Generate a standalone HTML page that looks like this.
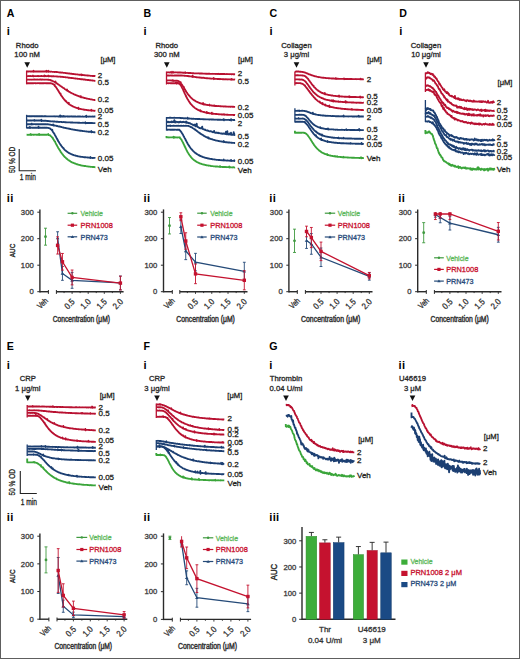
<!DOCTYPE html>
<html><head><meta charset="utf-8"><style>
html,body{margin:0;padding:0;background:#fff;}
body{width:520px;height:659px;overflow:hidden;}
svg{display:block;font-family:"Liberation Sans", sans-serif;}
</style></head><body>
<svg width="520" height="659" viewBox="0 0 520 659">
<rect x="0" y="0" width="520" height="659" fill="#fff"/>
<text x="6.80" y="16.60" font-size="10.6" text-anchor="start" fill="#000" font-weight="bold" >A</text>
<text x="6.80" y="35.00" font-size="11.2" text-anchor="start" fill="#000" font-weight="bold" letter-spacing="0.3">i</text>
<text x="27.20" y="47.50" font-size="7.7" text-anchor="middle" fill="#262626" font-weight="normal"  stroke="#262626" stroke-width="0.3">Rhodo</text>
<text x="27.20" y="57.40" font-size="7.7" text-anchor="middle" fill="#262626" font-weight="normal"  stroke="#262626" stroke-width="0.3">100 nM</text>
<path d="M24.40,62.30L30.00,62.30L27.20,67.70Z" fill="#111"/>
<text x="108.00" y="62.30" font-size="7.6" text-anchor="middle" fill="#231f20" font-weight="normal"  stroke="#231f20" stroke-width="0.3">[μM]</text>
<line x1="26.6" y1="70.5" x2="26.6" y2="84.3" stroke="#b81131" stroke-width="1.3"/>
<path d="M26.6,71.6L27.1,71.6L27.5,71.5L28.0,71.5L28.4,71.4L28.9,71.5L29.4,71.4L29.8,71.4L30.3,71.5L30.7,71.5L31.2,71.5L31.6,71.5L32.1,71.5L32.6,71.5L33.0,71.4L33.5,70.7L33.7,71.9L33.9,71.5L34.4,71.6L34.9,71.5L35.3,71.5L35.8,71.6L36.2,71.5L36.7,71.5L37.1,71.5L37.6,71.5L38.1,71.6L38.5,71.5L39.0,71.5L39.4,71.4L39.9,71.5L40.4,71.5L40.8,71.5L41.3,71.5L41.7,71.6L42.2,71.5L42.7,71.5L43.1,71.5L43.6,71.4L44.0,71.5L44.5,71.5L44.9,71.6L45.4,71.5L45.9,71.5L46.3,70.8L46.5,71.9L46.8,71.5L47.2,71.4L47.7,71.6L48.2,70.8L48.4,71.9L48.6,71.6L49.1,71.5L49.5,71.6L50.0,71.7L50.5,71.7L50.9,71.6L51.4,71.6L51.8,71.7L52.3,71.8L52.7,71.8L53.2,71.8L53.7,71.8L54.1,71.9L54.6,72.0L55.0,71.9L55.5,71.9L56.0,72.0L56.4,72.1L56.9,72.0L57.3,72.1L57.8,72.1L58.2,72.2L58.7,72.3L59.2,72.3L59.6,72.5L60.1,72.5L60.5,72.6L61.0,72.5L61.5,72.6L61.9,72.7L62.4,72.5L62.8,72.7L63.3,72.8L63.8,72.8L64.2,72.9L64.7,72.9L65.1,72.9L65.6,73.1L66.0,73.1L66.5,73.2L67.0,73.2L67.4,73.4L67.9,73.4L68.3,73.4L68.8,73.5L69.3,73.4L69.7,73.6L70.2,73.6L70.6,73.7L71.1,73.7L71.5,73.7L72.0,73.8L72.5,74.0L72.9,74.0L73.4,74.0L73.8,74.1L74.3,74.1L74.8,74.2L75.2,74.2L75.7,74.3L76.1,74.3L76.6,74.4L77.1,74.4L77.5,74.4L78.0,74.6L78.4,74.6L78.9,74.7L79.3,74.7L79.8,74.8L80.3,74.7L80.7,74.9L81.2,74.8L81.6,74.4L81.8,75.2L82.1,75.1L82.6,75.0L83.0,75.0L83.5,75.1L83.9,75.1L84.4,75.2L84.9,75.2L85.3,75.3L85.8,75.4L86.2,75.4L86.7,75.4L87.1,75.5L87.6,75.5L88.1,75.5L88.5,75.6L89.0,75.6L89.4,75.6L89.9,75.7L90.4,75.8L90.8,75.8L91.3,75.8L91.7,75.8L92.2,75.9L92.6,76.0L93.1,76.0L93.6,75.9L94.0,76.0L94.5,76.0L94.9,76.0L95.4,76.1" fill="none" stroke="#b81131" stroke-width="1.85" stroke-linejoin="round"/>
<path d="M26.6,76.2L27.1,76.1L27.5,76.1L28.0,76.1L28.4,76.1L28.9,76.0L29.4,76.1L29.8,76.1L30.3,76.0L30.7,76.1L31.2,76.1L31.6,76.1L32.1,76.1L32.6,76.1L33.0,75.6L33.2,76.3L33.5,75.9L33.9,76.2L34.4,76.1L34.9,76.1L35.3,76.1L35.8,76.1L36.2,76.1L36.7,76.1L37.1,76.1L37.6,76.0L38.1,76.2L38.5,76.0L39.0,76.1L39.4,76.1L39.9,76.1L40.4,76.1L40.8,76.1L41.3,75.9L41.7,76.1L42.2,76.1L42.7,76.1L43.1,76.2L43.6,76.0L44.0,76.1L44.5,75.4L44.7,76.3L44.9,76.1L45.4,76.0L45.9,76.0L46.3,76.2L46.8,76.1L47.2,76.1L47.7,76.1L48.2,75.6L48.4,76.3L48.6,76.1L49.1,76.2L49.5,76.0L50.0,76.2L50.5,76.1L50.9,76.2L51.4,76.1L51.8,76.3L52.3,76.3L52.7,76.2L53.2,76.2L53.7,76.2L54.1,76.3L54.6,76.3L55.0,76.4L55.5,76.4L56.0,76.4L56.4,76.4L56.9,76.5L57.3,76.5L57.8,76.6L58.2,76.6L58.7,76.7L59.2,76.6L59.6,76.6L60.1,76.7L60.5,76.7L61.0,76.7L61.5,76.8L61.9,76.9L62.4,76.8L62.8,77.0L63.3,77.0L63.8,77.1L64.2,77.1L64.7,77.1L65.1,77.2L65.6,77.2L66.0,77.3L66.5,77.3L67.0,77.4L67.4,77.4L67.9,77.5L68.3,77.7L68.8,77.7L69.3,77.7L69.7,77.8L70.2,77.8L70.6,77.9L71.1,78.0L71.5,77.9L72.0,78.0L72.5,78.1L72.9,78.1L73.4,78.2L73.8,78.3L74.3,78.4L74.8,78.4L75.2,78.5L75.7,78.5L76.1,78.6L76.6,78.6L77.1,78.7L77.5,78.7L78.0,78.8L78.4,78.9L78.9,78.9L79.3,78.9L79.8,79.0L80.3,79.1L80.7,79.2L81.2,79.2L81.6,79.2L82.1,79.2L82.6,79.4L83.0,79.4L83.5,79.5L83.9,79.5L84.4,79.6L84.9,79.5L85.3,79.7L85.8,79.7L86.2,79.8L86.7,79.8L87.1,79.9L87.6,80.0L88.1,80.0L88.5,80.0L89.0,80.1L89.4,80.2L89.9,80.2L90.4,80.2L90.8,80.3L91.3,80.3L91.7,80.4L92.2,80.5L92.6,80.5L93.1,80.6L93.6,80.6L94.0,80.6L94.5,80.8L94.9,80.8L95.4,80.8" fill="none" stroke="#b81131" stroke-width="1.85" stroke-linejoin="round"/>
<path d="M26.6,79.6L27.1,79.7L27.5,79.6L28.0,79.6L28.4,79.6L28.9,79.6L29.4,79.7L29.8,79.6L30.3,79.6L30.7,79.6L31.2,79.7L31.6,79.6L32.1,79.6L32.6,79.6L33.0,79.6L33.5,79.6L33.9,79.5L34.4,79.5L34.9,79.5L35.3,79.6L35.8,79.6L36.2,79.6L36.7,79.6L37.1,79.5L37.6,79.6L38.1,79.6L38.5,79.6L39.0,79.6L39.4,79.6L39.9,79.5L40.4,79.6L40.8,79.5L41.3,79.5L41.7,79.7L42.2,79.5L42.7,79.6L43.1,79.6L43.6,79.6L44.0,79.6L44.5,79.6L44.9,79.7L45.4,79.6L45.9,79.6L46.3,79.6L46.8,79.6L47.2,79.6L47.7,79.6L48.2,79.8L48.6,79.7L49.1,79.8L49.5,79.9L50.0,79.9L50.5,80.3L50.9,80.2L51.4,80.5L51.8,80.6L52.3,80.9L52.7,80.9L53.2,81.3L53.7,81.5L54.1,81.7L54.6,81.9L55.0,82.3L55.5,81.6L55.7,82.9L56.0,82.8L56.4,83.1L56.9,83.5L57.3,83.6L57.8,84.1L58.2,84.4L58.7,84.6L59.2,85.0L59.6,85.3L60.1,85.7L60.5,86.0L61.0,86.3L61.5,86.6L61.9,86.9L62.4,87.3L62.8,87.6L63.3,88.0L63.8,88.2L64.2,88.4L64.7,88.9L65.1,89.2L65.6,89.5L66.0,89.8L66.5,90.1L67.0,89.5L67.2,90.9L67.4,90.7L67.9,91.0L68.3,90.9L68.5,91.4L68.8,91.6L69.3,91.8L69.7,92.0L70.2,92.4L70.6,92.6L71.1,92.8L71.5,93.0L72.0,93.3L72.5,93.5L72.9,93.7L73.4,93.9L73.8,94.2L74.3,94.5L74.8,94.6L75.2,94.7L75.7,95.1L76.1,95.2L76.6,95.4L77.1,95.6L77.5,95.7L78.0,95.9L78.4,96.1L78.9,96.2L79.3,96.5L79.8,96.6L80.3,96.7L80.7,96.1L80.9,97.3L81.2,97.0L81.6,97.1L82.1,97.3L82.6,97.4L83.0,97.5L83.5,97.7L83.9,97.7L84.4,98.0L84.9,98.1L85.3,98.1L85.8,98.2L86.2,98.4L86.7,98.6L87.1,98.6L87.6,98.7L88.1,98.8L88.5,98.9L89.0,98.9L89.4,99.1L89.9,99.2L90.4,99.3L90.8,99.4L91.3,99.4L91.7,99.4L92.2,99.6L92.6,99.7L93.1,99.8L93.6,99.8L94.0,99.9L94.5,100.0L94.9,100.1L95.4,100.1" fill="none" stroke="#b81131" stroke-width="1.85" stroke-linejoin="round"/>
<path d="M26.6,83.2L27.1,83.2L27.5,83.2L28.0,83.2L28.4,83.2L28.9,83.2L29.4,83.3L29.8,83.2L30.3,83.2L30.7,83.2L31.2,83.2L31.6,83.2L32.1,83.2L32.6,83.2L33.0,83.2L33.5,83.3L33.9,83.2L34.4,83.1L34.9,83.2L35.3,83.2L35.8,83.2L36.2,83.3L36.7,83.2L37.1,83.1L37.6,83.2L38.1,83.2L38.5,83.1L39.0,83.2L39.4,83.2L39.9,83.2L40.4,83.2L40.8,83.2L41.3,83.3L41.7,83.2L42.2,83.2L42.7,83.2L43.1,83.3L43.6,83.2L44.0,83.3L44.5,83.1L44.9,83.1L45.4,83.2L45.9,83.2L46.3,83.2L46.8,83.2L47.2,83.2L47.7,83.2L48.2,83.2L48.6,83.3L49.1,83.2L49.5,83.2L50.0,83.3L50.5,83.2L50.9,83.3L51.4,83.4L51.8,83.5L52.3,83.6L52.7,83.9L53.2,84.2L53.7,84.5L54.1,84.9L54.6,84.6L54.8,86.0L55.0,86.0L55.5,86.6L56.0,87.2L56.4,87.8L56.9,88.5L57.3,89.2L57.8,89.9L58.2,90.6L58.7,91.4L59.2,92.2L59.6,92.9L60.1,93.7L60.5,93.5L60.7,94.9L61.0,95.1L61.5,95.9L61.9,96.3L62.4,97.1L62.8,97.6L63.3,98.4L63.8,98.9L64.2,99.6L64.7,100.0L65.1,100.4L65.6,101.1L66.0,101.0L66.2,101.6L66.5,101.9L67.0,102.4L67.4,102.8L67.9,103.1L68.3,103.5L68.8,102.8L69.0,104.3L69.3,104.3L69.7,104.5L70.2,104.9L70.6,105.2L71.1,105.4L71.5,105.7L72.0,105.9L72.5,106.2L72.9,106.4L73.4,106.7L73.8,106.8L74.3,107.0L74.8,107.2L75.2,107.4L75.7,107.6L76.1,107.7L76.6,107.8L77.1,108.1L77.5,108.2L78.0,108.3L78.4,107.6L78.6,109.1L78.9,108.6L79.3,108.7L79.8,108.8L80.3,108.8L80.7,109.0L81.2,109.1L81.6,109.2L82.1,109.3L82.6,109.4L83.0,109.4L83.5,109.5L83.9,109.7L84.4,109.7L84.9,109.7L85.3,109.8L85.8,109.9L86.2,109.9L86.7,110.0L87.1,110.1L87.6,110.2L88.1,110.2L88.5,110.2L89.0,110.3L89.4,110.3L89.9,110.4L90.4,110.4L90.8,110.5L91.3,109.7L91.5,110.8L91.7,110.5L92.2,110.5L92.6,110.6L93.1,110.6L93.6,110.7L94.0,110.8L94.5,110.8L94.9,110.7L95.4,110.8" fill="none" stroke="#b81131" stroke-width="1.85" stroke-linejoin="round"/>
<line x1="26.6" y1="114.8" x2="26.6" y2="128.3" stroke="#1c3f72" stroke-width="1.3"/>
<path d="M26.6,116.1L27.1,116.1L27.5,116.2L28.0,116.1L28.4,116.2L28.9,116.1L29.4,116.3L29.8,116.2L30.3,116.3L30.7,116.2L31.2,116.2L31.6,116.2L32.1,116.2L32.6,116.2L33.0,116.1L33.5,116.2L33.9,116.2L34.4,116.2L34.9,116.2L35.3,116.3L35.8,116.2L36.2,116.2L36.7,116.2L37.1,116.2L37.6,116.2L38.1,116.2L38.5,116.3L39.0,116.2L39.4,116.2L39.9,116.2L40.4,116.3L40.8,116.2L41.3,116.2L41.7,116.3L42.2,116.1L42.7,116.2L43.1,116.3L43.6,116.3L44.0,116.2L44.5,116.1L44.9,116.3L45.4,116.2L45.9,116.2L46.3,116.3L46.8,116.3L47.2,116.3L47.7,116.3L48.2,116.3L48.6,116.4L49.1,116.3L49.5,116.3L50.0,116.3L50.5,116.3L50.9,116.3L51.4,116.3L51.8,116.4L52.3,116.3L52.7,116.3L53.2,116.4L53.7,116.3L54.1,116.4L54.6,116.3L55.0,116.5L55.5,116.4L56.0,116.3L56.4,116.4L56.9,116.4L57.3,116.4L57.8,116.4L58.2,116.5L58.7,116.4L59.2,116.5L59.6,116.5L60.1,115.4L60.3,116.8L60.5,116.4L61.0,116.5L61.5,116.3L61.9,115.9L62.1,116.7L62.4,116.5L62.8,116.5L63.3,116.5L63.8,115.9L64.0,116.6L64.2,116.6L64.7,116.5L65.1,116.5L65.6,116.5L66.0,116.4L66.5,116.4L67.0,116.4L67.4,116.6L67.9,116.4L68.3,116.5L68.8,116.5L69.3,116.5L69.7,116.5L70.2,116.5L70.6,116.4L71.1,116.3L71.5,116.5L72.0,116.5L72.5,116.6L72.9,116.5L73.4,116.5L73.8,116.5L74.3,116.4L74.8,116.5L75.2,116.5L75.7,116.5L76.1,116.6L76.6,116.6L77.1,116.6L77.5,116.5L78.0,116.6L78.4,116.5L78.9,116.5L79.3,116.4L79.8,116.5L80.3,116.5L80.7,116.6L81.2,116.6L81.6,116.6L82.1,116.6L82.6,116.5L83.0,116.6L83.5,116.7L83.9,116.6L84.4,116.6L84.9,116.6L85.3,116.5L85.8,116.6L86.2,115.7L86.4,117.0L86.7,116.6L87.1,116.6L87.6,116.6L88.1,116.5L88.5,116.7L89.0,116.6L89.4,116.6L89.9,116.5L90.4,116.6L90.8,116.6L91.3,116.6L91.7,116.6L92.2,116.5L92.6,116.5L93.1,116.7L93.6,116.6L94.0,116.5L94.5,116.6L94.9,116.5L95.4,116.5" fill="none" stroke="#1c3f72" stroke-width="1.85" stroke-linejoin="round"/>
<path d="M26.6,120.5L27.1,120.4L27.5,120.5L28.0,120.5L28.4,120.6L28.9,120.5L29.4,120.4L29.8,120.5L30.3,120.4L30.7,120.6L31.2,120.5L31.6,120.6L32.1,120.5L32.6,120.4L33.0,120.4L33.5,120.5L33.9,120.5L34.4,119.9L34.6,120.9L34.9,120.5L35.3,120.5L35.8,120.5L36.2,120.4L36.7,120.5L37.1,120.5L37.6,120.6L38.1,120.5L38.5,120.5L39.0,120.4L39.4,120.5L39.9,120.5L40.4,120.5L40.8,120.5L41.3,119.7L41.5,121.1L41.7,120.5L42.2,120.6L42.7,120.7L43.1,120.6L43.6,120.8L44.0,120.8L44.5,120.7L44.9,120.7L45.4,120.7L45.9,120.9L46.3,120.8L46.8,121.0L47.2,121.0L47.7,121.0L48.2,121.0L48.6,121.1L49.1,121.1L49.5,121.2L50.0,121.1L50.5,121.3L50.9,121.3L51.4,121.3L51.8,121.4L52.3,121.3L52.7,121.4L53.2,121.5L53.7,121.6L54.1,121.5L54.6,121.5L55.0,121.6L55.5,121.6L56.0,121.6L56.4,121.8L56.9,121.7L57.3,121.7L57.8,121.7L58.2,121.8L58.7,122.0L59.2,122.0L59.6,121.9L60.1,121.9L60.5,121.9L61.0,121.9L61.5,122.0L61.9,122.0L62.4,122.2L62.8,122.1L63.3,122.1L63.8,122.0L64.2,122.1L64.7,122.2L65.1,122.2L65.6,122.2L66.0,122.2L66.5,122.3L67.0,122.3L67.4,122.3L67.9,122.3L68.3,122.3L68.8,122.3L69.3,122.4L69.7,122.4L70.2,122.4L70.6,122.5L71.1,122.5L71.5,122.5L72.0,122.5L72.5,122.4L72.9,122.6L73.4,122.6L73.8,122.6L74.3,122.6L74.8,122.6L75.2,122.6L75.7,122.7L76.1,122.6L76.6,122.7L77.1,122.6L77.5,122.7L78.0,122.7L78.4,122.7L78.9,122.7L79.3,122.6L79.8,122.8L80.3,122.8L80.7,122.8L81.2,122.8L81.6,122.8L82.1,122.9L82.6,122.9L83.0,122.7L83.5,122.9L83.9,122.9L84.4,122.9L84.9,122.9L85.3,122.3L85.5,123.4L85.8,122.9L86.2,123.0L86.7,123.0L87.1,122.9L87.6,123.0L88.1,123.0L88.5,123.0L89.0,123.0L89.4,123.1L89.9,123.0L90.4,123.0L90.8,123.0L91.3,122.9L91.7,123.0L92.2,123.0L92.6,123.1L93.1,123.1L93.6,123.1L94.0,123.1L94.5,123.1L94.9,123.1L95.4,123.1" fill="none" stroke="#1c3f72" stroke-width="1.85" stroke-linejoin="round"/>
<path d="M26.6,124.2L27.1,124.2L27.5,124.2L28.0,124.2L28.4,124.2L28.9,124.2L29.4,124.3L29.8,124.2L30.3,124.3L30.7,124.2L31.2,124.2L31.6,123.6L31.8,124.5L32.1,124.1L32.6,124.2L33.0,124.2L33.5,124.2L33.9,124.1L34.4,124.1L34.9,124.2L35.3,124.2L35.8,124.2L36.2,124.2L36.7,124.2L37.1,124.2L37.6,124.2L38.1,124.2L38.5,124.2L39.0,124.3L39.4,124.2L39.9,124.3L40.4,124.2L40.8,124.2L41.3,124.2L41.7,124.2L42.2,124.2L42.7,124.2L43.1,124.2L43.6,124.2L44.0,124.2L44.5,124.3L44.9,124.2L45.4,124.2L45.9,124.2L46.3,124.2L46.8,124.3L47.2,124.4L47.7,124.2L48.2,124.4L48.6,124.4L49.1,124.5L49.5,124.6L50.0,124.6L50.5,124.6L50.9,124.8L51.4,124.9L51.8,125.0L52.3,125.1L52.7,125.1L53.2,124.4L53.4,125.6L53.7,125.2L54.1,125.4L54.6,125.5L55.0,125.6L55.5,125.6L56.0,125.7L56.4,125.9L56.9,126.1L57.3,126.0L57.8,126.1L58.2,126.3L58.7,126.5L59.2,126.6L59.6,126.5L60.1,126.6L60.5,126.9L61.0,126.9L61.5,127.0L61.9,127.2L62.4,127.3L62.8,127.4L63.3,127.5L63.8,127.6L64.2,127.8L64.7,127.8L65.1,127.9L65.6,128.0L66.0,128.0L66.5,128.3L67.0,128.3L67.4,128.4L67.9,128.4L68.3,128.6L68.8,128.7L69.3,128.7L69.7,128.9L70.2,129.0L70.6,129.0L71.1,129.2L71.5,129.3L72.0,129.3L72.5,129.4L72.9,129.5L73.4,129.6L73.8,129.7L74.3,129.7L74.8,129.8L75.2,129.9L75.7,130.0L76.1,130.0L76.6,130.2L77.1,130.3L77.5,130.2L78.0,130.3L78.4,130.4L78.9,130.5L79.3,130.5L79.8,130.7L80.3,130.6L80.7,130.8L81.2,130.7L81.6,130.8L82.1,130.9L82.6,131.0L83.0,131.1L83.5,131.1L83.9,131.1L84.4,131.2L84.9,131.3L85.3,131.3L85.8,131.4L86.2,131.4L86.7,131.5L87.1,131.6L87.6,131.6L88.1,131.7L88.5,131.7L89.0,131.7L89.4,131.7L89.9,131.8L90.4,131.9L90.8,131.9L91.3,131.0L91.5,132.4L91.7,132.1L92.2,131.9L92.6,132.0L93.1,132.1L93.6,132.2L94.0,132.2L94.5,132.2L94.9,132.3L95.4,132.3" fill="none" stroke="#1c3f72" stroke-width="1.85" stroke-linejoin="round"/>
<path d="M26.6,127.7L27.1,127.8L27.5,127.8L28.0,127.8L28.4,127.7L28.9,127.7L29.4,127.7L29.8,126.9L30.0,128.1L30.3,127.7L30.7,127.7L31.2,127.6L31.6,127.7L32.1,127.7L32.6,127.8L33.0,127.7L33.5,127.7L33.9,127.7L34.4,127.7L34.9,127.6L35.3,127.8L35.8,127.7L36.2,127.7L36.7,127.7L37.1,127.9L37.6,127.8L38.1,127.7L38.5,126.7L38.7,128.1L39.0,127.8L39.4,127.7L39.9,127.8L40.4,127.6L40.8,127.7L41.3,127.8L41.7,127.7L42.2,127.7L42.7,127.7L43.1,127.8L43.6,127.7L44.0,127.7L44.5,127.8L44.9,127.6L45.4,127.7L45.9,127.7L46.3,127.7L46.8,127.6L47.2,127.8L47.7,127.8L48.2,127.9L48.6,128.0L49.1,128.1L49.5,128.3L50.0,128.4L50.5,128.9L50.9,129.2L51.4,129.7L51.8,130.2L52.3,129.8L52.5,131.2L52.7,131.4L53.2,132.2L53.7,132.9L54.1,133.5L54.6,134.3L55.0,135.2L55.5,136.0L56.0,136.9L56.4,137.7L56.9,138.5L57.3,139.4L57.8,140.1L58.2,141.1L58.7,141.8L59.2,142.6L59.6,143.3L60.1,144.1L60.5,144.7L61.0,145.3L61.5,146.1L61.9,146.7L62.4,147.2L62.8,147.8L63.3,147.9L63.5,148.6L63.8,148.3L64.0,149.0L64.2,149.3L64.7,149.8L65.1,150.2L65.6,150.6L66.0,150.9L66.5,151.3L67.0,151.6L67.4,152.0L67.9,152.3L68.3,152.6L68.8,152.9L69.3,153.2L69.7,153.3L70.2,153.7L70.6,153.8L71.1,154.0L71.5,154.3L72.0,154.4L72.5,154.6L72.9,154.8L73.4,154.9L73.8,155.1L74.3,155.3L74.8,155.3L75.2,155.5L75.7,155.6L76.1,155.8L76.6,155.9L77.1,156.0L77.5,156.1L78.0,156.3L78.4,156.3L78.9,156.4L79.3,156.5L79.8,156.6L80.3,156.7L80.7,156.7L81.2,156.8L81.6,156.8L82.1,156.9L82.6,156.9L83.0,157.0L83.5,157.1L83.9,157.2L84.4,157.2L84.9,157.2L85.3,157.2L85.8,157.4L86.2,157.4L86.7,157.4L87.1,157.4L87.6,157.5L88.1,157.5L88.5,157.6L89.0,157.6L89.4,157.7L89.9,157.7L90.4,157.0L90.6,158.0L90.8,157.7L91.3,157.8L91.7,157.8L92.2,157.9L92.6,158.0L93.1,158.0L93.6,157.9L94.0,157.9L94.5,157.9L94.9,157.9L95.4,158.0" fill="none" stroke="#1c3f72" stroke-width="1.85" stroke-linejoin="round"/>
<path d="M26.6,134.7L27.1,134.7L27.5,134.8L28.0,134.8L28.4,134.8L28.9,134.7L29.4,134.7L29.8,134.7L30.3,134.6L30.7,134.0L30.9,135.0L31.2,134.7L31.6,134.7L32.1,134.7L32.6,134.6L33.0,134.7L33.5,134.7L33.9,134.7L34.4,134.7L34.9,134.6L35.3,134.7L35.8,134.6L36.2,134.7L36.7,134.6L37.1,134.8L37.6,134.7L38.1,134.7L38.5,134.7L39.0,133.9L39.2,135.0L39.4,134.7L39.9,134.7L40.4,134.7L40.8,134.7L41.3,134.7L41.7,134.8L42.2,134.7L42.7,134.8L43.1,134.7L43.6,134.7L44.0,134.7L44.5,134.7L44.9,134.8L45.4,134.7L45.9,134.7L46.3,134.7L46.8,134.7L47.2,134.7L47.7,134.6L48.2,134.0L48.4,135.0L48.6,134.8L49.1,135.0L49.5,135.2L50.0,135.1L50.2,135.6L50.5,135.8L50.9,136.2L51.4,136.5L51.8,137.1L52.3,137.7L52.7,137.7L52.9,138.7L53.2,139.0L53.7,139.7L54.1,140.5L54.6,141.3L55.0,141.3L55.2,142.3L55.5,142.8L56.0,143.8L56.4,144.6L56.9,145.4L57.3,146.2L57.8,147.0L58.2,148.0L58.7,148.6L59.2,149.4L59.6,150.1L60.1,150.7L60.5,151.6L61.0,152.3L61.5,152.9L61.9,153.5L62.4,154.1L62.8,154.6L63.3,155.3L63.8,155.8L64.2,156.3L64.7,156.9L65.1,157.2L65.6,157.7L66.0,158.0L66.5,158.6L67.0,158.9L67.4,159.3L67.9,159.7L68.3,160.0L68.8,160.3L69.3,160.7L69.7,160.9L70.2,161.2L70.6,161.6L71.1,161.8L71.5,162.1L72.0,162.3L72.5,162.6L72.9,162.7L73.4,162.9L73.8,163.0L74.3,163.3L74.8,163.4L75.2,163.6L75.7,163.7L76.1,164.0L76.6,164.2L77.1,164.2L77.5,164.4L78.0,164.6L78.4,164.6L78.9,164.8L79.3,164.9L79.8,165.0L80.3,165.1L80.7,165.4L81.2,165.4L81.6,165.5L82.1,165.6L82.6,165.7L83.0,165.7L83.5,165.8L83.9,165.9L84.4,166.0L84.9,166.1L85.3,166.0L85.8,166.1L86.2,166.2L86.7,166.3L87.1,166.3L87.6,166.4L88.1,166.5L88.5,166.6L89.0,166.6L89.4,166.6L89.9,166.6L90.4,166.8L90.8,166.8L91.3,166.8L91.7,166.9L92.2,166.9L92.6,167.0L93.1,166.9L93.6,167.1L94.0,167.0L94.5,167.1L94.9,167.2L95.4,167.2" fill="none" stroke="#3aa53a" stroke-width="1.85" stroke-linejoin="round"/>
<text x="97.80" y="78.40" font-size="8" text-anchor="start" fill="#231f20" font-weight="normal"  stroke="#231f20" stroke-width="0.3">2</text>
<text x="97.80" y="84.90" font-size="8" text-anchor="start" fill="#231f20" font-weight="normal"  stroke="#231f20" stroke-width="0.3">0.5</text>
<text x="97.80" y="102.40" font-size="8" text-anchor="start" fill="#231f20" font-weight="normal"  stroke="#231f20" stroke-width="0.3">0.2</text>
<text x="97.80" y="113.40" font-size="8" text-anchor="start" fill="#231f20" font-weight="normal"  stroke="#231f20" stroke-width="0.3">0.05</text>
<text x="97.80" y="119.20" font-size="8" text-anchor="start" fill="#231f20" font-weight="normal"  stroke="#231f20" stroke-width="0.3">2</text>
<text x="97.80" y="126.60" font-size="8" text-anchor="start" fill="#231f20" font-weight="normal"  stroke="#231f20" stroke-width="0.3">0.5</text>
<text x="97.80" y="135.40" font-size="8" text-anchor="start" fill="#231f20" font-weight="normal"  stroke="#231f20" stroke-width="0.3">0.2</text>
<text x="97.80" y="160.90" font-size="8" text-anchor="start" fill="#231f20" font-weight="normal"  stroke="#231f20" stroke-width="0.3">0.05</text>
<text x="97.80" y="171.60" font-size="8" text-anchor="start" fill="#231f20" font-weight="normal"  stroke="#231f20" stroke-width="0.3">Veh</text>
<path d="M19.20,149.10L19.20,170.70L35.90,170.70" fill="none" stroke="#222" stroke-width="1.1"/>
<text x="0" y="0" font-size="8.6" text-anchor="middle" fill="#231f20" transform="translate(14.60,159.90) rotate(-90)" textLength="26.4" lengthAdjust="spacingAndGlyphs" stroke="#231f20" stroke-width="0.3">50 % OD</text>
<text x="27.85" y="180.20" font-size="8.4" text-anchor="middle" fill="#231f20" textLength="16.2" lengthAdjust="spacingAndGlyphs" stroke="#231f20" stroke-width="0.3">1 min</text>
<text x="143.50" y="16.60" font-size="10.6" text-anchor="start" fill="#000" font-weight="bold" >B</text>
<text x="143.50" y="35.00" font-size="11.2" text-anchor="start" fill="#000" font-weight="bold" letter-spacing="0.3">i</text>
<text x="166.80" y="47.50" font-size="7.7" text-anchor="middle" fill="#262626" font-weight="normal"  stroke="#262626" stroke-width="0.3">Rhodo</text>
<text x="166.80" y="57.40" font-size="7.7" text-anchor="middle" fill="#262626" font-weight="normal"  stroke="#262626" stroke-width="0.3">300 nM</text>
<path d="M164.00,62.30L169.60,62.30L166.80,67.70Z" fill="#111"/>
<text x="245.50" y="62.30" font-size="7.6" text-anchor="middle" fill="#231f20" font-weight="normal"  stroke="#231f20" stroke-width="0.3">[μM]</text>
<line x1="166.5" y1="71.5" x2="166.5" y2="84.5" stroke="#b81131" stroke-width="1.3"/>
<path d="M166.5,72.3L167.0,72.4L167.4,72.4L167.9,72.4L168.3,72.3L168.8,72.4L169.2,72.4L169.7,72.5L170.2,72.3L170.6,72.3L171.1,71.8L171.3,72.8L171.5,72.4L172.0,72.5L172.4,72.4L172.9,71.8L173.1,72.7L173.4,72.4L173.8,72.5L174.3,72.4L174.7,72.4L175.2,72.3L175.6,72.4L176.1,72.4L176.6,72.4L177.0,72.4L177.5,72.5L177.9,72.5L178.4,72.5L178.8,72.5L179.3,72.4L179.8,72.6L180.2,72.5L180.7,72.6L181.1,72.5L181.6,72.6L182.0,72.6L182.5,72.7L183.0,72.9L183.4,72.7L183.9,72.8L184.3,72.7L184.8,72.8L185.3,72.3L185.5,73.1L185.7,72.8L186.2,72.9L186.6,72.9L187.1,72.8L187.5,72.9L188.0,72.9L188.5,73.1L188.9,73.0L189.4,73.0L189.8,73.0L190.3,73.1L190.7,73.0L191.2,73.1L191.7,73.1L192.1,73.2L192.6,73.2L193.0,73.2L193.5,73.2L193.9,73.3L194.4,73.3L194.9,73.3L195.3,73.3L195.8,73.3L196.2,73.3L196.7,73.3L197.1,73.4L197.6,73.4L198.1,73.4L198.5,73.3L199.0,73.4L199.4,73.5L199.9,73.5L200.3,73.5L200.8,73.5L201.3,73.5L201.7,73.5L202.2,73.5L202.6,73.6L203.1,73.6L203.5,73.6L204.0,73.6L204.5,73.7L204.9,73.6L205.4,73.7L205.8,73.7L206.3,73.6L206.7,73.8L207.2,73.8L207.7,73.7L208.1,73.7L208.6,73.7L209.0,73.7L209.5,73.7L209.9,73.8L210.4,73.8L210.9,73.8L211.3,73.8L211.8,73.9L212.2,73.8L212.7,73.9L213.1,73.9L213.6,73.8L214.1,73.8L214.5,73.8L215.0,73.9L215.4,73.9L215.9,74.0L216.3,73.9L216.8,73.9L217.3,74.0L217.7,73.9L218.2,73.8L218.6,74.0L219.1,74.1L219.6,74.0L220.0,73.9L220.5,74.0L220.9,74.0L221.4,74.1L221.8,74.0L222.3,74.0L222.8,74.1L223.2,74.0L223.7,74.1L224.1,74.0L224.6,74.0L225.0,74.1L225.5,74.1L226.0,74.1L226.4,74.1L226.9,74.0L227.3,74.1L227.8,74.1L228.2,74.1L228.7,74.1L229.2,74.1L229.6,74.2L230.1,74.1L230.5,74.1L231.0,74.2L231.4,74.2L231.9,74.2L232.4,74.1L232.8,74.2L233.3,74.1L233.7,74.3L234.2,74.3L234.6,74.2L235.1,74.2" fill="none" stroke="#b81131" stroke-width="1.85" stroke-linejoin="round"/>
<path d="M166.5,75.4L167.0,75.5L167.4,75.5L167.9,75.5L168.3,75.5L168.8,75.5L169.2,75.5L169.7,75.6L170.2,75.5L170.6,75.4L171.1,75.4L171.5,75.5L172.0,75.5L172.4,75.5L172.9,75.6L173.4,75.6L173.8,75.6L174.3,75.5L174.7,75.6L175.2,75.5L175.6,75.5L176.1,75.5L176.6,75.5L177.0,75.5L177.5,75.6L177.9,75.5L178.4,75.5L178.8,75.5L179.3,75.6L179.8,75.5L180.2,75.5L180.7,75.5L181.1,75.5L181.6,75.6L182.0,75.5L182.5,75.6L183.0,75.6L183.4,75.6L183.9,75.7L184.3,75.8L184.8,75.7L185.3,75.8L185.7,75.8L186.2,75.8L186.6,75.9L187.1,76.0L187.5,76.0L188.0,75.9L188.5,76.2L188.9,76.2L189.4,76.2L189.8,76.3L190.3,76.3L190.7,76.3L191.2,76.5L191.7,76.6L192.1,76.5L192.6,75.8L192.8,77.1L193.0,76.7L193.5,76.7L193.9,76.9L194.4,76.9L194.9,76.9L195.3,77.0L195.8,77.1L196.2,77.2L196.7,77.1L197.1,77.3L197.6,77.3L198.1,77.4L198.5,77.4L199.0,77.5L199.4,77.5L199.9,77.5L200.3,77.5L200.8,77.7L201.3,77.7L201.7,77.7L202.2,77.8L202.6,77.9L203.1,77.7L203.5,77.9L204.0,77.8L204.5,78.0L204.9,78.1L205.4,78.2L205.8,78.1L206.3,78.2L206.7,78.2L207.2,78.1L207.7,78.3L208.1,78.3L208.6,78.4L209.0,78.3L209.5,78.4L209.9,78.5L210.4,78.6L210.9,78.5L211.3,78.7L211.8,78.6L212.2,78.6L212.7,78.6L213.1,78.6L213.6,78.0L213.8,79.2L214.1,78.8L214.5,78.7L215.0,78.8L215.4,78.9L215.9,78.8L216.3,78.9L216.8,78.9L217.3,79.0L217.7,79.0L218.2,79.0L218.6,79.0L219.1,79.1L219.6,79.0L220.0,79.2L220.5,79.0L220.9,79.1L221.4,79.1L221.8,79.1L222.3,79.2L222.8,79.2L223.2,79.2L223.7,79.2L224.1,79.3L224.6,79.3L225.0,79.2L225.5,79.3L226.0,79.2L226.4,79.4L226.9,79.3L227.3,79.3L227.8,79.5L228.2,79.3L228.7,79.4L229.2,79.4L229.6,79.3L230.1,79.4L230.5,79.5L231.0,79.4L231.4,79.0L231.6,79.7L231.9,79.6L232.4,79.5L232.8,79.5L233.3,79.6L233.7,79.6L234.2,79.6L234.6,79.5L235.1,79.7" fill="none" stroke="#b81131" stroke-width="1.85" stroke-linejoin="round"/>
<path d="M166.5,80.5L167.0,80.6L167.4,80.4L167.9,80.3L168.3,80.3L168.8,80.3L169.2,80.3L169.7,80.4L170.2,80.4L170.6,80.4L171.1,80.5L171.5,80.5L172.0,80.6L172.4,80.7L172.9,80.1L173.1,81.0L173.4,80.6L173.8,80.7L174.3,80.7L174.7,80.8L175.2,80.8L175.6,80.7L176.1,80.6L176.6,80.7L177.0,80.6L177.5,80.8L177.9,80.8L178.4,81.0L178.8,81.3L179.3,81.5L179.8,82.0L180.2,82.4L180.7,82.3L180.9,83.2L181.1,83.5L181.6,84.2L182.0,84.8L182.5,85.6L183.0,86.3L183.4,87.0L183.9,87.0L184.1,88.4L184.3,88.6L184.8,89.3L185.3,90.1L185.7,90.9L186.2,91.6L186.6,92.2L187.1,92.9L187.5,93.6L188.0,94.3L188.5,94.8L188.9,95.4L189.4,95.9L189.8,96.4L190.3,97.0L190.7,97.5L191.2,97.9L191.7,98.3L192.1,98.7L192.6,99.1L193.0,99.5L193.5,99.8L193.9,100.1L194.4,100.4L194.9,100.7L195.3,100.9L195.8,101.3L196.2,101.5L196.7,101.8L197.1,101.9L197.6,102.1L198.1,102.3L198.5,102.5L199.0,102.8L199.4,103.0L199.9,103.0L200.3,103.3L200.8,103.5L201.3,103.5L201.7,103.7L202.2,103.9L202.6,104.0L203.1,103.0L203.3,104.5L203.5,104.1L204.0,104.3L204.5,104.1L204.7,104.6L204.9,104.4L205.4,104.5L205.8,104.6L206.3,104.8L206.7,104.8L207.2,104.9L207.7,105.0L208.1,105.1L208.6,105.1L209.0,105.2L209.5,104.6L209.7,105.6L209.9,105.3L210.4,105.3L210.9,105.4L211.3,105.5L211.8,105.5L212.2,105.6L212.7,105.6L213.1,105.8L213.6,105.7L214.1,105.8L214.5,105.4L214.7,106.0L215.0,105.8L215.4,106.0L215.9,106.0L216.3,106.0L216.8,105.9L217.3,106.1L217.7,106.1L218.2,106.1L218.6,106.0L219.1,106.2L219.6,106.1L220.0,106.2L220.5,106.2L220.9,106.2L221.4,106.3L221.8,106.3L222.3,106.4L222.8,106.3L223.2,106.4L223.7,106.5L224.1,106.5L224.6,106.4L225.0,106.4L225.5,106.5L226.0,106.5L226.4,106.6L226.9,106.6L227.3,106.6L227.8,106.6L228.2,106.6L228.7,106.7L229.2,106.7L229.6,106.6L230.1,106.7L230.5,106.7L231.0,106.7L231.4,106.6L231.9,106.7L232.4,106.7L232.8,106.8L233.3,106.7L233.7,106.8L234.2,106.8L234.6,106.8L235.1,106.8" fill="none" stroke="#b81131" stroke-width="1.85" stroke-linejoin="round"/>
<path d="M166.5,83.3L167.0,83.2L167.4,83.1L167.9,83.1L168.3,83.2L168.8,83.2L169.2,83.2L169.7,83.1L170.2,83.2L170.6,83.3L171.1,83.1L171.5,83.3L172.0,83.2L172.4,83.2L172.9,83.2L173.4,83.2L173.8,83.2L174.3,83.3L174.7,83.2L175.2,83.2L175.6,83.1L176.1,82.2L176.3,83.7L176.6,83.2L177.0,83.3L177.5,83.2L177.9,82.5L178.1,83.6L178.4,83.3L178.8,83.4L179.3,83.7L179.8,84.1L180.2,84.6L180.7,85.2L181.1,85.8L181.6,86.7L182.0,87.6L182.5,88.5L183.0,89.4L183.4,90.5L183.9,91.5L184.3,92.5L184.8,93.6L185.3,94.5L185.7,95.5L186.2,96.5L186.6,97.3L187.1,98.3L187.5,99.0L188.0,99.8L188.5,100.6L188.9,101.3L189.4,102.0L189.8,102.7L190.3,103.3L190.7,103.8L191.2,104.4L191.7,104.9L192.1,105.4L192.6,105.9L193.0,106.3L193.5,106.8L193.9,107.1L194.4,107.5L194.9,107.9L195.3,108.2L195.8,108.5L196.2,108.8L196.7,109.2L197.1,109.3L197.6,109.6L198.1,109.9L198.5,110.1L199.0,110.2L199.4,110.6L199.9,110.7L200.3,110.2L200.5,111.3L200.8,111.0L201.3,111.2L201.7,111.4L202.2,111.6L202.6,111.7L203.1,111.8L203.5,112.0L204.0,112.0L204.5,112.1L204.9,112.3L205.4,112.5L205.8,112.6L206.3,112.6L206.7,111.9L206.9,113.2L207.2,112.8L207.7,112.9L208.1,113.1L208.6,113.0L209.0,113.2L209.5,113.2L209.9,113.3L210.4,113.4L210.9,113.4L211.3,113.5L211.8,112.6L212.0,114.0L212.2,113.6L212.7,113.7L213.1,113.7L213.6,113.7L214.1,113.8L214.5,113.8L215.0,113.8L215.4,113.9L215.9,114.1L216.3,114.0L216.8,114.0L217.3,114.1L217.7,114.1L218.2,114.2L218.6,114.3L219.1,114.2L219.6,114.3L220.0,114.3L220.5,114.4L220.9,114.3L221.4,114.4L221.8,114.6L222.3,114.4L222.8,114.5L223.2,114.5L223.7,114.6L224.1,114.2L224.3,114.8L224.6,114.7L225.0,114.6L225.5,114.7L226.0,114.6L226.4,114.7L226.9,114.6L227.3,114.8L227.8,114.7L228.2,114.8L228.7,114.8L229.2,114.8L229.6,114.8L230.1,114.9L230.5,114.8L231.0,114.8L231.4,114.9L231.9,114.9L232.4,114.9L232.8,114.9L233.3,114.9L233.7,115.1L234.2,114.9L234.6,114.9L235.1,115.0" fill="none" stroke="#b81131" stroke-width="1.85" stroke-linejoin="round"/>
<line x1="166.5" y1="117" x2="166.5" y2="130.5" stroke="#1c3f72" stroke-width="1.3"/>
<path d="M166.5,117.8L167.0,117.8L167.4,117.8L167.9,117.8L168.3,117.8L168.8,117.8L169.2,117.9L169.7,117.7L170.2,117.9L170.6,117.6L171.1,117.8L171.5,117.8L172.0,117.8L172.4,117.8L172.9,117.8L173.4,117.8L173.8,117.9L174.3,117.7L174.7,117.8L175.2,117.8L175.6,117.9L176.1,117.8L176.6,117.8L177.0,117.9L177.5,117.9L177.9,117.9L178.4,117.9L178.8,117.9L179.3,117.8L179.8,117.9L180.2,118.0L180.7,118.0L181.1,118.2L181.6,118.0L182.0,118.0L182.5,118.1L183.0,118.2L183.4,118.2L183.9,118.3L184.3,118.3L184.8,118.2L185.3,118.2L185.7,118.3L186.2,118.4L186.6,118.4L187.1,118.4L187.5,117.6L187.7,118.9L188.0,118.5L188.5,118.4L188.9,118.5L189.4,118.5L189.8,118.6L190.3,118.6L190.7,118.6L191.2,118.7L191.7,118.7L192.1,118.7L192.6,118.8L193.0,118.8L193.5,118.7L193.9,118.8L194.4,118.8L194.9,118.8L195.3,118.9L195.8,119.0L196.2,118.9L196.7,118.9L197.1,119.0L197.6,118.9L198.1,119.0L198.5,119.1L199.0,118.9L199.4,119.1L199.9,119.0L200.3,119.2L200.8,119.1L201.3,119.2L201.7,119.1L202.2,119.1L202.6,119.2L203.1,119.2L203.5,119.2L204.0,119.3L204.5,119.3L204.9,119.2L205.4,119.3L205.8,119.3L206.3,119.3L206.7,119.3L207.2,119.3L207.7,119.4L208.1,119.4L208.6,119.4L209.0,119.5L209.5,119.4L209.9,119.5L210.4,119.4L210.9,119.4L211.3,119.5L211.8,119.5L212.2,119.6L212.7,119.5L213.1,119.6L213.6,119.5L214.1,119.7L214.5,119.6L215.0,119.6L215.4,119.7L215.9,119.6L216.3,119.6L216.8,119.7L217.3,119.8L217.7,119.6L218.2,119.8L218.6,119.7L219.1,119.7L219.6,119.7L220.0,119.8L220.5,119.7L220.9,119.7L221.4,119.8L221.8,119.8L222.3,119.8L222.8,119.7L223.2,119.9L223.7,119.1L223.9,120.3L224.1,119.8L224.6,119.8L225.0,119.9L225.5,119.8L226.0,119.9L226.4,119.9L226.9,119.9L227.3,119.8L227.8,119.8L228.2,119.9L228.7,119.8L229.2,120.0L229.6,120.0L230.1,119.9L230.5,120.0L231.0,119.1L231.2,120.5L231.4,120.0L231.9,119.9L232.4,119.9L232.8,119.9L233.3,120.0L233.7,119.9L234.2,120.0L234.6,120.1L235.1,120.0" fill="none" stroke="#1c3f72" stroke-width="1.85" stroke-linejoin="round"/>
<path d="M166.5,121.9L167.0,122.2L167.4,121.8L167.9,122.1L168.3,121.8L168.8,122.2L169.2,122.0L169.7,122.3L170.2,122.2L170.6,122.0L171.1,121.9L171.5,121.5L171.7,122.4L172.0,122.0L172.4,121.8L172.9,122.1L173.4,121.5L173.8,122.0L174.3,120.2L174.6,122.4L174.7,122.1L175.2,121.7L175.6,121.4L175.8,122.6L176.1,122.0L176.6,121.9L177.0,121.9L177.5,122.0L177.9,122.2L178.4,122.0L178.8,122.4L179.3,121.9L179.8,122.2L180.2,121.7L180.7,121.6L181.1,122.0L181.6,122.1L182.0,122.4L182.5,121.9L183.0,122.1L183.4,121.8L183.9,122.0L184.3,122.2L184.8,122.0L185.3,122.4L185.7,122.5L186.2,121.5L186.4,122.9L186.6,122.4L187.1,122.5L187.5,122.8L188.0,122.6L188.5,123.2L188.9,123.0L189.4,123.3L189.8,123.2L190.3,123.4L190.7,123.7L191.2,124.1L191.7,124.2L192.1,124.4L192.6,124.8L193.0,124.6L193.5,125.2L193.9,125.1L194.4,125.3L194.9,124.5L195.2,125.5L195.3,126.1L195.8,126.4L196.2,125.3L196.5,126.2L196.7,123.6L197.0,126.3L197.1,126.4L197.6,126.9L198.1,127.2L198.5,127.4L199.0,127.6L199.4,128.0L199.9,127.9L200.3,128.2L200.8,128.2L201.3,128.3L201.7,128.2L202.2,126.6L202.5,128.8L202.6,128.9L203.1,129.1L203.5,129.2L204.0,129.5L204.5,129.7L204.9,129.4L205.4,129.9L205.8,130.2L206.3,130.3L206.7,130.4L207.2,130.6L207.7,130.4L208.1,130.9L208.6,130.9L209.0,131.1L209.5,131.3L209.9,131.3L210.4,131.2L210.9,131.1L211.3,131.5L211.8,131.7L212.2,131.9L212.7,132.2L213.1,132.1L213.6,132.2L214.1,130.9L214.3,132.4L214.5,132.5L215.0,132.5L215.4,132.9L215.9,132.8L216.3,132.5L216.8,132.8L217.3,133.0L217.7,132.7L218.2,132.7L218.6,133.2L219.1,133.0L219.6,133.2L220.0,133.3L220.5,133.3L220.9,133.6L221.4,133.5L221.8,133.6L222.3,133.8L222.8,133.6L223.2,133.5L223.7,133.8L224.1,133.6L224.6,133.9L225.0,133.7L225.5,134.0L226.0,131.8L226.3,134.3L226.4,134.2L226.9,134.0L227.3,131.2L227.6,133.9L227.8,134.1L228.2,134.5L228.7,134.4L229.2,134.0L229.6,133.4L229.9,134.5L230.1,134.5L230.5,133.4L230.8,134.6L231.0,132.7L231.3,134.8L231.4,134.4L231.9,134.7L232.4,134.6L232.8,134.9L233.3,134.6L233.7,132.1L234.0,134.4L234.2,133.7L234.5,134.8L234.6,135.0L235.1,134.8" fill="none" stroke="#1c3f72" stroke-width="1.85" stroke-linejoin="round"/>
<path d="M166.5,125.7L167.0,125.8L167.4,125.8L167.9,125.8L168.3,125.8L168.8,125.7L169.2,125.8L169.7,125.8L170.2,125.4L170.4,126.1L170.6,125.8L171.1,125.8L171.5,125.8L172.0,125.8L172.4,125.8L172.9,125.9L173.4,125.7L173.8,125.7L174.3,125.9L174.7,125.9L175.2,125.8L175.6,125.8L176.1,125.8L176.6,125.8L177.0,125.7L177.5,125.8L177.9,125.8L178.4,125.7L178.8,125.8L179.3,125.8L179.8,125.8L180.2,125.9L180.7,125.9L181.1,125.6L181.6,125.8L182.0,125.9L182.5,125.9L183.0,125.8L183.4,125.7L183.9,125.8L184.3,125.8L184.8,125.9L185.3,125.8L185.7,125.7L186.2,125.9L186.6,125.8L187.1,125.9L187.5,125.9L188.0,125.9L188.5,125.9L188.9,126.1L189.4,126.3L189.8,126.5L190.3,126.7L190.7,127.0L191.2,127.1L191.7,127.4L192.1,127.5L192.6,127.9L193.0,128.2L193.5,128.5L193.9,128.8L194.4,129.1L194.9,129.4L195.3,129.9L195.8,130.1L196.2,130.4L196.7,130.9L197.1,131.1L197.6,131.5L198.1,131.9L198.5,132.2L199.0,132.6L199.4,132.8L199.9,133.1L200.3,133.6L200.8,133.9L201.3,134.1L201.7,134.4L202.2,134.6L202.6,135.0L203.1,135.2L203.5,135.6L204.0,135.9L204.5,136.1L204.9,136.3L205.4,136.6L205.8,136.8L206.3,137.1L206.7,137.3L207.2,137.5L207.7,137.2L207.9,138.0L208.1,137.8L208.6,137.5L208.8,138.5L209.0,138.2L209.5,138.5L209.9,138.6L210.4,138.8L210.9,139.0L211.3,139.1L211.8,139.2L212.2,139.4L212.7,139.5L213.1,139.7L213.6,139.8L214.1,139.9L214.5,140.1L215.0,140.2L215.4,140.3L215.9,140.5L216.3,140.6L216.8,140.6L217.3,140.7L217.7,140.8L218.2,141.0L218.6,141.0L219.1,141.1L219.6,141.1L220.0,141.3L220.5,141.4L220.9,141.4L221.4,141.5L221.8,141.6L222.3,141.7L222.8,141.8L223.2,141.8L223.7,141.0L223.9,142.2L224.1,141.8L224.6,142.0L225.0,142.0L225.5,142.2L226.0,142.2L226.4,142.2L226.9,142.2L227.3,142.3L227.8,142.5L228.2,142.4L228.7,142.5L229.2,142.6L229.6,142.5L230.1,142.6L230.5,142.6L231.0,142.7L231.4,142.7L231.9,142.7L232.4,142.8L232.8,142.8L233.3,142.8L233.7,142.9L234.2,142.9L234.6,143.0L235.1,143.0" fill="none" stroke="#1c3f72" stroke-width="1.85" stroke-linejoin="round"/>
<path d="M166.5,129.7L167.0,129.8L167.4,129.7L167.9,129.7L168.3,129.6L168.8,129.7L169.2,129.6L169.7,129.7L170.2,129.7L170.6,129.7L171.1,129.7L171.5,129.7L172.0,129.7L172.4,129.6L172.9,129.8L173.4,129.6L173.8,129.7L174.3,129.7L174.7,129.7L175.2,129.6L175.6,129.7L176.1,129.8L176.6,129.8L177.0,129.6L177.5,129.7L177.9,129.7L178.4,129.9L178.8,129.9L179.3,129.6L179.5,130.3L179.8,130.5L180.2,130.7L180.7,131.3L181.1,131.8L181.6,132.5L182.0,133.2L182.5,134.0L183.0,134.8L183.4,135.7L183.9,136.5L184.3,137.4L184.8,138.3L185.3,139.1L185.7,140.1L186.2,140.9L186.6,141.7L187.1,142.5L187.5,143.4L188.0,144.2L188.5,145.0L188.9,145.7L189.4,146.3L189.8,147.0L190.3,147.6L190.7,148.3L191.2,148.9L191.7,149.3L192.1,149.9L192.6,150.4L193.0,150.9L193.5,151.3L193.9,151.7L194.4,152.1L194.9,152.6L195.3,153.0L195.8,153.2L196.2,153.5L196.7,154.0L197.1,154.2L197.6,154.4L198.1,154.8L198.5,155.1L199.0,155.3L199.4,155.2L199.6,155.7L199.9,155.7L200.3,156.0L200.8,156.1L201.3,156.3L201.7,156.6L202.2,156.6L202.6,156.9L203.1,157.1L203.5,157.2L204.0,157.4L204.5,157.4L204.9,157.7L205.4,157.9L205.8,157.9L206.3,158.0L206.7,158.1L207.2,158.2L207.7,158.4L208.1,158.5L208.6,158.5L209.0,158.6L209.5,158.6L209.9,158.8L210.4,158.8L210.9,159.0L211.3,159.0L211.8,159.0L212.2,159.1L212.7,159.3L213.1,159.3L213.6,159.3L214.1,159.3L214.5,159.5L215.0,159.6L215.4,159.6L215.9,159.7L216.3,159.8L216.8,159.8L217.3,159.8L217.7,159.8L218.2,159.9L218.6,160.0L219.1,159.9L219.6,160.0L220.0,160.0L220.5,160.2L220.9,160.1L221.4,160.2L221.8,160.2L222.3,160.3L222.8,160.3L223.2,160.3L223.7,159.6L223.9,160.6L224.1,160.4L224.6,160.4L225.0,160.4L225.5,160.4L226.0,160.5L226.4,160.6L226.9,160.6L227.3,160.5L227.8,160.5L228.2,160.6L228.7,160.6L229.2,160.6L229.6,160.7L230.1,160.7L230.5,160.8L231.0,159.9L231.2,161.1L231.4,160.8L231.9,160.8L232.4,160.8L232.8,160.8L233.3,160.8L233.7,160.9L234.2,160.3L234.4,161.1L234.6,160.8L235.1,161.0" fill="none" stroke="#1c3f72" stroke-width="1.85" stroke-linejoin="round"/>
<path d="M166.5,136.0L166.5,137.4L167.0,137.3L167.4,137.3L167.9,137.4L168.3,137.3L168.8,137.5L169.2,137.4L169.7,137.4L170.2,137.4L170.6,137.4L171.1,137.4L171.5,137.4L172.0,137.4L172.4,137.4L172.9,137.4L173.4,136.7L173.6,137.9L173.8,137.4L174.3,137.0L174.5,137.6L174.7,137.4L175.2,137.5L175.6,137.3L176.1,137.5L176.6,137.4L177.0,137.4L177.5,137.5L177.9,137.4L178.4,137.4L178.8,137.4L179.3,137.5L179.8,137.3L180.0,138.1L180.2,138.3L180.7,138.7L181.1,139.4L181.6,139.9L182.0,140.9L182.5,141.8L183.0,142.6L183.4,143.5L183.9,144.5L184.3,145.5L184.8,146.5L185.3,147.5L185.7,148.4L186.2,149.3L186.6,150.2L187.1,151.1L187.5,152.0L188.0,152.8L188.5,153.5L188.9,154.2L189.4,155.0L189.8,155.5L190.3,156.2L190.7,156.7L191.2,157.3L191.7,157.8L192.1,158.3L192.6,158.8L193.0,159.2L193.5,159.6L193.9,160.0L194.4,160.4L194.9,160.7L195.3,160.9L195.8,161.3L196.2,161.7L196.7,161.9L197.1,162.1L197.6,162.3L198.1,162.5L198.5,162.8L199.0,163.0L199.4,163.1L199.9,163.4L200.3,163.6L200.8,163.7L201.3,163.9L201.7,164.0L202.2,164.2L202.6,164.3L203.1,164.4L203.5,164.6L204.0,164.6L204.5,164.7L204.9,164.9L205.4,165.0L205.8,165.1L206.3,165.1L206.7,165.3L207.2,165.4L207.7,165.4L208.1,165.4L208.6,165.7L209.0,165.6L209.5,165.6L209.9,165.7L210.4,165.9L210.9,166.0L211.3,166.1L211.8,166.1L212.2,166.1L212.7,166.1L213.1,166.2L213.6,166.3L214.1,166.3L214.5,166.3L215.0,166.4L215.4,166.5L215.9,166.5L216.3,166.6L216.8,166.5L217.3,166.5L217.7,166.6L218.2,166.6L218.6,166.7L219.1,166.8L219.6,166.7L220.0,166.1L220.2,167.1L220.5,166.9L220.9,166.9L221.4,166.9L221.8,166.9L222.3,167.0L222.8,166.9L223.2,167.0L223.7,167.0L224.1,167.0L224.6,167.0L225.0,167.0L225.5,167.1L226.0,167.0L226.4,167.1L226.9,167.2L227.3,167.1L227.8,167.1L228.2,167.1L228.7,167.2L229.2,166.5L229.4,167.6L229.6,167.2L230.1,167.3L230.5,167.2L231.0,167.3L231.4,167.3L231.9,167.3L232.4,167.3L232.8,167.5L233.3,167.2L233.7,167.4L234.2,167.4L234.6,167.5L235.1,167.3" fill="none" stroke="#3aa53a" stroke-width="1.85" stroke-linejoin="round"/>
<text x="237.80" y="76.10" font-size="8" text-anchor="start" fill="#231f20" font-weight="normal"  stroke="#231f20" stroke-width="0.3">2</text>
<text x="237.80" y="83.90" font-size="8" text-anchor="start" fill="#231f20" font-weight="normal"  stroke="#231f20" stroke-width="0.3">0.5</text>
<text x="237.80" y="109.90" font-size="8" text-anchor="start" fill="#231f20" font-weight="normal"  stroke="#231f20" stroke-width="0.3">0.2</text>
<text x="237.80" y="118.40" font-size="8" text-anchor="start" fill="#231f20" font-weight="normal"  stroke="#231f20" stroke-width="0.3">0.05</text>
<text x="237.80" y="125.90" font-size="8" text-anchor="start" fill="#231f20" font-weight="normal"  stroke="#231f20" stroke-width="0.3">2</text>
<text x="237.80" y="138.90" font-size="8" text-anchor="start" fill="#231f20" font-weight="normal"  stroke="#231f20" stroke-width="0.3">0.5</text>
<text x="237.80" y="147.40" font-size="8" text-anchor="start" fill="#231f20" font-weight="normal"  stroke="#231f20" stroke-width="0.3">0.2</text>
<text x="237.80" y="163.90" font-size="8" text-anchor="start" fill="#231f20" font-weight="normal"  stroke="#231f20" stroke-width="0.3">0.05</text>
<text x="237.80" y="172.90" font-size="8" text-anchor="start" fill="#231f20" font-weight="normal"  stroke="#231f20" stroke-width="0.3">Veh</text>
<text x="269.50" y="16.60" font-size="10.6" text-anchor="start" fill="#000" font-weight="bold" >C</text>
<text x="269.50" y="35.00" font-size="11.2" text-anchor="start" fill="#000" font-weight="bold" letter-spacing="0.3">i</text>
<text x="296.50" y="47.50" font-size="7.7" text-anchor="middle" fill="#262626" font-weight="normal"  stroke="#262626" stroke-width="0.3">Collagen</text>
<text x="296.50" y="57.40" font-size="7.7" text-anchor="middle" fill="#262626" font-weight="normal"  stroke="#262626" stroke-width="0.3">3 μg/ml</text>
<path d="M293.70,62.30L299.30,62.30L296.50,67.70Z" fill="#111"/>
<text x="374.50" y="62.30" font-size="7.6" text-anchor="middle" fill="#231f20" font-weight="normal"  stroke="#231f20" stroke-width="0.3">[μM]</text>
<line x1="294.9" y1="71.5" x2="294.9" y2="85.5" stroke="#b81131" stroke-width="1.3"/>
<path d="M294.9,71.7L295.4,71.7L295.8,71.6L296.3,71.5L296.7,71.5L297.2,71.6L297.7,71.5L298.1,71.5L298.6,71.5L299.0,71.6L299.5,71.7L300.0,71.7L300.4,71.7L300.9,71.7L301.3,71.8L301.8,71.8L302.2,71.9L302.7,72.0L303.2,72.1L303.6,72.1L304.1,72.3L304.5,72.4L305.0,72.6L305.5,72.7L305.9,72.9L306.4,73.1L306.8,73.3L307.3,73.4L307.8,73.7L308.2,73.9L308.7,74.1L309.1,74.3L309.6,74.3L310.1,74.6L310.5,74.7L311.0,75.0L311.4,75.1L311.9,75.3L312.4,75.4L312.8,75.5L313.3,75.7L313.7,75.8L314.2,76.1L314.7,76.1L315.1,76.3L315.6,76.3L316.0,76.4L316.5,76.6L316.9,76.7L317.4,76.8L317.9,76.9L318.3,77.0L318.8,77.2L319.2,77.1L319.7,77.2L320.2,77.3L320.6,77.3L321.1,77.5L321.5,77.6L322.0,77.6L322.5,77.7L322.9,77.7L323.4,77.7L323.8,77.7L324.3,77.8L324.8,77.9L325.2,77.9L325.7,78.0L326.1,78.1L326.6,78.2L327.1,78.1L327.5,78.1L328.0,78.2L328.4,78.3L328.9,78.2L329.4,78.4L329.8,78.3L330.3,78.4L330.7,78.4L331.2,78.4L331.6,78.5L332.1,78.5L332.6,78.5L333.0,78.5L333.5,78.5L333.9,78.5L334.4,78.7L334.9,78.5L335.3,78.5L335.8,78.1L336.0,79.1L336.2,78.7L336.7,78.7L337.2,78.8L337.6,78.7L338.1,78.7L338.5,78.8L339.0,78.8L339.5,78.8L339.9,78.9L340.4,78.9L340.8,78.8L341.3,78.8L341.8,78.9L342.2,78.9L342.7,78.9L343.1,78.9L343.6,78.9L344.0,78.5L344.2,79.2L344.5,79.0L345.0,79.0L345.4,79.1L345.9,78.9L346.3,79.0L346.8,78.9L347.3,79.0L347.7,79.1L348.2,78.9L348.6,79.0L349.1,79.1L349.6,79.0L350.0,79.1L350.5,79.0L350.9,79.1L351.4,79.0L351.9,79.0L352.3,79.1L352.8,79.1L353.2,79.1L353.7,79.1L354.2,79.1L354.6,79.1L355.1,79.1L355.5,79.1L356.0,79.0L356.5,79.2L356.9,79.1L357.4,79.1L357.8,79.1L358.3,79.1L358.7,79.1L359.2,79.1L359.7,79.2L360.1,79.2L360.6,78.7L360.8,79.4L361.0,79.2L361.5,79.2L362.0,79.2L362.4,79.2L362.9,79.3L363.3,79.3L363.8,79.2" fill="none" stroke="#b81131" stroke-width="1.85" stroke-linejoin="round"/>
<path d="M294.9,75.4L295.4,75.3L295.8,75.5L296.3,75.3L296.7,75.2L297.2,75.2L297.7,75.2L298.1,75.2L298.6,75.3L299.0,75.3L299.5,75.4L300.0,75.4L300.4,75.3L300.9,75.4L301.3,75.4L301.8,75.4L302.2,75.5L302.7,75.5L303.2,75.6L303.6,75.6L304.1,75.7L304.5,76.0L305.0,76.2L305.5,76.4L305.9,76.9L306.4,77.2L306.8,77.7L307.3,78.1L307.8,78.6L308.2,79.2L308.7,79.8L309.1,80.6L309.6,81.0L310.1,81.8L310.5,82.4L311.0,82.9L311.4,83.6L311.9,84.3L312.4,84.8L312.8,85.3L313.3,86.0L313.7,85.9L313.9,86.8L314.2,87.1L314.7,87.5L315.1,87.9L315.6,88.4L316.0,88.8L316.5,89.3L316.9,89.7L317.4,90.0L317.9,90.3L318.3,90.8L318.8,91.0L319.2,91.4L319.7,91.6L320.2,91.9L320.6,92.1L321.1,92.3L321.5,92.8L322.0,92.9L322.5,93.0L322.9,93.3L323.4,93.3L323.8,93.6L324.3,93.8L324.8,93.0L325.0,94.3L325.2,94.0L325.7,94.2L326.1,94.3L326.6,94.4L327.1,94.5L327.5,94.7L328.0,94.8L328.4,94.9L328.9,95.0L329.4,95.1L329.8,95.1L330.3,95.2L330.7,95.3L331.2,95.4L331.6,95.5L332.1,95.5L332.6,95.5L333.0,95.7L333.5,95.8L333.9,95.8L334.4,95.9L334.9,95.9L335.3,95.9L335.8,96.0L336.2,96.1L336.7,96.1L337.2,96.1L337.6,96.2L338.1,96.2L338.5,96.2L339.0,95.5L339.2,96.8L339.5,96.2L339.9,96.3L340.4,96.3L340.8,96.5L341.3,96.5L341.8,96.5L342.2,96.5L342.7,96.6L343.1,96.6L343.6,96.6L344.0,96.6L344.5,96.8L345.0,96.7L345.4,96.7L345.9,96.7L346.3,96.7L346.8,96.8L347.3,96.8L347.7,96.8L348.2,96.5L348.4,97.0L348.6,96.9L349.1,96.8L349.6,96.3L349.8,97.2L350.0,96.8L350.5,97.0L350.9,97.0L351.4,96.9L351.9,97.0L352.3,97.0L352.8,97.0L353.2,97.0L353.7,97.0L354.2,97.1L354.6,97.0L355.1,97.1L355.5,97.0L356.0,97.0L356.5,97.1L356.9,97.1L357.4,97.1L357.8,97.1L358.3,97.1L358.7,97.1L359.2,97.2L359.7,97.1L360.1,96.5L360.3,97.6L360.6,97.2L361.0,97.1L361.5,97.2L362.0,97.2L362.4,97.2L362.9,97.2L363.3,97.2L363.8,97.1" fill="none" stroke="#b81131" stroke-width="1.85" stroke-linejoin="round"/>
<path d="M294.9,79.6L295.4,79.4L295.8,79.4L296.3,79.3L296.7,79.3L297.2,79.3L297.7,79.3L298.1,79.3L298.6,79.4L299.0,79.5L299.5,79.5L300.0,79.5L300.4,79.6L300.9,79.6L301.3,79.6L301.8,79.5L302.2,79.6L302.7,79.8L303.2,79.9L303.6,80.2L304.1,80.5L304.5,80.7L305.0,81.2L305.5,81.6L305.9,82.2L306.4,82.7L306.8,83.3L307.3,83.9L307.8,84.5L308.2,85.1L308.7,85.8L309.1,86.5L309.6,87.0L310.1,87.8L310.5,88.3L311.0,89.0L311.4,89.6L311.9,90.1L312.4,90.7L312.8,91.3L313.3,91.8L313.7,92.3L314.2,92.8L314.7,93.2L315.1,93.7L315.6,94.1L316.0,94.4L316.5,94.8L316.9,95.2L317.4,95.6L317.9,95.9L318.3,96.2L318.8,96.5L319.2,96.7L319.7,97.0L320.2,97.3L320.6,97.5L321.1,97.7L321.5,98.0L322.0,98.1L322.5,98.2L322.9,98.5L323.4,98.6L323.8,98.8L324.3,99.1L324.8,99.3L325.2,99.4L325.7,99.5L326.1,99.7L326.6,99.8L327.1,99.8L327.5,99.9L328.0,100.1L328.4,100.1L328.9,100.2L329.4,100.4L329.8,100.5L330.3,100.5L330.7,100.7L331.2,100.7L331.6,100.3L331.8,101.1L332.1,100.9L332.6,100.9L333.0,100.1L333.2,101.5L333.5,101.2L333.9,101.1L334.4,101.2L334.9,100.9L335.1,101.5L335.3,101.3L335.8,101.4L336.2,101.4L336.7,101.5L337.2,101.5L337.6,101.6L338.1,101.7L338.5,101.3L338.7,101.8L339.0,101.7L339.5,101.8L339.9,101.8L340.4,101.7L340.8,101.9L341.3,101.9L341.8,101.9L342.2,101.9L342.7,102.0L343.1,102.0L343.6,102.1L344.0,102.1L344.5,102.1L345.0,102.1L345.4,101.2L345.6,102.5L345.9,101.4L346.1,102.6L346.3,102.3L346.8,102.3L347.3,102.2L347.7,102.4L348.2,102.3L348.6,102.3L349.1,102.4L349.6,102.4L350.0,102.3L350.5,102.4L350.9,102.4L351.4,102.5L351.9,102.4L352.3,102.5L352.8,102.5L353.2,102.5L353.7,102.5L354.2,102.6L354.6,102.6L355.1,102.7L355.5,102.6L356.0,102.7L356.5,102.7L356.9,102.7L357.4,102.6L357.8,102.7L358.3,102.7L358.7,102.6L359.2,102.7L359.7,102.7L360.1,102.7L360.6,102.7L361.0,102.7L361.5,102.9L362.0,102.9L362.4,102.8L362.9,102.8L363.3,102.7L363.8,102.8" fill="none" stroke="#b81131" stroke-width="1.85" stroke-linejoin="round"/>
<path d="M294.9,83.2L295.4,83.1L295.8,83.2L296.3,83.2L296.7,83.0L297.2,83.1L297.7,83.1L298.1,83.1L298.6,83.1L299.0,83.2L299.5,83.1L300.0,83.1L300.4,83.1L300.9,83.4L301.3,83.5L301.8,83.6L302.2,83.7L302.7,84.0L303.2,84.3L303.6,84.6L304.1,85.0L304.5,85.6L305.0,85.5L305.2,86.3L305.5,86.5L305.9,87.0L306.4,87.6L306.8,88.1L307.3,88.8L307.8,89.3L308.2,90.0L308.7,90.7L309.1,91.2L309.6,91.8L310.1,92.6L310.5,93.1L311.0,93.7L311.4,94.2L311.9,94.8L312.4,95.5L312.8,95.8L313.3,96.5L313.7,97.0L314.2,97.5L314.7,97.9L315.1,98.5L315.6,99.0L316.0,99.4L316.5,99.8L316.9,100.1L317.4,100.6L317.9,101.0L318.3,101.3L318.8,101.5L319.2,101.9L319.7,101.5L319.9,102.6L320.2,102.5L320.6,102.8L321.1,103.2L321.5,103.4L322.0,103.7L322.5,103.0L322.7,104.3L322.9,104.1L323.4,104.3L323.8,104.5L324.3,104.7L324.8,105.0L325.2,104.4L325.4,105.5L325.7,105.3L326.1,105.4L326.6,105.6L327.1,105.8L327.5,105.9L328.0,106.1L328.4,106.3L328.9,106.3L329.4,105.6L329.6,107.0L329.8,106.6L330.3,106.8L330.7,107.0L331.2,107.0L331.6,107.1L332.1,107.1L332.6,107.2L333.0,107.4L333.5,107.4L333.9,107.6L334.4,107.7L334.9,107.8L335.3,107.8L335.8,107.9L336.2,108.0L336.7,108.0L337.2,108.1L337.6,108.2L338.1,108.2L338.5,108.4L339.0,108.4L339.5,108.4L339.9,108.4L340.4,108.5L340.8,108.6L341.3,108.7L341.8,108.7L342.2,108.7L342.7,108.8L343.1,108.8L343.6,108.9L344.0,108.9L344.5,109.0L345.0,109.0L345.4,109.1L345.9,109.0L346.3,109.2L346.8,109.1L347.3,109.2L347.7,109.2L348.2,109.4L348.6,109.3L349.1,109.4L349.6,109.4L350.0,109.3L350.5,109.4L350.9,109.5L351.4,109.5L351.9,108.9L352.1,109.8L352.3,109.5L352.8,109.6L353.2,109.6L353.7,109.6L354.2,109.6L354.6,109.7L355.1,109.6L355.5,109.7L356.0,109.7L356.5,109.7L356.9,109.7L357.4,109.7L357.8,109.7L358.3,109.9L358.7,109.8L359.2,109.9L359.7,109.8L360.1,109.9L360.6,109.9L361.0,110.0L361.5,110.0L362.0,109.9L362.4,110.1L362.9,110.0L363.3,110.1L363.8,110.0" fill="none" stroke="#b81131" stroke-width="1.85" stroke-linejoin="round"/>
<line x1="294.9" y1="108.2" x2="294.9" y2="122.5" stroke="#1c3f72" stroke-width="1.3"/>
<path d="M294.9,110.7L295.4,110.9L295.8,110.8L296.3,110.8L296.7,110.8L297.2,110.7L297.7,110.9L298.1,110.8L298.6,110.8L299.0,110.4L299.2,111.0L299.5,110.7L300.0,110.8L300.4,110.9L300.9,110.9L301.3,110.8L301.8,110.7L302.2,110.8L302.7,110.7L303.2,110.8L303.6,110.8L304.1,110.8L304.5,111.0L305.0,111.1L305.5,111.2L305.9,111.2L306.4,111.4L306.8,111.5L307.3,111.7L307.8,111.9L308.2,112.1L308.7,112.2L309.1,112.4L309.6,112.5L310.1,112.7L310.5,113.0L311.0,113.1L311.4,113.3L311.9,113.4L312.4,113.5L312.8,112.7L313.0,114.1L313.3,113.7L313.7,114.0L314.2,114.0L314.7,114.2L315.1,114.2L315.6,114.4L316.0,114.6L316.5,114.6L316.9,114.7L317.4,114.8L317.9,114.8L318.3,115.0L318.8,114.9L319.2,115.0L319.7,115.1L320.2,115.2L320.6,115.2L321.1,115.3L321.5,115.4L322.0,115.4L322.5,115.5L322.9,115.5L323.4,115.6L323.8,115.5L324.3,115.6L324.8,115.7L325.2,115.7L325.7,115.7L326.1,115.8L326.6,115.8L327.1,115.7L327.5,115.8L328.0,115.8L328.4,115.9L328.9,115.8L329.4,115.9L329.8,115.9L330.3,115.9L330.7,115.9L331.2,116.1L331.6,116.1L332.1,116.1L332.6,116.0L333.0,116.1L333.5,116.1L333.9,116.0L334.4,116.1L334.9,116.1L335.3,116.2L335.8,116.2L336.2,116.2L336.7,116.2L337.2,116.2L337.6,116.1L338.1,116.3L338.5,116.2L339.0,116.3L339.5,116.3L339.9,116.2L340.4,116.4L340.8,116.3L341.3,116.3L341.8,116.2L342.2,116.4L342.7,116.3L343.1,116.3L343.6,115.5L343.8,116.7L344.0,116.4L344.5,116.4L345.0,116.4L345.4,116.3L345.9,116.3L346.3,116.3L346.8,116.3L347.3,116.4L347.7,116.4L348.2,116.5L348.6,116.4L349.1,116.4L349.6,116.4L350.0,116.4L350.5,116.4L350.9,116.4L351.4,116.3L351.9,116.4L352.3,116.5L352.8,116.4L353.2,116.5L353.7,116.4L354.2,116.5L354.6,116.5L355.1,116.4L355.5,116.4L356.0,116.5L356.5,116.5L356.9,116.5L357.4,116.5L357.8,116.3L358.3,116.4L358.7,115.7L358.9,116.9L359.2,116.5L359.7,116.5L360.1,116.4L360.6,116.5L361.0,116.5L361.5,116.5L362.0,116.6L362.4,116.4L362.9,116.5L363.3,116.5L363.8,116.5" fill="none" stroke="#1c3f72" stroke-width="1.85" stroke-linejoin="round"/>
<path d="M294.9,114.8L295.4,114.8L295.8,114.8L296.3,114.9L296.7,114.9L297.2,114.8L297.7,114.8L298.1,114.8L298.6,114.8L299.0,114.7L299.5,114.7L300.0,114.7L300.4,114.9L300.9,114.8L301.3,114.8L301.8,114.7L302.2,114.8L302.7,114.8L303.2,114.9L303.6,114.9L304.1,115.1L304.5,115.3L305.0,115.6L305.5,115.7L305.9,116.1L306.4,116.7L306.8,117.2L307.3,117.6L307.8,118.1L308.2,118.7L308.7,119.2L309.1,119.8L309.6,120.4L310.1,120.9L310.5,121.3L311.0,121.9L311.4,122.5L311.9,122.9L312.4,123.4L312.8,123.8L313.3,124.2L313.7,124.5L314.2,125.0L314.7,125.2L315.1,125.5L315.6,125.8L316.0,126.1L316.5,126.3L316.9,126.5L317.4,126.7L317.9,127.0L318.3,127.2L318.8,127.3L319.2,127.5L319.7,127.6L320.2,127.2L320.4,128.1L320.6,127.9L321.1,128.0L321.5,128.2L322.0,128.1L322.5,128.3L322.9,128.4L323.4,128.5L323.8,128.6L324.3,128.7L324.8,128.8L325.2,128.9L325.7,129.0L326.1,128.9L326.6,129.1L327.1,129.0L327.5,129.0L328.0,128.5L328.2,129.5L328.4,129.1L328.9,129.2L329.4,129.3L329.8,129.3L330.3,129.3L330.7,129.4L331.2,129.4L331.6,129.3L332.1,129.4L332.6,129.4L333.0,129.4L333.5,129.5L333.9,129.6L334.4,129.6L334.9,129.6L335.3,129.7L335.8,129.7L336.2,129.6L336.7,129.7L337.2,129.7L337.6,129.7L338.1,129.8L338.5,129.8L339.0,129.8L339.5,129.8L339.9,129.8L340.4,129.8L340.8,129.9L341.3,129.8L341.8,129.7L342.2,129.9L342.7,129.8L343.1,129.8L343.6,129.9L344.0,129.9L344.5,130.0L345.0,129.9L345.4,129.9L345.9,129.9L346.3,129.2L346.5,130.1L346.8,129.9L347.3,129.9L347.7,130.0L348.2,129.9L348.6,129.9L349.1,129.9L349.6,129.9L350.0,130.0L350.5,130.0L350.9,130.0L351.4,130.0L351.9,130.0L352.3,130.0L352.8,130.0L353.2,130.0L353.7,130.0L354.2,130.0L354.6,130.1L355.1,130.0L355.5,130.1L356.0,130.1L356.5,130.1L356.9,130.0L357.4,130.1L357.8,130.0L358.3,130.0L358.7,130.0L359.2,129.0L359.4,130.5L359.7,130.1L360.1,130.2L360.6,130.0L361.0,130.1L361.5,130.1L362.0,130.2L362.4,130.1L362.9,130.1L363.3,130.1L363.8,130.1" fill="none" stroke="#1c3f72" stroke-width="1.85" stroke-linejoin="round"/>
<path d="M294.9,118.6L295.4,118.5L295.8,118.6L296.3,118.6L296.7,118.7L297.2,118.6L297.7,118.6L298.1,118.6L298.6,118.1L298.8,118.9L299.0,118.6L299.5,118.6L300.0,118.6L300.4,118.7L300.9,118.6L301.3,118.6L301.8,118.6L302.2,118.6L302.7,118.5L303.2,118.6L303.6,118.7L304.1,118.9L304.5,119.1L305.0,119.4L305.5,119.6L305.9,120.0L306.4,120.5L306.8,120.9L307.3,121.5L307.8,122.0L308.2,122.5L308.7,123.2L309.1,123.8L309.6,124.4L310.1,125.2L310.5,125.8L311.0,126.3L311.4,126.9L311.9,127.5L312.4,128.1L312.8,128.6L313.3,129.2L313.7,129.7L314.2,130.2L314.7,130.6L315.1,131.0L315.6,131.4L316.0,131.8L316.5,131.7L316.7,132.4L316.9,132.5L317.4,132.9L317.9,133.2L318.3,133.4L318.8,133.7L319.2,134.1L319.7,133.7L319.9,134.5L320.2,134.5L320.6,134.6L321.1,134.9L321.5,135.1L322.0,134.4L322.2,135.8L322.5,135.4L322.9,135.6L323.4,135.7L323.8,135.9L324.3,136.0L324.8,136.2L325.2,136.3L325.7,136.4L326.1,136.5L326.6,136.6L327.1,136.6L327.5,136.8L328.0,136.8L328.4,136.9L328.9,137.0L329.4,137.2L329.8,137.1L330.3,137.2L330.7,137.3L331.2,137.4L331.6,137.5L332.1,137.5L332.6,137.5L333.0,137.7L333.5,137.7L333.9,137.7L334.4,137.7L334.9,137.8L335.3,137.9L335.8,137.9L336.2,137.9L336.7,137.9L337.2,137.9L337.6,138.0L338.1,138.1L338.5,137.6L338.7,138.4L339.0,138.1L339.5,138.2L339.9,138.2L340.4,138.1L340.8,138.2L341.3,138.2L341.8,138.3L342.2,138.2L342.7,138.3L343.1,138.4L343.6,137.8L343.8,138.6L344.0,138.3L344.5,138.3L345.0,138.3L345.4,138.5L345.9,138.4L346.3,138.4L346.8,138.5L347.3,138.5L347.7,138.4L348.2,138.5L348.6,138.5L349.1,138.5L349.6,138.5L350.0,138.5L350.5,138.4L350.9,138.5L351.4,138.5L351.9,138.6L352.3,138.7L352.8,138.6L353.2,138.6L353.7,138.6L354.2,138.7L354.6,138.7L355.1,138.7L355.5,138.8L356.0,138.7L356.5,138.7L356.9,138.8L357.4,138.7L357.8,138.7L358.3,138.8L358.7,138.7L359.2,138.7L359.7,138.7L360.1,138.8L360.6,138.7L361.0,138.8L361.5,138.9L362.0,138.8L362.4,138.8L362.9,138.7L363.3,138.8L363.8,138.8" fill="none" stroke="#1c3f72" stroke-width="1.85" stroke-linejoin="round"/>
<path d="M294.9,121.7L295.4,121.7L295.8,121.7L296.3,121.7L296.7,121.7L297.2,121.7L297.7,121.7L298.1,121.7L298.6,121.6L299.0,121.8L299.5,121.7L300.0,121.7L300.4,121.7L300.9,121.7L301.3,121.8L301.8,121.8L302.2,121.6L302.7,121.8L303.2,121.8L303.6,121.9L304.1,121.9L304.5,122.2L305.0,121.9L305.2,122.8L305.5,122.8L305.9,123.3L306.4,123.8L306.8,124.3L307.3,124.8L307.8,125.4L308.2,126.0L308.7,126.7L309.1,127.5L309.6,128.1L310.1,128.8L310.5,129.5L311.0,130.2L311.4,130.8L311.9,131.5L312.4,132.2L312.8,132.7L313.3,133.3L313.7,133.8L314.2,134.3L314.7,134.9L315.1,135.4L315.6,135.7L316.0,135.3L316.2,136.6L316.5,136.5L316.9,137.0L317.4,137.4L317.9,137.7L318.3,138.0L318.8,138.3L319.2,138.5L319.7,138.8L320.2,139.2L320.6,139.3L321.1,138.6L321.3,140.1L321.5,139.7L322.0,139.9L322.5,140.0L322.9,140.3L323.4,140.4L323.8,140.5L324.3,140.7L324.8,140.9L325.2,141.0L325.7,141.2L326.1,141.3L326.6,141.5L327.1,141.5L327.5,141.0L327.7,142.0L328.0,141.7L328.4,141.8L328.9,141.8L329.4,142.0L329.8,141.9L330.3,142.1L330.7,142.1L331.2,142.2L331.6,142.4L332.1,142.4L332.6,142.4L333.0,142.5L333.5,142.5L333.9,142.6L334.4,142.7L334.9,142.7L335.3,142.7L335.8,142.7L336.2,142.7L336.7,142.8L337.2,143.0L337.6,143.0L338.1,143.0L338.5,143.1L339.0,143.1L339.5,143.0L339.9,143.1L340.4,143.2L340.8,143.3L341.3,143.1L341.8,143.2L342.2,143.2L342.7,143.2L343.1,143.3L343.6,143.2L344.0,143.4L344.5,143.3L345.0,143.4L345.4,143.3L345.9,143.4L346.3,143.5L346.8,143.3L347.3,143.5L347.7,143.4L348.2,143.4L348.6,143.5L349.1,143.4L349.6,143.5L350.0,143.5L350.5,143.1L350.7,143.7L350.9,143.6L351.4,143.6L351.9,143.5L352.3,143.7L352.8,143.6L353.2,143.6L353.7,143.6L354.2,143.6L354.6,143.6L355.1,143.7L355.5,143.7L356.0,143.7L356.5,143.7L356.9,143.7L357.4,143.8L357.8,143.7L358.3,143.7L358.7,143.7L359.2,143.7L359.7,143.8L360.1,143.8L360.6,143.8L361.0,143.8L361.5,142.9L361.7,144.2L362.0,143.7L362.4,143.7L362.9,144.0L363.3,143.8L363.8,143.8" fill="none" stroke="#1c3f72" stroke-width="1.85" stroke-linejoin="round"/>
<path d="M294.9,130.8L294.9,132.7L295.4,132.7L295.8,132.7L296.3,132.7L296.7,132.7L297.2,132.7L297.7,132.6L298.1,132.8L298.6,132.7L299.0,132.7L299.5,132.7L300.0,132.7L300.4,132.7L300.9,132.7L301.3,132.7L301.8,132.7L302.2,132.7L302.7,132.6L303.2,132.7L303.6,132.8L304.1,132.7L304.5,133.0L305.0,133.0L305.5,133.3L305.9,133.6L306.4,133.9L306.8,134.4L307.3,134.9L307.8,135.3L308.2,136.1L308.7,136.6L309.1,137.3L309.6,138.0L310.1,138.6L310.5,139.4L311.0,140.1L311.4,140.8L311.9,141.6L312.4,142.4L312.8,143.1L313.3,143.7L313.7,144.4L314.2,145.1L314.7,145.7L315.1,146.3L315.6,146.8L316.0,147.3L316.5,147.9L316.9,148.3L317.4,148.9L317.9,149.3L318.3,149.7L318.8,150.2L319.2,150.5L319.7,151.0L320.2,151.2L320.6,151.6L321.1,151.9L321.5,152.1L322.0,152.6L322.5,152.8L322.9,153.0L323.4,153.2L323.8,153.4L324.3,153.7L324.8,153.9L325.2,154.1L325.7,154.2L326.1,154.3L326.6,154.4L327.1,154.0L327.3,155.0L327.5,154.8L328.0,154.9L328.4,155.0L328.9,155.3L329.4,155.3L329.8,155.5L330.3,155.5L330.7,155.6L331.2,155.8L331.6,155.9L332.1,155.9L332.6,156.0L333.0,156.1L333.5,156.2L333.9,156.3L334.4,156.4L334.9,155.9L335.1,156.6L335.3,156.5L335.8,156.5L336.2,156.5L336.7,156.5L337.2,156.3L337.4,156.9L337.6,156.8L338.1,156.8L338.5,156.8L339.0,156.8L339.5,156.9L339.9,156.9L340.4,157.0L340.8,157.0L341.3,157.0L341.8,157.2L342.2,157.2L342.7,157.2L343.1,157.3L343.6,156.8L343.8,157.5L344.0,157.4L344.5,157.3L345.0,157.4L345.4,157.3L345.9,157.4L346.3,157.4L346.8,157.4L347.3,157.5L347.7,157.5L348.2,157.5L348.6,157.6L349.1,157.6L349.6,157.6L350.0,157.7L350.5,157.6L350.9,157.6L351.4,157.7L351.9,157.7L352.3,157.8L352.8,157.7L353.2,157.8L353.7,157.7L354.2,157.7L354.6,157.8L355.1,157.8L355.5,157.9L356.0,157.8L356.5,157.9L356.9,157.8L357.4,157.8L357.8,157.9L358.3,157.9L358.7,157.9L359.2,158.0L359.7,158.0L360.1,157.9L360.6,157.9L361.0,157.3L361.2,158.3L361.5,158.0L362.0,158.0L362.4,158.0L362.9,157.9L363.3,158.1L363.8,158.0" fill="none" stroke="#3aa53a" stroke-width="1.85" stroke-linejoin="round"/>
<text x="366.70" y="82.40" font-size="8" text-anchor="start" fill="#231f20" font-weight="normal"  stroke="#231f20" stroke-width="0.3">2</text>
<text x="366.70" y="98.90" font-size="8" text-anchor="start" fill="#231f20" font-weight="normal"  stroke="#231f20" stroke-width="0.3">0.5</text>
<text x="366.70" y="105.40" font-size="8" text-anchor="start" fill="#231f20" font-weight="normal"  stroke="#231f20" stroke-width="0.3">0.2</text>
<text x="366.70" y="112.90" font-size="8" text-anchor="start" fill="#231f20" font-weight="normal"  stroke="#231f20" stroke-width="0.3">0.05</text>
<text x="366.70" y="119.90" font-size="8" text-anchor="start" fill="#231f20" font-weight="normal"  stroke="#231f20" stroke-width="0.3">2</text>
<text x="366.70" y="132.40" font-size="8" text-anchor="start" fill="#231f20" font-weight="normal"  stroke="#231f20" stroke-width="0.3">0.5</text>
<text x="366.70" y="140.40" font-size="8" text-anchor="start" fill="#231f20" font-weight="normal"  stroke="#231f20" stroke-width="0.3">0.2</text>
<text x="366.70" y="147.40" font-size="8" text-anchor="start" fill="#231f20" font-weight="normal"  stroke="#231f20" stroke-width="0.3">0.05</text>
<text x="366.70" y="160.90" font-size="8" text-anchor="start" fill="#231f20" font-weight="normal"  stroke="#231f20" stroke-width="0.3">Veh</text>
<text x="399.30" y="16.60" font-size="10.6" text-anchor="start" fill="#000" font-weight="bold" >D</text>
<text x="399.30" y="35.00" font-size="11.2" text-anchor="start" fill="#000" font-weight="bold" letter-spacing="0.3">i</text>
<text x="426.00" y="47.50" font-size="7.7" text-anchor="middle" fill="#262626" font-weight="normal"  stroke="#262626" stroke-width="0.3">Collagen</text>
<text x="426.00" y="57.40" font-size="7.7" text-anchor="middle" fill="#262626" font-weight="normal"  stroke="#262626" stroke-width="0.3">10 μg/ml</text>
<path d="M423.20,62.30L428.80,62.30L426.00,67.70Z" fill="#111"/>
<text x="505.00" y="85.00" font-size="7.6" text-anchor="middle" fill="#231f20" font-weight="normal"  stroke="#231f20" stroke-width="0.3">[μM]</text>
<line x1="425.4" y1="72.5" x2="425.4" y2="92" stroke="#b81131" stroke-width="1.3"/>
<path d="M425.4,73.4L425.9,73.4L426.3,73.1L426.8,73.3L427.2,73.0L427.7,72.2L428.2,72.3L428.6,73.0L429.1,72.8L429.6,72.9L430.0,73.5L430.5,74.0L430.9,73.9L431.4,73.7L431.9,74.1L432.3,74.7L432.8,74.0L433.2,75.3L433.7,75.2L434.2,76.7L434.6,76.3L435.1,76.9L435.5,77.8L436.0,78.6L436.5,78.4L436.9,79.6L437.4,80.4L437.9,81.3L438.3,81.5L438.8,82.4L439.2,84.0L439.7,83.6L440.2,84.9L440.6,85.2L441.1,86.1L441.5,86.8L442.0,87.5L442.5,87.9L442.9,89.3L443.4,89.4L443.9,90.2L444.3,89.3L444.5,90.3L444.8,90.7L445.2,91.6L445.7,91.4L446.2,92.3L446.6,93.1L447.1,92.1L447.5,93.2L448.0,92.8L448.5,94.2L448.9,93.8L449.1,95.1L449.4,95.0L449.9,95.7L450.3,95.7L450.8,96.0L451.2,95.8L451.7,96.6L452.2,96.1L452.6,96.5L453.1,96.8L453.5,97.2L454.0,97.4L454.5,98.1L454.9,96.0L455.1,97.4L455.4,97.5L455.8,98.7L456.3,98.5L456.8,98.7L457.2,98.9L457.7,98.3L458.2,99.4L458.6,98.3L459.1,98.8L459.3,99.5L459.5,99.1L460.0,100.0L460.5,99.7L460.9,99.2L461.4,99.9L461.8,100.1L462.3,100.2L462.8,100.0L463.2,99.7L463.7,99.6L463.9,100.1L464.2,100.4L464.6,100.4L465.1,100.7L465.5,100.4L466.0,100.8L466.5,101.2L466.9,100.3L467.4,100.4L467.8,100.2L468.3,100.6L468.8,101.1L469.2,101.2L469.7,100.6L470.1,100.5L470.6,100.8L471.1,101.3L471.5,101.0L472.0,101.4L472.5,101.7L472.9,101.6L473.4,100.9L473.8,100.6L474.0,101.7L474.3,101.4L474.8,101.2L475.2,101.5L475.7,101.5L476.1,101.6L476.6,101.5L477.1,101.7L477.5,101.6L478.0,101.6L478.5,101.3L478.9,101.3L479.4,101.8L479.8,101.2L480.0,101.8L480.3,101.3L480.8,102.0L481.2,102.0L481.7,101.1L482.1,102.0L482.6,101.9L483.1,101.3L483.5,101.6L484.0,101.7L484.5,101.6L484.9,101.9L485.4,101.5L485.8,101.8L486.3,102.1L486.8,102.6L487.2,102.1L487.7,102.4L488.1,100.8L488.3,102.2L488.6,102.3L489.1,102.8L489.5,102.6L490.0,102.5L490.4,102.7L490.9,102.1L491.4,102.5L491.8,102.0L492.3,101.9L492.5,102.8L492.8,102.2L493.2,101.3L493.4,102.3L493.7,101.9L494.1,102.0L494.6,101.7" fill="none" stroke="#b81131" stroke-width="1.85" stroke-linejoin="round"/>
<path d="M425.4,78.6L425.9,78.9L426.3,77.9L426.8,78.0L427.2,77.2L427.7,77.3L428.2,77.4L428.6,77.3L429.1,77.8L429.6,77.5L430.0,78.2L430.5,78.6L430.9,78.7L431.4,79.0L431.9,79.3L432.3,79.7L432.8,80.6L433.2,80.9L433.7,80.3L434.2,80.9L434.6,81.6L435.1,82.6L435.5,83.5L436.0,83.8L436.5,84.5L436.9,85.3L437.4,86.1L437.9,86.2L438.1,86.9L438.3,87.9L438.8,88.5L439.2,89.4L439.7,89.2L440.2,90.7L440.6,91.3L441.1,92.2L441.5,93.4L442.0,93.6L442.5,94.2L442.9,94.7L443.4,95.7L443.9,95.7L444.1,96.9L444.3,97.4L444.8,97.1L445.2,98.0L445.7,98.7L446.2,99.3L446.6,100.0L447.1,99.4L447.3,100.8L447.5,99.7L448.0,101.7L448.5,101.3L448.9,101.8L449.4,102.2L449.9,102.6L450.3,103.1L450.8,102.8L451.2,103.3L451.7,104.2L452.2,104.1L452.6,104.9L453.1,104.9L453.5,105.1L454.0,105.6L454.5,105.5L454.9,105.4L455.4,105.8L455.8,105.9L456.3,105.5L456.8,106.4L457.2,107.6L457.7,106.7L458.2,107.4L458.6,107.0L459.1,107.2L459.5,106.6L459.7,107.7L460.0,107.3L460.5,107.7L460.9,106.9L461.4,108.0L461.8,107.6L462.3,108.3L462.8,108.4L463.2,108.4L463.7,109.0L464.2,109.2L464.6,107.6L464.8,108.6L465.1,109.0L465.5,108.7L466.0,109.1L466.5,108.1L466.7,108.6L466.9,109.7L467.4,110.0L467.8,109.0L468.3,109.1L468.8,108.8L469.2,109.8L469.7,108.8L470.1,109.3L470.6,108.9L470.8,109.6L471.1,109.3L471.5,109.5L472.0,109.3L472.5,109.9L472.9,109.3L473.4,109.5L473.8,110.0L474.3,109.3L474.8,109.3L475.2,109.5L475.7,109.8L476.1,109.8L476.6,110.2L477.1,109.8L477.5,109.6L478.0,109.4L478.5,109.9L478.9,109.9L479.4,110.3L479.8,110.6L480.3,110.2L480.8,109.8L481.2,109.6L481.4,111.0L481.7,109.7L481.9,110.8L482.1,110.4L482.6,110.5L483.1,110.4L483.5,110.4L484.0,110.1L484.5,110.0L484.9,111.0L485.4,109.7L485.6,110.5L485.8,111.0L486.3,110.3L486.8,110.9L487.2,110.2L487.7,110.6L488.1,110.8L488.6,110.4L489.1,111.0L489.5,110.9L490.0,110.4L490.4,110.6L490.9,110.6L491.4,110.7L491.8,110.8L492.3,110.8L492.8,110.9L493.2,111.0L493.7,110.7L494.1,110.9L494.6,110.6" fill="none" stroke="#b81131" stroke-width="1.85" stroke-linejoin="round"/>
<path d="M425.4,86.3L425.9,86.1L426.3,85.5L426.8,85.8L427.2,85.3L427.7,85.5L428.2,85.5L428.6,85.6L429.1,86.2L429.6,86.2L430.0,86.0L430.5,86.9L430.9,86.8L431.4,87.0L431.9,87.9L432.3,88.0L432.8,87.9L433.2,88.8L433.7,89.3L434.2,89.6L434.6,90.4L435.1,90.9L435.5,91.7L436.0,91.7L436.5,93.0L436.9,93.9L437.4,94.6L437.9,95.4L438.3,95.6L438.8,96.8L439.2,97.3L439.7,98.4L440.2,99.0L440.6,99.6L441.1,100.4L441.5,101.0L442.0,102.4L442.5,102.2L442.9,103.0L443.4,102.9L443.6,104.1L443.9,103.8L444.3,104.8L444.8,105.2L445.2,104.7L445.4,105.4L445.7,106.2L446.2,106.9L446.6,107.2L447.1,108.0L447.5,107.6L448.0,107.7L448.5,108.4L448.9,108.2L449.1,109.4L449.4,108.9L449.9,109.0L450.3,109.5L450.8,109.5L451.2,110.4L451.7,110.9L452.2,110.5L452.6,111.7L453.1,111.5L453.5,110.8L454.0,111.5L454.5,111.8L454.9,112.1L455.4,111.8L455.8,112.2L456.3,111.7L456.8,112.6L457.2,113.0L457.7,112.0L458.2,112.8L458.6,112.9L459.1,113.2L459.5,112.9L460.0,113.5L460.5,113.6L460.9,113.5L461.4,113.7L461.8,113.7L462.3,113.8L462.8,113.4L463.2,113.9L463.7,113.7L463.9,114.1L464.2,113.7L464.4,114.4L464.6,114.2L465.1,114.7L465.5,114.2L466.0,114.4L466.5,114.0L466.9,114.4L467.4,114.4L467.8,115.2L468.3,113.7L468.8,115.1L469.2,113.8L469.4,115.2L469.7,114.3L470.1,114.4L470.6,114.6L471.1,114.6L471.5,115.5L472.0,114.4L472.2,115.3L472.5,115.4L472.9,114.7L473.4,115.5L473.8,114.1L474.0,115.3L474.3,115.1L474.8,115.5L475.2,115.3L475.7,115.2L476.1,115.4L476.6,115.5L477.1,115.0L477.5,115.6L478.0,114.9L478.5,115.2L478.9,114.6L479.4,115.1L479.8,115.6L480.3,114.3L480.8,115.3L481.2,115.8L481.7,115.3L482.1,115.5L482.6,115.7L483.1,115.2L483.3,116.5L483.5,116.1L484.0,115.3L484.5,115.3L484.9,115.6L485.4,116.0L485.8,115.1L486.3,115.7L486.8,115.7L487.2,115.5L487.7,115.2L488.1,115.1L488.6,116.1L489.1,115.9L489.5,116.2L490.0,115.7L490.4,115.6L490.9,115.8L491.4,115.6L491.8,115.7L492.3,116.0L492.8,115.8L493.2,115.5L493.7,115.5L494.1,115.8L494.6,115.9" fill="none" stroke="#b81131" stroke-width="1.85" stroke-linejoin="round"/>
<path d="M425.4,90.6L425.9,89.9L426.3,90.0L426.8,89.9L427.2,89.9L427.7,89.7L428.2,90.2L428.6,89.3L429.1,90.1L429.6,90.7L430.0,90.0L430.5,90.6L430.9,90.8L431.4,91.5L431.9,91.4L432.3,91.6L432.8,92.2L433.2,92.1L433.7,91.4L433.9,92.8L434.2,93.6L434.6,94.7L435.1,94.3L435.5,94.9L436.0,95.8L436.5,95.7L436.9,97.5L437.4,98.4L437.9,99.3L438.3,99.9L438.8,100.9L439.2,101.5L439.7,102.2L440.2,102.8L440.6,102.9L441.1,104.1L441.5,105.7L442.0,106.4L442.5,105.6L442.7,106.7L442.9,107.9L443.4,109.1L443.9,107.9L444.1,109.2L444.3,109.6L444.8,110.6L445.2,110.3L445.4,111.1L445.7,111.1L446.2,112.5L446.6,112.5L447.1,112.7L447.5,113.9L448.0,114.0L448.5,114.4L448.9,114.6L449.4,114.7L449.9,115.2L450.3,115.6L450.8,116.2L451.2,116.8L451.7,116.0L451.9,117.4L452.2,117.6L452.6,117.5L453.1,117.9L453.5,118.2L454.0,117.9L454.5,118.3L454.7,119.5L454.9,118.4L455.4,119.3L455.8,118.8L456.3,119.3L456.8,119.4L457.2,119.9L457.7,120.5L458.2,120.0L458.6,120.4L459.1,120.3L459.5,120.3L460.0,120.8L460.5,121.2L460.9,121.2L461.4,121.4L461.8,121.1L462.3,121.0L462.8,121.3L463.2,121.9L463.7,122.2L464.2,122.3L464.6,122.0L465.1,122.1L465.5,122.3L466.0,122.0L466.5,122.1L466.9,122.8L467.4,122.8L467.8,123.2L468.3,122.5L468.8,122.7L469.2,122.8L469.7,122.9L470.1,122.8L470.6,123.7L471.1,123.0L471.5,122.5L472.0,122.6L472.5,123.5L472.9,123.7L473.4,123.8L473.8,123.3L474.3,123.4L474.8,124.2L475.2,123.5L475.7,123.6L476.1,123.6L476.3,124.2L476.6,123.6L477.1,124.0L477.5,123.8L478.0,123.7L478.2,124.2L478.5,124.4L478.9,123.5L479.4,124.6L479.8,123.5L480.3,123.9L480.8,123.8L481.2,124.3L481.7,124.3L482.1,124.8L482.6,124.4L483.1,124.2L483.5,123.9L484.0,124.0L484.5,124.6L484.9,124.1L485.4,123.5L485.8,124.1L486.3,124.1L486.8,124.3L487.2,124.6L487.7,124.4L488.1,124.6L488.6,124.7L489.1,124.9L489.5,124.0L490.0,124.0L490.2,124.9L490.4,124.5L490.9,124.5L491.4,124.4L491.8,124.9L492.3,124.3L492.8,123.7L493.0,124.8L493.2,124.7L493.7,124.7L494.1,124.7L494.6,124.6" fill="none" stroke="#b81131" stroke-width="1.85" stroke-linejoin="round"/>
<line x1="425.4" y1="100" x2="425.4" y2="122" stroke="#1c3f72" stroke-width="1.3"/>
<path d="M425.4,109.3L425.9,108.7L426.3,110.0L426.8,108.6L427.2,108.0L427.7,109.0L428.2,108.2L428.6,108.5L429.1,109.0L429.6,108.9L430.0,109.6L430.5,108.9L430.7,110.2L430.9,110.0L431.4,110.1L431.9,110.1L432.3,110.6L432.8,110.6L433.2,110.5L433.7,111.7L434.2,112.6L434.6,112.5L435.1,113.8L435.5,114.4L436.0,115.3L436.5,116.9L436.9,116.7L437.1,117.6L437.4,118.3L437.9,119.4L438.3,120.0L438.8,121.7L439.2,123.0L439.7,123.6L440.2,124.0L440.6,125.2L441.1,125.7L441.5,126.4L442.0,127.5L442.5,128.3L442.9,128.6L443.4,128.5L443.6,129.7L443.9,129.8L444.3,130.4L444.8,130.1L445.0,131.3L445.2,131.4L445.7,132.0L446.2,132.4L446.6,132.5L447.1,133.6L447.5,133.3L448.0,133.8L448.5,134.2L448.9,134.3L449.4,136.1L449.9,135.2L450.3,135.1L450.8,135.1L451.2,135.7L451.7,135.1L451.9,136.2L452.2,136.1L452.6,135.9L453.1,136.5L453.5,136.9L454.0,137.0L454.5,137.5L454.9,137.1L455.4,137.1L455.8,137.5L456.3,137.0L456.8,137.6L457.2,137.5L457.7,138.0L458.2,138.6L458.6,138.3L459.1,138.1L459.5,139.1L460.0,138.6L460.5,138.0L460.9,137.9L461.4,138.3L461.8,138.7L462.3,138.5L462.8,138.8L463.2,138.4L463.7,139.2L464.2,139.1L464.6,139.5L465.1,138.9L465.5,139.4L466.0,138.9L466.5,139.0L466.9,139.7L467.4,139.3L467.8,139.7L468.3,139.5L468.8,139.4L469.2,139.6L469.7,140.2L470.1,139.7L470.6,139.5L471.1,139.5L471.5,139.5L472.0,139.3L472.5,139.4L472.9,139.7L473.4,139.7L473.8,140.5L474.3,139.9L474.8,138.5L475.0,140.0L475.2,139.6L475.7,139.8L476.1,139.5L476.6,139.2L477.1,140.3L477.5,139.8L478.0,140.6L478.5,139.7L478.9,140.6L479.4,140.1L479.8,140.2L480.3,140.0L480.8,141.0L481.2,140.0L481.7,141.1L482.1,139.7L482.6,140.5L483.1,140.6L483.5,140.5L484.0,139.6L484.5,140.0L484.9,140.0L485.4,140.0L485.8,140.3L486.3,139.8L486.5,140.4L486.8,140.4L487.2,140.0L487.7,140.2L487.9,140.9L488.1,140.7L488.6,140.3L489.1,140.3L489.5,139.8L490.0,140.2L490.4,140.3L490.9,140.4L491.4,140.0L491.8,140.2L492.3,140.4L492.8,139.3L493.0,140.5L493.2,140.4L493.7,139.8L494.1,139.8L494.6,141.0" fill="none" stroke="#1c3f72" stroke-width="1.85" stroke-linejoin="round"/>
<path d="M425.4,114.4L425.9,113.3L426.3,112.5L426.8,113.0L427.2,113.4L427.7,112.8L428.2,112.5L428.6,112.0L429.1,113.5L429.6,113.0L430.0,113.7L430.5,113.2L430.9,114.3L431.4,114.5L431.9,114.6L432.3,114.9L432.8,115.3L433.2,115.2L433.7,116.0L434.2,115.7L434.6,116.7L435.1,117.9L435.5,118.0L436.0,119.1L436.5,120.2L436.9,121.0L437.4,122.2L437.9,121.7L438.1,123.2L438.3,123.5L438.8,125.1L439.2,125.4L439.7,126.3L440.2,127.0L440.6,128.4L441.1,128.6L441.5,130.3L442.0,130.9L442.5,131.4L442.9,131.6L443.4,133.0L443.9,133.6L444.3,134.2L444.8,135.0L445.2,134.9L445.7,135.5L446.2,135.1L446.6,136.8L447.1,137.1L447.5,137.0L448.0,137.3L448.5,137.9L448.9,138.3L449.4,138.7L449.9,138.6L450.3,138.6L450.5,139.8L450.8,139.8L451.2,139.3L451.7,139.6L452.2,139.5L452.4,140.2L452.6,140.6L453.1,140.3L453.5,140.2L454.0,139.8L454.2,140.6L454.5,141.1L454.9,141.2L455.4,141.3L455.8,141.7L456.3,141.4L456.8,141.7L457.2,141.9L457.7,141.5L458.2,141.7L458.4,142.5L458.6,142.5L459.1,142.6L459.5,142.0L460.0,142.2L460.5,142.2L460.9,142.8L461.4,142.7L461.8,142.4L462.3,142.7L462.8,142.8L463.2,142.9L463.7,143.7L464.2,143.0L464.6,143.5L465.1,143.3L465.5,143.1L466.0,143.4L466.5,142.7L466.7,143.9L466.9,143.7L467.4,143.7L467.8,144.0L468.3,143.2L468.8,144.0L469.2,143.9L469.7,144.2L469.9,144.8L470.1,143.9L470.6,144.3L471.1,143.8L471.3,145.1L471.5,143.8L472.0,143.6L472.5,143.9L472.9,144.3L473.4,144.0L473.8,144.5L474.3,144.7L474.8,144.4L475.2,143.5L475.7,143.8L476.1,144.4L476.6,143.6L477.1,144.4L477.5,144.6L478.0,144.9L478.5,144.8L478.9,144.7L479.4,144.2L479.8,144.8L480.3,144.5L480.8,144.5L481.2,144.2L481.7,144.3L482.1,143.9L482.6,144.7L483.1,144.2L483.3,144.9L483.5,144.3L484.0,144.6L484.5,144.2L484.7,144.7L484.9,145.3L485.4,144.7L485.8,144.8L486.3,144.9L486.8,144.6L487.2,144.7L487.7,144.6L488.1,144.6L488.6,144.9L489.1,144.6L489.5,144.4L490.0,144.8L490.4,144.5L490.9,144.9L491.4,145.0L491.8,145.0L492.3,145.2L492.8,145.1L493.2,144.1L493.7,144.2L494.1,144.5L494.6,144.5" fill="none" stroke="#1c3f72" stroke-width="1.85" stroke-linejoin="round"/>
<path d="M425.4,117.3L425.9,116.8L426.3,116.7L426.8,116.6L427.2,116.6L427.7,116.1L428.2,116.9L428.6,116.3L429.1,116.8L429.6,117.0L430.0,117.5L430.5,117.9L430.9,117.3L431.4,117.5L431.9,118.2L432.3,118.7L432.8,118.8L433.2,119.0L433.7,119.5L434.2,119.8L434.4,120.6L434.6,120.5L435.1,121.5L435.5,122.0L436.0,122.6L436.2,123.6L436.5,124.1L436.9,124.9L437.4,126.8L437.9,127.5L438.3,128.3L438.8,129.2L439.2,130.1L439.7,131.7L440.2,131.8L440.4,132.6L440.6,133.1L441.1,133.9L441.5,134.6L442.0,135.3L442.2,136.3L442.5,136.1L442.9,137.0L443.4,138.0L443.9,138.5L444.3,138.9L444.8,140.0L445.2,140.4L445.7,140.5L446.2,141.2L446.6,142.2L447.1,142.3L447.5,142.4L448.0,144.1L448.5,143.6L448.9,144.3L449.4,144.4L449.9,144.7L450.3,144.4L450.8,145.1L451.2,144.9L451.7,145.4L452.2,146.2L452.6,145.4L453.1,146.0L453.5,146.9L454.0,146.0L454.2,147.3L454.5,147.2L454.9,147.0L455.4,147.7L455.8,148.0L456.3,146.8L456.8,148.0L457.2,148.0L457.7,147.9L458.2,148.5L458.6,148.9L459.1,148.4L459.5,148.2L460.0,148.1L460.5,149.0L460.9,148.8L461.4,149.4L461.8,148.9L462.0,149.5L462.3,148.3L462.8,148.8L463.2,149.3L463.7,148.1L463.9,148.7L464.2,149.7L464.6,149.5L465.1,150.1L465.5,148.7L465.7,149.4L466.0,150.0L466.5,149.8L466.9,150.1L467.4,149.1L467.6,149.6L467.8,149.7L468.3,149.8L468.8,149.8L469.2,150.7L469.7,149.9L470.1,150.0L470.6,149.8L471.1,149.8L471.5,149.7L472.0,150.1L472.5,149.8L472.9,150.7L473.4,150.2L473.8,150.1L474.3,150.6L474.8,150.5L475.2,150.5L475.7,150.3L476.1,150.9L476.6,150.4L477.1,150.7L477.5,150.5L478.0,150.7L478.5,150.1L478.9,150.3L479.4,150.7L479.8,150.6L480.3,150.6L480.8,151.0L481.2,150.3L481.7,151.3L482.1,150.9L482.6,151.0L483.1,150.8L483.5,150.2L484.0,150.2L484.5,151.4L484.9,150.2L485.4,151.1L485.8,151.4L486.3,150.8L486.8,150.7L487.2,150.6L487.7,150.6L488.1,150.4L488.6,151.3L489.1,151.1L489.5,151.5L490.0,150.9L490.4,150.9L490.9,151.0L491.4,151.5L491.8,151.1L492.3,151.1L492.8,151.4L493.2,151.4L493.7,150.8L494.1,151.4L494.6,151.3" fill="none" stroke="#1c3f72" stroke-width="1.85" stroke-linejoin="round"/>
<path d="M425.4,121.8L425.9,121.7L426.3,121.3L426.8,121.3L427.2,121.5L427.7,121.7L428.2,121.2L428.6,121.2L429.1,121.2L429.6,122.1L430.0,122.0L430.5,121.9L430.9,122.2L431.4,122.6L431.9,123.2L432.3,122.8L432.8,122.2L433.0,123.2L433.2,123.3L433.4,124.2L433.7,124.1L434.2,124.9L434.6,125.0L435.1,126.0L435.5,126.3L436.0,127.3L436.5,128.0L436.9,129.0L437.4,130.0L437.9,130.6L438.3,131.7L438.8,133.5L439.2,133.9L439.7,135.1L440.2,135.5L440.6,136.3L441.1,137.3L441.5,138.6L442.0,138.1L442.2,138.8L442.5,139.5L442.9,140.7L443.4,141.2L443.9,142.3L444.3,142.3L444.8,143.5L445.2,143.8L445.7,144.4L446.2,144.5L446.6,145.6L447.1,145.5L447.5,145.6L448.0,146.9L448.5,146.6L448.9,147.7L449.4,147.2L449.9,148.2L450.3,148.8L450.8,148.4L451.2,148.8L451.7,149.6L452.2,149.7L452.6,149.9L453.1,149.9L453.5,149.9L454.0,150.4L454.5,150.2L454.9,150.5L455.4,149.4L455.6,150.8L455.8,151.4L456.3,151.1L456.8,151.1L457.0,151.7L457.2,151.1L457.7,151.8L458.2,151.3L458.6,152.3L459.1,152.0L459.5,151.6L460.0,152.3L460.5,152.6L460.9,152.5L461.4,152.7L461.8,152.6L462.3,152.4L462.8,152.8L463.2,152.9L463.7,154.1L464.2,152.9L464.6,153.4L465.1,153.1L465.5,153.6L466.0,152.6L466.5,152.9L466.9,153.2L467.4,153.7L467.8,153.9L468.3,153.3L468.8,153.8L469.2,154.3L469.7,154.0L470.1,153.7L470.6,153.7L471.1,153.9L471.5,154.1L472.0,153.9L472.5,153.7L472.9,153.9L473.4,154.0L473.8,154.6L474.3,154.0L474.8,153.2L475.2,154.4L475.7,154.4L476.1,153.6L476.3,154.9L476.6,154.5L477.1,153.1L477.3,154.4L477.5,154.4L478.0,154.5L478.5,154.7L478.9,154.4L479.4,154.3L479.8,154.4L480.3,154.4L480.8,153.9L481.2,155.1L481.7,154.0L482.1,155.1L482.6,154.7L483.1,155.0L483.5,154.7L484.0,154.5L484.5,155.1L484.9,155.3L485.4,154.8L485.8,154.8L486.3,154.6L486.8,154.2L487.2,154.4L487.7,154.5L488.1,153.8L488.3,154.7L488.6,154.0L488.8,155.2L489.1,154.7L489.5,154.5L489.7,155.6L490.0,154.8L490.4,154.5L490.9,155.0L491.4,155.1L491.8,154.1L492.3,155.4L492.8,154.9L493.2,154.5L493.7,154.8L494.1,155.1L494.6,154.4" fill="none" stroke="#1c3f72" stroke-width="1.85" stroke-linejoin="round"/>
<path d="M425.4,130.0L425.4,133.3L425.9,133.1L426.3,132.1L426.8,132.6L427.2,132.8L427.7,132.8L428.2,131.9L428.6,132.2L429.1,131.3L429.6,132.4L430.0,132.2L430.5,133.3L430.9,133.3L431.4,133.9L431.9,134.0L432.3,134.9L432.8,135.5L433.2,137.2L433.4,137.8L433.7,139.1L434.2,140.3L434.6,141.3L435.1,143.6L435.5,144.0L436.0,144.9L436.5,146.9L436.9,148.1L437.4,148.2L437.6,148.7L437.9,150.4L438.3,151.1L438.8,153.1L439.2,153.0L439.7,154.8L440.2,154.6L440.6,155.6L441.1,156.2L441.5,157.4L442.0,157.5L442.5,158.0L442.9,159.4L443.1,160.0L443.4,160.1L443.9,160.9L444.3,161.4L444.8,161.3L445.2,161.5L445.7,162.0L446.2,162.2L446.6,162.7L447.1,163.0L447.5,163.2L448.0,163.2L448.5,164.2L448.9,163.5L449.4,164.7L449.9,164.1L450.3,165.1L450.8,165.0L451.2,165.9L451.7,165.6L452.2,164.7L452.4,165.6L452.6,165.3L453.1,165.7L453.5,165.9L454.0,165.6L454.5,166.6L454.9,165.6L455.1,166.3L455.4,166.2L455.8,166.6L456.3,166.9L456.8,167.0L457.2,166.9L457.7,166.8L458.2,166.2L458.4,167.0L458.6,168.1L459.1,167.3L459.5,166.9L460.0,167.7L460.5,167.1L460.9,167.8L461.4,168.1L461.8,168.4L462.3,167.7L462.8,167.7L463.2,167.5L463.7,167.9L464.2,168.0L464.6,167.5L465.1,168.2L465.5,167.4L466.0,168.5L466.5,168.3L466.9,168.7L467.4,168.2L467.8,168.4L468.3,168.5L468.8,168.3L469.2,168.4L469.7,168.5L470.1,168.2L470.3,169.5L470.6,168.4L471.1,168.4L471.5,169.3L472.0,170.0L472.5,169.2L472.9,168.5L473.4,168.6L473.8,169.3L474.3,168.9L474.8,169.4L475.2,169.0L475.7,169.5L476.1,169.7L476.6,168.9L477.1,169.3L477.5,167.5L478.0,168.8L478.2,169.6L478.5,167.3L478.7,168.6L478.9,168.6L479.4,168.4L479.8,169.4L480.3,169.3L480.8,170.0L481.2,168.9L481.7,168.6L482.1,169.4L482.6,169.4L483.1,169.3L483.5,169.1L484.0,170.3L484.5,169.0L484.9,170.2L485.4,169.5L485.8,169.6L486.3,168.9L486.8,169.3L487.2,169.7L487.7,168.7L488.1,170.7L488.6,169.1L489.1,169.4L489.5,169.6L490.0,168.2L490.4,169.5L490.9,169.3L491.4,169.5L491.8,168.5L492.0,169.6L492.3,169.1L492.8,169.5L493.2,168.9L493.7,169.9L494.1,168.7L494.6,169.9" fill="none" stroke="#3aa53a" stroke-width="1.85" stroke-linejoin="round"/>
<text x="496.70" y="104.90" font-size="8" text-anchor="start" fill="#231f20" font-weight="normal"  stroke="#231f20" stroke-width="0.3">2</text>
<text x="496.70" y="112.90" font-size="8" text-anchor="start" fill="#231f20" font-weight="normal"  stroke="#231f20" stroke-width="0.3">0.5</text>
<text x="496.70" y="119.90" font-size="8" text-anchor="start" fill="#231f20" font-weight="normal"  stroke="#231f20" stroke-width="0.3">0.2</text>
<text x="496.70" y="126.90" font-size="8" text-anchor="start" fill="#231f20" font-weight="normal"  stroke="#231f20" stroke-width="0.3">0.05</text>
<text x="496.70" y="139.90" font-size="8" text-anchor="start" fill="#231f20" font-weight="normal"  stroke="#231f20" stroke-width="0.3">2</text>
<text x="496.70" y="147.40" font-size="8" text-anchor="start" fill="#231f20" font-weight="normal"  stroke="#231f20" stroke-width="0.3">0.5</text>
<text x="496.70" y="153.90" font-size="8" text-anchor="start" fill="#231f20" font-weight="normal"  stroke="#231f20" stroke-width="0.3">0.2</text>
<text x="496.70" y="159.90" font-size="8" text-anchor="start" fill="#231f20" font-weight="normal"  stroke="#231f20" stroke-width="0.3">0.05</text>
<text x="496.70" y="171.90" font-size="8" text-anchor="start" fill="#231f20" font-weight="normal"  stroke="#231f20" stroke-width="0.3">Veh</text>
<text x="6.80" y="202.00" font-size="11.2" text-anchor="start" fill="#000" font-weight="bold" letter-spacing="0.3">ii</text>
<text x="143.50" y="202.00" font-size="11.2" text-anchor="start" fill="#000" font-weight="bold" letter-spacing="0.3">ii</text>
<text x="269.30" y="202.00" font-size="11.2" text-anchor="start" fill="#000" font-weight="bold" letter-spacing="0.3">ii</text>
<text x="398.30" y="202.00" font-size="11.2" text-anchor="start" fill="#000" font-weight="bold" letter-spacing="0.3">ii</text>
<line x1="39.90" y1="209.40" x2="39.90" y2="292.40" stroke="#2a2a2a" stroke-width="1.4"/>
<line x1="37.30" y1="291.70" x2="39.90" y2="291.70" stroke="#2a2a2a" stroke-width="1"/>
<text x="33.70" y="294.40" font-size="7.7" text-anchor="end" fill="#3a3a3a" font-weight="normal"  stroke="#3a3a3a" stroke-width="0.3">0</text>
<line x1="37.30" y1="265.20" x2="39.90" y2="265.20" stroke="#2a2a2a" stroke-width="1"/>
<text x="33.70" y="267.90" font-size="7.7" text-anchor="end" fill="#3a3a3a" font-weight="normal"  stroke="#3a3a3a" stroke-width="0.3">100</text>
<line x1="37.30" y1="238.70" x2="39.90" y2="238.70" stroke="#2a2a2a" stroke-width="1"/>
<text x="33.70" y="241.40" font-size="7.7" text-anchor="end" fill="#3a3a3a" font-weight="normal"  stroke="#3a3a3a" stroke-width="0.3">200</text>
<line x1="37.30" y1="212.20" x2="39.90" y2="212.20" stroke="#2a2a2a" stroke-width="1"/>
<text x="33.70" y="214.90" font-size="7.7" text-anchor="end" fill="#3a3a3a" font-weight="normal"  stroke="#3a3a3a" stroke-width="0.3">300</text>
<line x1="39.90" y1="291.70" x2="48.40" y2="291.70" stroke="#2a2a2a" stroke-width="1.4"/>
<line x1="48.40" y1="290.00" x2="48.40" y2="293.90" stroke="#2a2a2a" stroke-width="1"/>
<line x1="56.40" y1="291.70" x2="123.60" y2="291.70" stroke="#2a2a2a" stroke-width="1.4"/>
<line x1="56.40" y1="290.00" x2="56.40" y2="293.90" stroke="#2a2a2a" stroke-width="1"/>
<line x1="64.05" y1="291.70" x2="64.05" y2="293.10" stroke="#2a2a2a" stroke-width="0.9"/>
<line x1="72.10" y1="291.70" x2="72.10" y2="293.90" stroke="#2a2a2a" stroke-width="0.9"/>
<line x1="80.15" y1="291.70" x2="80.15" y2="293.10" stroke="#2a2a2a" stroke-width="0.9"/>
<line x1="88.20" y1="291.70" x2="88.20" y2="293.90" stroke="#2a2a2a" stroke-width="0.9"/>
<line x1="96.25" y1="291.70" x2="96.25" y2="293.10" stroke="#2a2a2a" stroke-width="0.9"/>
<line x1="104.30" y1="291.70" x2="104.30" y2="293.90" stroke="#2a2a2a" stroke-width="0.9"/>
<line x1="112.35" y1="291.70" x2="112.35" y2="293.10" stroke="#2a2a2a" stroke-width="0.9"/>
<line x1="120.40" y1="291.70" x2="120.40" y2="293.90" stroke="#2a2a2a" stroke-width="0.9"/>
<text x="0" y="0" font-size="8.3" text-anchor="end" fill="#333" transform="translate(48.50,301.30) rotate(-45)" textLength="11.4" lengthAdjust="spacingAndGlyphs" stroke="#333" stroke-width="0.3">Veh</text>
<text x="0" y="0" font-size="8.8" text-anchor="end" fill="#333" transform="translate(75.30,302.30) rotate(-45)" textLength="10.4" lengthAdjust="spacingAndGlyphs" stroke="#333" stroke-width="0.3">0.5</text>
<text x="0" y="0" font-size="8.8" text-anchor="end" fill="#333" transform="translate(91.40,302.30) rotate(-45)" textLength="10.4" lengthAdjust="spacingAndGlyphs" stroke="#333" stroke-width="0.3">1.0</text>
<text x="0" y="0" font-size="8.8" text-anchor="end" fill="#333" transform="translate(107.50,302.30) rotate(-45)" textLength="10.4" lengthAdjust="spacingAndGlyphs" stroke="#333" stroke-width="0.3">1.5</text>
<text x="0" y="0" font-size="8.8" text-anchor="end" fill="#333" transform="translate(123.60,302.30) rotate(-45)" textLength="10.4" lengthAdjust="spacingAndGlyphs" stroke="#333" stroke-width="0.3">2.0</text>
<text x="0" y="0" font-size="8" text-anchor="middle" fill="#333" class="hv" transform="translate(14.60,250.45) rotate(-90)" textLength="13.4" lengthAdjust="spacingAndGlyphs" stroke="#333" stroke-width="0.45">AUC</text>
<text x="52.70" y="322.20" font-size="8.4" fill="#333" class="hv" textLength="57.30" lengthAdjust="spacingAndGlyphs" stroke="#333" stroke-width="0.45">Concentration (μM)</text>
<line x1="57.61" y1="231.76" x2="57.61" y2="244.21" stroke="#254a78" stroke-width="0.9"/>
<line x1="56.21" y1="231.76" x2="59.01" y2="231.76" stroke="#254a78" stroke-width="0.9"/>
<line x1="56.21" y1="244.21" x2="59.01" y2="244.21" stroke="#254a78" stroke-width="0.9"/>
<line x1="62.44" y1="266.52" x2="62.44" y2="280.31" stroke="#254a78" stroke-width="0.9"/>
<line x1="61.04" y1="266.52" x2="63.84" y2="266.52" stroke="#254a78" stroke-width="0.9"/>
<line x1="61.04" y1="280.31" x2="63.84" y2="280.31" stroke="#254a78" stroke-width="0.9"/>
<line x1="72.10" y1="272.41" x2="72.10" y2="288.31" stroke="#254a78" stroke-width="0.9"/>
<line x1="70.70" y1="272.41" x2="73.50" y2="272.41" stroke="#254a78" stroke-width="0.9"/>
<line x1="70.70" y1="288.31" x2="73.50" y2="288.31" stroke="#254a78" stroke-width="0.9"/>
<line x1="120.40" y1="276.06" x2="120.40" y2="289.84" stroke="#254a78" stroke-width="0.9"/>
<line x1="119.00" y1="276.06" x2="121.80" y2="276.06" stroke="#254a78" stroke-width="0.9"/>
<line x1="119.00" y1="289.84" x2="121.80" y2="289.84" stroke="#254a78" stroke-width="0.9"/>
<path d="M57.61,237.98L62.44,273.41L72.10,280.36L120.40,282.95" fill="none" stroke="#254a78" stroke-width="1.3"/>
<path d="M55.81,239.28L59.41,239.28L57.61,236.38Z" fill="#254a78"/>
<path d="M60.64,274.71L64.24,274.71L62.44,271.81Z" fill="#254a78"/>
<path d="M70.30,281.66L73.90,281.66L72.10,278.76Z" fill="#254a78"/>
<path d="M118.60,284.25L122.20,284.25L120.40,281.35Z" fill="#254a78"/>
<line x1="57.61" y1="236.82" x2="57.61" y2="254.04" stroke="#c4122f" stroke-width="0.9"/>
<line x1="56.21" y1="236.82" x2="59.01" y2="236.82" stroke="#c4122f" stroke-width="0.9"/>
<line x1="56.21" y1="254.04" x2="59.01" y2="254.04" stroke="#c4122f" stroke-width="0.9"/>
<line x1="62.44" y1="253.46" x2="62.44" y2="270.10" stroke="#c4122f" stroke-width="0.9"/>
<line x1="61.04" y1="253.46" x2="63.84" y2="253.46" stroke="#c4122f" stroke-width="0.9"/>
<line x1="61.04" y1="270.10" x2="63.84" y2="270.10" stroke="#c4122f" stroke-width="0.9"/>
<line x1="72.10" y1="270.02" x2="72.10" y2="284.86" stroke="#c4122f" stroke-width="0.9"/>
<line x1="70.70" y1="270.02" x2="73.50" y2="270.02" stroke="#c4122f" stroke-width="0.9"/>
<line x1="70.70" y1="284.86" x2="73.50" y2="284.86" stroke="#c4122f" stroke-width="0.9"/>
<line x1="120.40" y1="276.17" x2="120.40" y2="289.95" stroke="#c4122f" stroke-width="0.9"/>
<line x1="119.00" y1="276.17" x2="121.80" y2="276.17" stroke="#c4122f" stroke-width="0.9"/>
<line x1="119.00" y1="289.95" x2="121.80" y2="289.95" stroke="#c4122f" stroke-width="0.9"/>
<path d="M57.61,245.43L62.44,261.78L72.10,277.44L120.40,283.06" fill="none" stroke="#c4122f" stroke-width="1.3"/>
<rect x="55.91" y="243.73" width="3.4" height="3.4" fill="#c4122f"/>
<rect x="60.74" y="260.08" width="3.4" height="3.4" fill="#c4122f"/>
<rect x="70.40" y="275.74" width="3.4" height="3.4" fill="#c4122f"/>
<rect x="118.70" y="281.36" width="3.4" height="3.4" fill="#c4122f"/>
<line x1="45.50" y1="228.21" x2="45.50" y2="245.17" stroke="#3f9a3f" stroke-width="0.9"/>
<line x1="44.00" y1="228.21" x2="47.00" y2="228.21" stroke="#3f9a3f" stroke-width="0.9"/>
<line x1="44.00" y1="245.17" x2="47.00" y2="245.17" stroke="#3f9a3f" stroke-width="0.9"/>
<circle cx="45.50" cy="236.69" r="1.4" fill="#3f9a3f"/>
<line x1="67.60" y1="213.30" x2="77.20" y2="213.30" stroke="#3f9a3f" stroke-width="1.2"/>
<circle cx="72.40" cy="213.30" r="1.2" fill="#3f9a3f"/>
<text x="80.60" y="216.10" font-size="7.6" text-anchor="start" fill="#5cb85a" font-weight="normal" textLength="22.3" lengthAdjust="spacingAndGlyphs" stroke="#5cb85a" stroke-width="0.3">Vehicle</text>
<line x1="67.60" y1="225.20" x2="77.20" y2="225.20" stroke="#c4122f" stroke-width="1.2"/>
<rect x="70.80" y="223.60" width="3.2" height="3.2" fill="#c4122f"/>
<text x="80.60" y="228.00" font-size="7.6" text-anchor="start" fill="#c8102e" font-weight="normal" textLength="32.2" lengthAdjust="spacingAndGlyphs" stroke="#c8102e" stroke-width="0.3">PRN1008</text>
<line x1="67.60" y1="236.80" x2="77.20" y2="236.80" stroke="#254a78" stroke-width="1.2"/>
<path d="M70.70,238.00L74.10,238.00L72.40,235.30Z" fill="#254a78"/>
<text x="80.60" y="239.60" font-size="7.6" text-anchor="start" fill="#284a7a" font-weight="normal" textLength="27.2" lengthAdjust="spacingAndGlyphs" stroke="#284a7a" stroke-width="0.3">PRN473</text>
<line x1="163.50" y1="209.40" x2="163.50" y2="292.40" stroke="#2a2a2a" stroke-width="1.4"/>
<line x1="160.90" y1="291.70" x2="163.50" y2="291.70" stroke="#2a2a2a" stroke-width="1"/>
<text x="157.30" y="294.40" font-size="7.7" text-anchor="end" fill="#3a3a3a" font-weight="normal"  stroke="#3a3a3a" stroke-width="0.3">0</text>
<line x1="160.90" y1="265.20" x2="163.50" y2="265.20" stroke="#2a2a2a" stroke-width="1"/>
<text x="157.30" y="267.90" font-size="7.7" text-anchor="end" fill="#3a3a3a" font-weight="normal"  stroke="#3a3a3a" stroke-width="0.3">100</text>
<line x1="160.90" y1="238.70" x2="163.50" y2="238.70" stroke="#2a2a2a" stroke-width="1"/>
<text x="157.30" y="241.40" font-size="7.7" text-anchor="end" fill="#3a3a3a" font-weight="normal"  stroke="#3a3a3a" stroke-width="0.3">200</text>
<line x1="160.90" y1="212.20" x2="163.50" y2="212.20" stroke="#2a2a2a" stroke-width="1"/>
<text x="157.30" y="214.90" font-size="7.7" text-anchor="end" fill="#3a3a3a" font-weight="normal"  stroke="#3a3a3a" stroke-width="0.3">300</text>
<line x1="163.50" y1="291.70" x2="172.30" y2="291.70" stroke="#2a2a2a" stroke-width="1.4"/>
<line x1="172.30" y1="290.00" x2="172.30" y2="293.90" stroke="#2a2a2a" stroke-width="1"/>
<line x1="179.80" y1="291.70" x2="247.50" y2="291.70" stroke="#2a2a2a" stroke-width="1.4"/>
<line x1="179.80" y1="290.00" x2="179.80" y2="293.90" stroke="#2a2a2a" stroke-width="1"/>
<line x1="187.37" y1="291.70" x2="187.37" y2="293.10" stroke="#2a2a2a" stroke-width="0.9"/>
<line x1="195.50" y1="291.70" x2="195.50" y2="293.90" stroke="#2a2a2a" stroke-width="0.9"/>
<line x1="203.63" y1="291.70" x2="203.63" y2="293.10" stroke="#2a2a2a" stroke-width="0.9"/>
<line x1="211.77" y1="291.70" x2="211.77" y2="293.90" stroke="#2a2a2a" stroke-width="0.9"/>
<line x1="219.90" y1="291.70" x2="219.90" y2="293.10" stroke="#2a2a2a" stroke-width="0.9"/>
<line x1="228.03" y1="291.70" x2="228.03" y2="293.90" stroke="#2a2a2a" stroke-width="0.9"/>
<line x1="236.17" y1="291.70" x2="236.17" y2="293.10" stroke="#2a2a2a" stroke-width="0.9"/>
<line x1="244.30" y1="291.70" x2="244.30" y2="293.90" stroke="#2a2a2a" stroke-width="0.9"/>
<text x="0" y="0" font-size="8.3" text-anchor="end" fill="#333" transform="translate(175.35,301.30) rotate(-45)" textLength="11.4" lengthAdjust="spacingAndGlyphs" stroke="#333" stroke-width="0.3">Veh</text>
<text x="0" y="0" font-size="8.8" text-anchor="end" fill="#333" transform="translate(198.70,302.30) rotate(-45)" textLength="10.4" lengthAdjust="spacingAndGlyphs" stroke="#333" stroke-width="0.3">0.5</text>
<text x="0" y="0" font-size="8.8" text-anchor="end" fill="#333" transform="translate(214.97,302.30) rotate(-45)" textLength="10.4" lengthAdjust="spacingAndGlyphs" stroke="#333" stroke-width="0.3">1.0</text>
<text x="0" y="0" font-size="8.8" text-anchor="end" fill="#333" transform="translate(231.23,302.30) rotate(-45)" textLength="10.4" lengthAdjust="spacingAndGlyphs" stroke="#333" stroke-width="0.3">1.5</text>
<text x="0" y="0" font-size="8.8" text-anchor="end" fill="#333" transform="translate(247.50,302.30) rotate(-45)" textLength="10.4" lengthAdjust="spacingAndGlyphs" stroke="#333" stroke-width="0.3">2.0</text>
<text x="176.30" y="322.20" font-size="8.4" fill="#333" class="hv" textLength="58.60" lengthAdjust="spacingAndGlyphs" stroke="#333" stroke-width="0.45">Concentration (μM)</text>
<line x1="180.86" y1="219.73" x2="180.86" y2="233.51" stroke="#254a78" stroke-width="0.9"/>
<line x1="179.46" y1="219.73" x2="182.26" y2="219.73" stroke="#254a78" stroke-width="0.9"/>
<line x1="179.46" y1="233.51" x2="182.26" y2="233.51" stroke="#254a78" stroke-width="0.9"/>
<line x1="185.74" y1="242.14" x2="185.74" y2="259.63" stroke="#254a78" stroke-width="0.9"/>
<line x1="184.34" y1="242.14" x2="187.14" y2="242.14" stroke="#254a78" stroke-width="0.9"/>
<line x1="184.34" y1="259.63" x2="187.14" y2="259.63" stroke="#254a78" stroke-width="0.9"/>
<line x1="195.50" y1="253.35" x2="195.50" y2="270.84" stroke="#254a78" stroke-width="0.9"/>
<line x1="194.10" y1="253.35" x2="196.90" y2="253.35" stroke="#254a78" stroke-width="0.9"/>
<line x1="194.10" y1="270.84" x2="196.90" y2="270.84" stroke="#254a78" stroke-width="0.9"/>
<line x1="244.30" y1="262.28" x2="244.30" y2="280.31" stroke="#254a78" stroke-width="0.9"/>
<line x1="242.90" y1="262.28" x2="245.70" y2="262.28" stroke="#254a78" stroke-width="0.9"/>
<line x1="242.90" y1="280.31" x2="245.70" y2="280.31" stroke="#254a78" stroke-width="0.9"/>
<path d="M180.86,226.62L185.74,250.89L195.50,262.10L244.30,271.29" fill="none" stroke="#254a78" stroke-width="1.3"/>
<path d="M179.06,227.92L182.66,227.92L180.86,225.02Z" fill="#254a78"/>
<path d="M183.94,252.19L187.54,252.19L185.74,249.29Z" fill="#254a78"/>
<path d="M193.70,263.40L197.30,263.40L195.50,260.50Z" fill="#254a78"/>
<path d="M242.50,272.59L246.10,272.59L244.30,269.69Z" fill="#254a78"/>
<line x1="180.86" y1="212.78" x2="180.86" y2="220.73" stroke="#c4122f" stroke-width="0.9"/>
<line x1="179.46" y1="212.78" x2="182.26" y2="212.78" stroke="#c4122f" stroke-width="0.9"/>
<line x1="179.46" y1="220.73" x2="182.26" y2="220.73" stroke="#c4122f" stroke-width="0.9"/>
<line x1="185.74" y1="232.76" x2="185.74" y2="249.19" stroke="#c4122f" stroke-width="0.9"/>
<line x1="184.34" y1="232.76" x2="187.14" y2="232.76" stroke="#c4122f" stroke-width="0.9"/>
<line x1="184.34" y1="249.19" x2="187.14" y2="249.19" stroke="#c4122f" stroke-width="0.9"/>
<line x1="195.50" y1="264.06" x2="195.50" y2="283.67" stroke="#c4122f" stroke-width="0.9"/>
<line x1="194.10" y1="264.06" x2="196.90" y2="264.06" stroke="#c4122f" stroke-width="0.9"/>
<line x1="194.10" y1="283.67" x2="196.90" y2="283.67" stroke="#c4122f" stroke-width="0.9"/>
<line x1="244.30" y1="270.74" x2="244.30" y2="289.82" stroke="#c4122f" stroke-width="0.9"/>
<line x1="242.90" y1="270.74" x2="245.70" y2="270.74" stroke="#c4122f" stroke-width="0.9"/>
<line x1="242.90" y1="289.82" x2="245.70" y2="289.82" stroke="#c4122f" stroke-width="0.9"/>
<path d="M180.86,216.76L185.74,240.98L195.50,273.87L244.30,280.28" fill="none" stroke="#c4122f" stroke-width="1.3"/>
<rect x="179.16" y="215.06" width="3.4" height="3.4" fill="#c4122f"/>
<rect x="184.04" y="239.28" width="3.4" height="3.4" fill="#c4122f"/>
<rect x="193.80" y="272.17" width="3.4" height="3.4" fill="#c4122f"/>
<rect x="242.60" y="278.58" width="3.4" height="3.4" fill="#c4122f"/>
<line x1="169.50" y1="217.53" x2="169.50" y2="233.96" stroke="#3f9a3f" stroke-width="0.9"/>
<line x1="168.00" y1="217.53" x2="171.00" y2="217.53" stroke="#3f9a3f" stroke-width="0.9"/>
<line x1="168.00" y1="233.96" x2="171.00" y2="233.96" stroke="#3f9a3f" stroke-width="0.9"/>
<circle cx="169.50" cy="225.74" r="1.4" fill="#3f9a3f"/>
<line x1="197.20" y1="213.20" x2="206.70" y2="213.20" stroke="#3f9a3f" stroke-width="1.2"/>
<circle cx="201.95" cy="213.20" r="1.2" fill="#3f9a3f"/>
<text x="210.20" y="216.00" font-size="7.6" text-anchor="start" fill="#5cb85a" font-weight="normal" textLength="22.3" lengthAdjust="spacingAndGlyphs" stroke="#5cb85a" stroke-width="0.3">Vehicle</text>
<line x1="197.20" y1="225.20" x2="206.70" y2="225.20" stroke="#c4122f" stroke-width="1.2"/>
<rect x="200.35" y="223.60" width="3.2" height="3.2" fill="#c4122f"/>
<text x="210.20" y="228.00" font-size="7.6" text-anchor="start" fill="#c8102e" font-weight="normal" textLength="32.2" lengthAdjust="spacingAndGlyphs" stroke="#c8102e" stroke-width="0.3">PRN1008</text>
<line x1="197.20" y1="237.00" x2="206.70" y2="237.00" stroke="#254a78" stroke-width="1.2"/>
<path d="M200.25,238.20L203.65,238.20L201.95,235.50Z" fill="#254a78"/>
<text x="210.20" y="239.80" font-size="7.6" text-anchor="start" fill="#284a7a" font-weight="normal" textLength="27.2" lengthAdjust="spacingAndGlyphs" stroke="#284a7a" stroke-width="0.3">PRN473</text>
<line x1="288.90" y1="209.40" x2="288.90" y2="292.40" stroke="#2a2a2a" stroke-width="1.4"/>
<line x1="286.30" y1="291.70" x2="288.90" y2="291.70" stroke="#2a2a2a" stroke-width="1"/>
<text x="282.70" y="294.40" font-size="7.7" text-anchor="end" fill="#3a3a3a" font-weight="normal"  stroke="#3a3a3a" stroke-width="0.3">0</text>
<line x1="286.30" y1="265.20" x2="288.90" y2="265.20" stroke="#2a2a2a" stroke-width="1"/>
<text x="282.70" y="267.90" font-size="7.7" text-anchor="end" fill="#3a3a3a" font-weight="normal"  stroke="#3a3a3a" stroke-width="0.3">100</text>
<line x1="286.30" y1="238.70" x2="288.90" y2="238.70" stroke="#2a2a2a" stroke-width="1"/>
<text x="282.70" y="241.40" font-size="7.7" text-anchor="end" fill="#3a3a3a" font-weight="normal"  stroke="#3a3a3a" stroke-width="0.3">200</text>
<line x1="286.30" y1="212.20" x2="288.90" y2="212.20" stroke="#2a2a2a" stroke-width="1"/>
<text x="282.70" y="214.90" font-size="7.7" text-anchor="end" fill="#3a3a3a" font-weight="normal"  stroke="#3a3a3a" stroke-width="0.3">300</text>
<line x1="288.90" y1="291.70" x2="297.30" y2="291.70" stroke="#2a2a2a" stroke-width="1.4"/>
<line x1="297.30" y1="290.00" x2="297.30" y2="293.90" stroke="#2a2a2a" stroke-width="1"/>
<line x1="305.40" y1="291.70" x2="372.50" y2="291.70" stroke="#2a2a2a" stroke-width="1.4"/>
<line x1="305.40" y1="290.00" x2="305.40" y2="293.90" stroke="#2a2a2a" stroke-width="1"/>
<line x1="312.95" y1="291.70" x2="312.95" y2="293.10" stroke="#2a2a2a" stroke-width="0.9"/>
<line x1="321.00" y1="291.70" x2="321.00" y2="293.90" stroke="#2a2a2a" stroke-width="0.9"/>
<line x1="329.05" y1="291.70" x2="329.05" y2="293.10" stroke="#2a2a2a" stroke-width="0.9"/>
<line x1="337.10" y1="291.70" x2="337.10" y2="293.90" stroke="#2a2a2a" stroke-width="0.9"/>
<line x1="345.15" y1="291.70" x2="345.15" y2="293.10" stroke="#2a2a2a" stroke-width="0.9"/>
<line x1="353.20" y1="291.70" x2="353.20" y2="293.90" stroke="#2a2a2a" stroke-width="0.9"/>
<line x1="361.25" y1="291.70" x2="361.25" y2="293.10" stroke="#2a2a2a" stroke-width="0.9"/>
<line x1="369.30" y1="291.70" x2="369.30" y2="293.90" stroke="#2a2a2a" stroke-width="0.9"/>
<text x="0" y="0" font-size="8.3" text-anchor="end" fill="#333" transform="translate(300.65,301.30) rotate(-45)" textLength="11.4" lengthAdjust="spacingAndGlyphs" stroke="#333" stroke-width="0.3">Veh</text>
<text x="0" y="0" font-size="8.8" text-anchor="end" fill="#333" transform="translate(324.20,302.30) rotate(-45)" textLength="10.4" lengthAdjust="spacingAndGlyphs" stroke="#333" stroke-width="0.3">0.5</text>
<text x="0" y="0" font-size="8.8" text-anchor="end" fill="#333" transform="translate(340.30,302.30) rotate(-45)" textLength="10.4" lengthAdjust="spacingAndGlyphs" stroke="#333" stroke-width="0.3">1.0</text>
<text x="0" y="0" font-size="8.8" text-anchor="end" fill="#333" transform="translate(356.40,302.30) rotate(-45)" textLength="10.4" lengthAdjust="spacingAndGlyphs" stroke="#333" stroke-width="0.3">1.5</text>
<text x="0" y="0" font-size="8.8" text-anchor="end" fill="#333" transform="translate(372.50,302.30) rotate(-45)" textLength="10.4" lengthAdjust="spacingAndGlyphs" stroke="#333" stroke-width="0.3">2.0</text>
<text x="301.00" y="322.20" font-size="8.4" fill="#333" class="hv" textLength="59.30" lengthAdjust="spacingAndGlyphs" stroke="#333" stroke-width="0.45">Concentration (μM)</text>
<line x1="306.51" y1="232.53" x2="306.51" y2="248.43" stroke="#254a78" stroke-width="0.9"/>
<line x1="305.11" y1="232.53" x2="307.91" y2="232.53" stroke="#254a78" stroke-width="0.9"/>
<line x1="305.11" y1="248.43" x2="307.91" y2="248.43" stroke="#254a78" stroke-width="0.9"/>
<line x1="311.34" y1="233.59" x2="311.34" y2="254.26" stroke="#254a78" stroke-width="0.9"/>
<line x1="309.94" y1="233.59" x2="312.74" y2="233.59" stroke="#254a78" stroke-width="0.9"/>
<line x1="309.94" y1="254.26" x2="312.74" y2="254.26" stroke="#254a78" stroke-width="0.9"/>
<line x1="321.00" y1="247.97" x2="321.00" y2="266.52" stroke="#254a78" stroke-width="0.9"/>
<line x1="319.60" y1="247.97" x2="322.40" y2="247.97" stroke="#254a78" stroke-width="0.9"/>
<line x1="319.60" y1="266.52" x2="322.40" y2="266.52" stroke="#254a78" stroke-width="0.9"/>
<line x1="369.30" y1="272.75" x2="369.30" y2="280.17" stroke="#254a78" stroke-width="0.9"/>
<line x1="367.90" y1="272.75" x2="370.70" y2="272.75" stroke="#254a78" stroke-width="0.9"/>
<line x1="367.90" y1="280.17" x2="370.70" y2="280.17" stroke="#254a78" stroke-width="0.9"/>
<path d="M306.51,240.48L311.34,243.92L321.00,257.25L369.30,276.46" fill="none" stroke="#254a78" stroke-width="1.3"/>
<path d="M304.71,241.78L308.31,241.78L306.51,238.88Z" fill="#254a78"/>
<path d="M309.54,245.22L313.14,245.22L311.34,242.32Z" fill="#254a78"/>
<path d="M319.20,258.55L322.80,258.55L321.00,255.65Z" fill="#254a78"/>
<path d="M367.50,277.76L371.10,277.76L369.30,274.86Z" fill="#254a78"/>
<line x1="306.51" y1="226.17" x2="306.51" y2="236.77" stroke="#c4122f" stroke-width="0.9"/>
<line x1="305.11" y1="226.17" x2="307.91" y2="226.17" stroke="#c4122f" stroke-width="0.9"/>
<line x1="305.11" y1="236.77" x2="307.91" y2="236.77" stroke="#c4122f" stroke-width="0.9"/>
<line x1="311.34" y1="227.46" x2="311.34" y2="247.60" stroke="#c4122f" stroke-width="0.9"/>
<line x1="309.94" y1="227.46" x2="312.74" y2="227.46" stroke="#c4122f" stroke-width="0.9"/>
<line x1="309.94" y1="247.60" x2="312.74" y2="247.60" stroke="#c4122f" stroke-width="0.9"/>
<line x1="321.00" y1="242.09" x2="321.00" y2="260.64" stroke="#c4122f" stroke-width="0.9"/>
<line x1="319.60" y1="242.09" x2="322.40" y2="242.09" stroke="#c4122f" stroke-width="0.9"/>
<line x1="319.60" y1="260.64" x2="322.40" y2="260.64" stroke="#c4122f" stroke-width="0.9"/>
<line x1="369.30" y1="272.43" x2="369.30" y2="278.79" stroke="#c4122f" stroke-width="0.9"/>
<line x1="367.90" y1="272.43" x2="370.70" y2="272.43" stroke="#c4122f" stroke-width="0.9"/>
<line x1="367.90" y1="278.79" x2="370.70" y2="278.79" stroke="#c4122f" stroke-width="0.9"/>
<path d="M306.51,231.47L311.34,237.53L321.00,251.37L369.30,275.61" fill="none" stroke="#c4122f" stroke-width="1.3"/>
<rect x="304.81" y="229.77" width="3.4" height="3.4" fill="#c4122f"/>
<rect x="309.64" y="235.83" width="3.4" height="3.4" fill="#c4122f"/>
<rect x="319.30" y="249.67" width="3.4" height="3.4" fill="#c4122f"/>
<rect x="367.60" y="273.91" width="3.4" height="3.4" fill="#c4122f"/>
<line x1="294.50" y1="229.16" x2="294.50" y2="252.48" stroke="#3f9a3f" stroke-width="0.9"/>
<line x1="293.00" y1="229.16" x2="296.00" y2="229.16" stroke="#3f9a3f" stroke-width="0.9"/>
<line x1="293.00" y1="252.48" x2="296.00" y2="252.48" stroke="#3f9a3f" stroke-width="0.9"/>
<circle cx="294.50" cy="240.82" r="1.4" fill="#3f9a3f"/>
<line x1="324.80" y1="213.20" x2="335.20" y2="213.20" stroke="#3f9a3f" stroke-width="1.2"/>
<circle cx="330.00" cy="213.20" r="1.2" fill="#3f9a3f"/>
<text x="337.80" y="216.00" font-size="7.6" text-anchor="start" fill="#5cb85a" font-weight="normal" textLength="22.3" lengthAdjust="spacingAndGlyphs" stroke="#5cb85a" stroke-width="0.3">Vehicle</text>
<line x1="324.80" y1="225.20" x2="335.20" y2="225.20" stroke="#c4122f" stroke-width="1.2"/>
<rect x="328.40" y="223.60" width="3.2" height="3.2" fill="#c4122f"/>
<text x="337.80" y="228.00" font-size="7.6" text-anchor="start" fill="#c8102e" font-weight="normal" textLength="32.2" lengthAdjust="spacingAndGlyphs" stroke="#c8102e" stroke-width="0.3">PRN1008</text>
<line x1="324.80" y1="237.00" x2="335.20" y2="237.00" stroke="#254a78" stroke-width="1.2"/>
<path d="M328.30,238.20L331.70,238.20L330.00,235.50Z" fill="#254a78"/>
<text x="337.80" y="239.80" font-size="7.6" text-anchor="start" fill="#284a7a" font-weight="normal" textLength="27.2" lengthAdjust="spacingAndGlyphs" stroke="#284a7a" stroke-width="0.3">PRN473</text>
<line x1="417.70" y1="209.40" x2="417.70" y2="292.40" stroke="#2a2a2a" stroke-width="1.4"/>
<line x1="415.10" y1="291.70" x2="417.70" y2="291.70" stroke="#2a2a2a" stroke-width="1"/>
<text x="411.50" y="294.40" font-size="7.7" text-anchor="end" fill="#3a3a3a" font-weight="normal"  stroke="#3a3a3a" stroke-width="0.3">0</text>
<line x1="415.10" y1="265.20" x2="417.70" y2="265.20" stroke="#2a2a2a" stroke-width="1"/>
<text x="411.50" y="267.90" font-size="7.7" text-anchor="end" fill="#3a3a3a" font-weight="normal"  stroke="#3a3a3a" stroke-width="0.3">100</text>
<line x1="415.10" y1="238.70" x2="417.70" y2="238.70" stroke="#2a2a2a" stroke-width="1"/>
<text x="411.50" y="241.40" font-size="7.7" text-anchor="end" fill="#3a3a3a" font-weight="normal"  stroke="#3a3a3a" stroke-width="0.3">200</text>
<line x1="415.10" y1="212.20" x2="417.70" y2="212.20" stroke="#2a2a2a" stroke-width="1"/>
<text x="411.50" y="214.90" font-size="7.7" text-anchor="end" fill="#3a3a3a" font-weight="normal"  stroke="#3a3a3a" stroke-width="0.3">300</text>
<line x1="417.70" y1="291.70" x2="426.30" y2="291.70" stroke="#2a2a2a" stroke-width="1.4"/>
<line x1="426.30" y1="290.00" x2="426.30" y2="293.90" stroke="#2a2a2a" stroke-width="1"/>
<line x1="434.40" y1="291.70" x2="501.50" y2="291.70" stroke="#2a2a2a" stroke-width="1.4"/>
<line x1="434.40" y1="290.00" x2="434.40" y2="293.90" stroke="#2a2a2a" stroke-width="1"/>
<line x1="441.83" y1="291.70" x2="441.83" y2="293.10" stroke="#2a2a2a" stroke-width="0.9"/>
<line x1="449.90" y1="291.70" x2="449.90" y2="293.90" stroke="#2a2a2a" stroke-width="0.9"/>
<line x1="457.97" y1="291.70" x2="457.97" y2="293.10" stroke="#2a2a2a" stroke-width="0.9"/>
<line x1="466.03" y1="291.70" x2="466.03" y2="293.90" stroke="#2a2a2a" stroke-width="0.9"/>
<line x1="474.10" y1="291.70" x2="474.10" y2="293.10" stroke="#2a2a2a" stroke-width="0.9"/>
<line x1="482.17" y1="291.70" x2="482.17" y2="293.90" stroke="#2a2a2a" stroke-width="0.9"/>
<line x1="490.23" y1="291.70" x2="490.23" y2="293.10" stroke="#2a2a2a" stroke-width="0.9"/>
<line x1="498.30" y1="291.70" x2="498.30" y2="293.90" stroke="#2a2a2a" stroke-width="0.9"/>
<text x="0" y="0" font-size="8.3" text-anchor="end" fill="#333" transform="translate(429.65,301.30) rotate(-45)" textLength="11.4" lengthAdjust="spacingAndGlyphs" stroke="#333" stroke-width="0.3">Veh</text>
<text x="0" y="0" font-size="8.8" text-anchor="end" fill="#333" transform="translate(453.10,302.30) rotate(-45)" textLength="10.4" lengthAdjust="spacingAndGlyphs" stroke="#333" stroke-width="0.3">0.5</text>
<text x="0" y="0" font-size="8.8" text-anchor="end" fill="#333" transform="translate(469.23,302.30) rotate(-45)" textLength="10.4" lengthAdjust="spacingAndGlyphs" stroke="#333" stroke-width="0.3">1.0</text>
<text x="0" y="0" font-size="8.8" text-anchor="end" fill="#333" transform="translate(485.37,302.30) rotate(-45)" textLength="10.4" lengthAdjust="spacingAndGlyphs" stroke="#333" stroke-width="0.3">1.5</text>
<text x="0" y="0" font-size="8.8" text-anchor="end" fill="#333" transform="translate(501.50,302.30) rotate(-45)" textLength="10.4" lengthAdjust="spacingAndGlyphs" stroke="#333" stroke-width="0.3">2.0</text>
<text x="430.50" y="322.20" font-size="8.4" fill="#333" class="hv" textLength="58.30" lengthAdjust="spacingAndGlyphs" stroke="#333" stroke-width="0.45">Concentration (μM)</text>
<line x1="435.38" y1="212.20" x2="435.38" y2="217.16" stroke="#254a78" stroke-width="0.9"/>
<line x1="433.98" y1="217.16" x2="436.78" y2="217.16" stroke="#254a78" stroke-width="0.9"/>
<line x1="440.22" y1="212.20" x2="440.22" y2="222.75" stroke="#254a78" stroke-width="0.9"/>
<line x1="438.82" y1="222.75" x2="441.62" y2="222.75" stroke="#254a78" stroke-width="0.9"/>
<line x1="449.90" y1="216.25" x2="449.90" y2="230.03" stroke="#254a78" stroke-width="0.9"/>
<line x1="448.50" y1="216.25" x2="451.30" y2="216.25" stroke="#254a78" stroke-width="0.9"/>
<line x1="448.50" y1="230.03" x2="451.30" y2="230.03" stroke="#254a78" stroke-width="0.9"/>
<line x1="498.30" y1="227.33" x2="498.30" y2="242.17" stroke="#254a78" stroke-width="0.9"/>
<line x1="496.90" y1="227.33" x2="499.70" y2="227.33" stroke="#254a78" stroke-width="0.9"/>
<line x1="496.90" y1="242.17" x2="499.70" y2="242.17" stroke="#254a78" stroke-width="0.9"/>
<path d="M435.38,214.51L440.22,217.45L449.90,223.14L498.30,234.75" fill="none" stroke="#254a78" stroke-width="1.3"/>
<path d="M433.58,215.81L437.18,215.81L435.38,212.91Z" fill="#254a78"/>
<path d="M438.42,218.75L442.02,218.75L440.22,215.85Z" fill="#254a78"/>
<path d="M448.10,224.44L451.70,224.44L449.90,221.54Z" fill="#254a78"/>
<path d="M496.50,236.05L500.10,236.05L498.30,233.15Z" fill="#254a78"/>
<line x1="435.38" y1="212.20" x2="435.38" y2="219.54" stroke="#c4122f" stroke-width="0.9"/>
<line x1="433.98" y1="219.54" x2="436.78" y2="219.54" stroke="#c4122f" stroke-width="0.9"/>
<line x1="440.22" y1="212.20" x2="440.22" y2="217.95" stroke="#c4122f" stroke-width="0.9"/>
<line x1="438.82" y1="217.95" x2="441.62" y2="217.95" stroke="#c4122f" stroke-width="0.9"/>
<line x1="449.90" y1="212.20" x2="449.90" y2="219.54" stroke="#c4122f" stroke-width="0.9"/>
<line x1="448.50" y1="219.54" x2="451.30" y2="219.54" stroke="#c4122f" stroke-width="0.9"/>
<line x1="498.30" y1="222.53" x2="498.30" y2="240.02" stroke="#c4122f" stroke-width="0.9"/>
<line x1="496.90" y1="222.53" x2="499.70" y2="222.53" stroke="#c4122f" stroke-width="0.9"/>
<line x1="496.90" y1="240.02" x2="499.70" y2="240.02" stroke="#c4122f" stroke-width="0.9"/>
<path d="M435.38,213.98L440.22,213.98L449.90,213.98L498.30,231.28" fill="none" stroke="#c4122f" stroke-width="1.3"/>
<rect x="433.68" y="212.28" width="3.4" height="3.4" fill="#c4122f"/>
<rect x="438.52" y="212.28" width="3.4" height="3.4" fill="#c4122f"/>
<rect x="448.20" y="212.28" width="3.4" height="3.4" fill="#c4122f"/>
<rect x="496.60" y="229.58" width="3.4" height="3.4" fill="#c4122f"/>
<line x1="423.70" y1="222.61" x2="423.70" y2="242.75" stroke="#3f9a3f" stroke-width="0.9"/>
<line x1="422.20" y1="222.61" x2="425.20" y2="222.61" stroke="#3f9a3f" stroke-width="0.9"/>
<line x1="422.20" y1="242.75" x2="425.20" y2="242.75" stroke="#3f9a3f" stroke-width="0.9"/>
<circle cx="423.70" cy="232.68" r="1.4" fill="#3f9a3f"/>
<line x1="434.10" y1="257.80" x2="443.80" y2="257.80" stroke="#3f9a3f" stroke-width="1.2"/>
<circle cx="438.95" cy="257.80" r="1.2" fill="#3f9a3f"/>
<text x="446.20" y="260.60" font-size="7.6" text-anchor="start" fill="#5cb85a" font-weight="normal" textLength="22.3" lengthAdjust="spacingAndGlyphs" stroke="#5cb85a" stroke-width="0.3">Vehicle</text>
<line x1="434.10" y1="269.40" x2="443.80" y2="269.40" stroke="#c4122f" stroke-width="1.2"/>
<rect x="437.35" y="267.80" width="3.2" height="3.2" fill="#c4122f"/>
<text x="446.20" y="272.20" font-size="7.6" text-anchor="start" fill="#c8102e" font-weight="normal" textLength="32.2" lengthAdjust="spacingAndGlyphs" stroke="#c8102e" stroke-width="0.3">PRN1008</text>
<line x1="434.10" y1="281.10" x2="443.80" y2="281.10" stroke="#254a78" stroke-width="1.2"/>
<path d="M437.25,282.30L440.65,282.30L438.95,279.60Z" fill="#254a78"/>
<text x="446.20" y="283.90" font-size="7.6" text-anchor="start" fill="#284a7a" font-weight="normal" textLength="27.2" lengthAdjust="spacingAndGlyphs" stroke="#284a7a" stroke-width="0.3">PRN473</text>
<text x="6.80" y="349.60" font-size="10.6" text-anchor="start" fill="#000" font-weight="bold" >E</text>
<text x="6.80" y="368.70" font-size="11.2" text-anchor="start" fill="#000" font-weight="bold" letter-spacing="0.3">i</text>
<text x="27.80" y="381.00" font-size="7.7" text-anchor="middle" fill="#262626" font-weight="normal"  stroke="#262626" stroke-width="0.3">CRP</text>
<text x="27.80" y="391.30" font-size="7.7" text-anchor="middle" fill="#262626" font-weight="normal"  stroke="#262626" stroke-width="0.3">1 μg/ml</text>
<path d="M25.00,395.50L30.60,395.50L27.80,400.90Z" fill="#111"/>
<text x="107.20" y="398.30" font-size="7.6" text-anchor="middle" fill="#231f20" font-weight="normal"  stroke="#231f20" stroke-width="0.3">[μM]</text>
<line x1="27.2" y1="405" x2="27.2" y2="417.5" stroke="#b81131" stroke-width="1.3"/>
<path d="M27.2,406.5L27.7,406.5L28.1,406.6L28.6,406.6L29.0,406.4L29.5,406.5L29.9,406.5L30.4,406.5L30.9,406.5L31.3,406.4L31.8,406.5L32.2,406.4L32.7,405.9L32.9,406.8L33.1,406.5L33.6,406.5L34.1,406.5L34.5,406.5L35.0,406.5L35.4,406.5L35.9,406.4L36.3,406.6L36.8,406.5L37.3,406.6L37.7,406.5L38.2,406.5L38.6,406.5L39.1,406.5L39.5,406.4L40.0,406.6L40.5,406.6L40.9,406.6L41.4,406.6L41.8,406.5L42.3,406.4L42.7,406.6L43.2,406.6L43.7,406.5L44.1,406.5L44.6,406.6L45.0,406.7L45.5,406.6L46.0,406.6L46.4,406.7L46.9,406.7L47.3,406.6L47.8,406.7L48.2,406.6L48.7,406.7L49.2,406.7L49.6,406.7L50.1,406.6L50.5,406.8L51.0,406.7L51.4,406.8L51.9,406.7L52.4,406.8L52.8,406.1L53.0,407.1L53.3,406.8L53.7,406.8L54.2,406.9L54.6,407.0L55.1,406.9L55.6,406.9L56.0,406.8L56.5,407.0L56.9,407.0L57.4,407.0L57.8,407.0L58.3,406.9L58.8,406.9L59.2,406.9L59.7,407.0L60.1,407.1L60.6,406.9L61.0,407.0L61.5,407.1L62.0,407.0L62.4,407.0L62.9,407.0L63.3,407.1L63.8,407.1L64.2,407.1L64.7,407.1L65.2,407.2L65.6,407.1L66.1,407.2L66.5,407.1L67.0,407.2L67.4,407.1L67.9,407.2L68.4,407.2L68.8,407.1L69.3,407.2L69.7,407.2L70.2,407.2L70.6,407.2L71.1,407.2L71.6,407.2L72.0,407.2L72.5,407.3L72.9,407.3L73.4,407.3L73.8,407.3L74.3,407.3L74.8,407.4L75.2,407.4L75.7,407.2L76.1,407.2L76.6,407.2L77.0,407.3L77.5,407.4L78.0,407.3L78.4,407.3L78.9,407.3L79.3,407.2L79.8,407.3L80.3,407.3L80.7,407.3L81.2,407.3L81.6,407.3L82.1,407.4L82.5,407.3L83.0,407.4L83.5,407.4L83.9,407.4L84.4,407.4L84.8,407.4L85.3,407.3L85.7,407.4L86.2,407.4L86.7,407.5L87.1,407.5L87.6,407.4L88.0,407.4L88.5,407.5L88.9,407.4L89.4,407.4L89.9,407.4L90.3,407.5L90.8,407.4L91.2,407.5L91.7,407.5L92.1,406.5L92.3,407.9L92.6,407.5L93.1,407.5L93.5,407.5L94.0,407.5L94.4,407.5L94.9,407.6L95.3,407.5L95.8,407.6" fill="none" stroke="#b81131" stroke-width="1.85" stroke-linejoin="round"/>
<path d="M27.2,410.3L27.7,410.3L28.1,410.3L28.6,410.3L29.0,410.3L29.5,410.2L29.9,410.3L30.4,410.3L30.9,410.3L31.3,410.3L31.8,410.3L32.2,410.4L32.7,410.3L33.1,410.3L33.6,410.3L34.1,410.2L34.5,410.3L35.0,410.4L35.4,410.3L35.9,410.3L36.3,410.4L36.8,410.3L37.3,410.4L37.7,410.4L38.2,410.5L38.6,410.5L39.1,410.5L39.5,410.6L40.0,410.6L40.5,410.6L40.9,410.7L41.4,410.7L41.8,410.6L42.3,410.8L42.7,410.8L43.2,411.0L43.7,411.0L44.1,410.9L44.6,411.1L45.0,411.0L45.5,411.1L46.0,411.2L46.4,411.2L46.9,411.3L47.3,411.4L47.8,411.4L48.2,411.5L48.7,411.5L49.2,411.5L49.6,411.5L50.1,411.6L50.5,411.7L51.0,411.7L51.4,411.8L51.9,411.7L52.4,411.8L52.8,411.9L53.3,412.0L53.7,412.0L54.2,412.0L54.6,412.1L55.1,412.0L55.6,412.0L56.0,412.1L56.5,412.2L56.9,412.1L57.4,412.2L57.8,412.3L58.3,412.3L58.8,412.4L59.2,412.4L59.7,412.5L60.1,412.4L60.6,412.4L61.0,412.5L61.5,412.5L62.0,412.6L62.4,412.5L62.9,412.6L63.3,412.7L63.8,412.6L64.2,412.7L64.7,412.6L65.2,412.7L65.6,412.7L66.1,412.8L66.5,412.9L67.0,412.8L67.4,412.9L67.9,412.9L68.4,412.9L68.8,413.0L69.3,412.9L69.7,412.9L70.2,413.0L70.6,413.0L71.1,413.1L71.6,413.0L72.0,413.1L72.5,413.1L72.9,413.2L73.4,413.1L73.8,413.1L74.3,413.1L74.8,413.2L75.2,413.2L75.7,413.2L76.1,413.2L76.6,413.1L77.0,413.3L77.5,413.3L78.0,413.2L78.4,413.3L78.9,413.3L79.3,413.4L79.8,413.3L80.3,413.3L80.7,413.4L81.2,412.9L81.4,413.5L81.6,413.4L82.1,413.4L82.5,412.9L82.7,413.6L83.0,413.4L83.5,413.4L83.9,413.5L84.4,413.5L84.8,413.6L85.3,413.5L85.7,413.6L86.2,413.4L86.7,413.5L87.1,413.5L87.6,413.6L88.0,413.5L88.5,413.6L88.9,413.6L89.4,413.7L89.9,413.6L90.3,413.1L90.5,413.9L90.8,413.6L91.2,413.6L91.7,413.6L92.1,413.6L92.6,413.7L93.1,413.6L93.5,413.7L94.0,413.6L94.4,413.7L94.9,413.7L95.3,413.7L95.8,413.8" fill="none" stroke="#b81131" stroke-width="1.85" stroke-linejoin="round"/>
<path d="M27.2,413.0L27.7,412.9L28.1,412.9L28.6,412.9L29.0,412.9L29.5,412.8L29.9,412.8L30.4,412.9L30.9,413.0L31.3,412.9L31.8,412.8L32.2,413.0L32.7,412.8L33.1,412.9L33.6,412.9L34.1,412.9L34.5,413.0L35.0,412.9L35.4,413.0L35.9,413.1L36.3,413.1L36.8,413.3L37.3,413.5L37.7,413.6L38.2,413.8L38.6,414.1L39.1,414.3L39.5,414.6L40.0,414.9L40.5,415.1L40.9,415.4L41.4,415.7L41.8,416.0L42.3,416.3L42.7,416.7L43.2,417.0L43.7,417.2L44.1,417.6L44.6,417.9L45.0,418.3L45.5,418.5L46.0,418.9L46.4,419.3L46.9,419.5L47.3,419.1L47.5,420.1L47.8,420.2L48.2,420.5L48.7,420.9L49.2,421.1L49.6,421.3L50.1,421.6L50.5,421.8L51.0,422.2L51.4,422.5L51.9,422.7L52.4,422.9L52.8,423.2L53.3,423.4L53.7,423.6L54.2,423.0L54.4,423.9L54.6,424.0L55.1,424.2L55.6,424.4L56.0,424.5L56.5,424.8L56.9,424.9L57.4,425.1L57.8,425.3L58.3,425.5L58.8,425.6L59.2,425.8L59.7,425.9L60.1,426.0L60.6,426.1L61.0,426.4L61.5,426.4L62.0,426.6L62.4,426.6L62.9,426.7L63.3,425.9L63.5,427.1L63.8,427.1L64.2,427.0L64.7,427.2L65.2,427.4L65.6,427.3L66.1,427.5L66.5,427.6L67.0,427.6L67.4,427.8L67.9,427.8L68.4,427.9L68.8,428.0L69.3,428.1L69.7,428.3L70.2,428.2L70.6,428.3L71.1,428.3L71.6,428.4L72.0,428.4L72.5,428.5L72.9,428.6L73.4,428.7L73.8,428.7L74.3,428.8L74.8,428.9L75.2,428.8L75.7,429.0L76.1,429.0L76.6,429.1L77.0,429.1L77.5,429.1L78.0,429.2L78.4,429.1L78.9,429.4L79.3,429.3L79.8,429.4L80.3,429.4L80.7,429.4L81.2,429.4L81.6,429.5L82.1,429.4L82.5,429.6L83.0,429.7L83.5,429.5L83.9,429.6L84.4,429.7L84.8,429.8L85.3,428.9L85.5,430.3L85.7,429.8L86.2,429.8L86.7,429.8L87.1,429.9L87.6,429.9L88.0,429.9L88.5,429.9L88.9,430.0L89.4,430.0L89.9,430.1L90.3,430.1L90.8,430.1L91.2,430.0L91.7,430.1L92.1,430.1L92.6,430.2L93.1,430.2L93.5,430.3L94.0,430.2L94.4,430.3L94.9,430.3L95.3,430.3L95.8,430.3" fill="none" stroke="#b81131" stroke-width="1.85" stroke-linejoin="round"/>
<path d="M27.2,415.6L27.7,415.7L28.1,415.7L28.6,415.7L29.0,415.7L29.5,415.7L29.9,415.7L30.4,415.7L30.9,415.7L31.3,415.8L31.8,415.8L32.2,415.7L32.7,415.7L33.1,415.7L33.6,415.7L34.1,415.7L34.5,415.8L35.0,415.7L35.4,415.7L35.9,414.8L36.1,416.1L36.3,415.7L36.8,415.8L37.3,415.9L37.7,416.0L38.2,416.1L38.6,416.4L39.1,416.8L39.5,417.1L40.0,417.4L40.5,418.0L40.9,418.5L41.4,419.0L41.8,419.6L42.3,420.2L42.7,420.7L43.2,421.3L43.7,422.0L44.1,422.7L44.6,422.6L44.8,423.7L45.0,423.9L45.5,424.6L46.0,425.3L46.4,426.0L46.9,426.5L47.3,427.1L47.8,427.7L48.2,428.3L48.7,429.0L49.2,429.5L49.6,429.9L50.1,430.4L50.5,431.0L51.0,431.4L51.4,431.8L51.9,432.3L52.4,432.7L52.8,433.1L53.3,433.4L53.7,433.8L54.2,434.1L54.6,434.5L55.1,434.8L55.6,435.1L56.0,435.4L56.5,435.6L56.9,435.9L57.4,436.1L57.8,436.3L58.3,436.6L58.8,436.8L59.2,437.0L59.7,437.2L60.1,437.4L60.6,437.6L61.0,437.8L61.5,437.8L62.0,438.0L62.4,437.5L62.6,438.6L62.9,438.3L63.3,438.5L63.8,438.6L64.2,438.8L64.7,438.8L65.2,438.9L65.6,438.3L65.8,439.5L66.1,439.1L66.5,439.2L67.0,439.5L67.4,439.5L67.9,439.6L68.4,439.5L68.8,439.7L69.3,439.8L69.7,439.8L70.2,439.9L70.6,440.0L71.1,440.1L71.6,440.2L72.0,440.1L72.5,440.3L72.9,440.4L73.4,440.4L73.8,440.5L74.3,440.5L74.8,440.6L75.2,440.6L75.7,440.6L76.1,440.6L76.6,440.8L77.0,440.3L77.2,441.1L77.5,440.8L78.0,440.8L78.4,440.8L78.9,440.9L79.3,441.0L79.8,441.1L80.3,441.0L80.7,441.1L81.2,441.1L81.6,441.2L82.1,441.3L82.5,441.3L83.0,441.2L83.5,441.3L83.9,441.3L84.4,441.3L84.8,441.3L85.3,441.4L85.7,441.3L86.2,441.4L86.7,441.5L87.1,441.5L87.6,441.6L88.0,441.5L88.5,440.8L88.7,441.9L88.9,441.5L89.4,441.7L89.9,441.6L90.3,441.6L90.8,441.6L91.2,441.7L91.7,441.7L92.1,441.7L92.6,441.7L93.1,441.7L93.5,441.8L94.0,441.7L94.4,441.8L94.9,441.8L95.3,441.8L95.8,441.8" fill="none" stroke="#b81131" stroke-width="1.85" stroke-linejoin="round"/>
<line x1="27.2" y1="444.5" x2="27.2" y2="456" stroke="#1c3f72" stroke-width="1.3"/>
<path d="M27.2,446.5L27.7,446.6L28.1,446.5L28.6,446.5L29.0,446.5L29.5,446.5L29.9,446.5L30.4,446.5L30.9,446.5L31.3,446.6L31.8,446.6L32.2,446.5L32.7,446.6L33.1,446.6L33.6,446.5L34.1,446.5L34.5,446.5L35.0,446.4L35.4,446.5L35.9,446.5L36.3,446.5L36.8,446.4L37.3,446.5L37.7,446.5L38.2,446.5L38.6,446.4L39.1,446.5L39.5,446.5L40.0,446.5L40.5,446.5L40.9,446.4L41.4,445.9L41.6,446.9L41.8,446.5L42.3,446.5L42.7,446.6L43.2,446.5L43.7,446.6L44.1,446.5L44.6,446.6L45.0,446.6L45.5,445.9L45.7,447.1L46.0,446.6L46.4,446.6L46.9,446.7L47.3,446.7L47.8,446.7L48.2,446.7L48.7,446.7L49.2,446.7L49.6,446.8L50.1,446.8L50.5,446.8L51.0,446.8L51.4,446.8L51.9,446.9L52.4,446.8L52.8,447.0L53.3,446.9L53.7,446.9L54.2,446.9L54.6,446.9L55.1,447.0L55.6,447.0L56.0,447.0L56.5,447.1L56.9,447.0L57.4,447.1L57.8,447.1L58.3,447.0L58.8,447.0L59.2,447.1L59.7,447.1L60.1,447.0L60.6,447.2L61.0,447.1L61.5,447.1L62.0,447.1L62.4,447.1L62.9,447.2L63.3,447.2L63.8,447.3L64.2,447.2L64.7,447.3L65.2,447.3L65.6,447.3L66.1,447.1L66.5,447.3L67.0,447.3L67.4,447.2L67.9,447.3L68.4,447.4L68.8,447.3L69.3,447.3L69.7,447.3L70.2,447.4L70.6,447.3L71.1,447.4L71.6,447.3L72.0,447.3L72.5,447.4L72.9,447.4L73.4,447.3L73.8,447.5L74.3,447.4L74.8,447.5L75.2,447.4L75.7,447.4L76.1,447.5L76.6,447.5L77.0,447.4L77.5,446.6L77.7,448.0L78.0,447.5L78.4,447.4L78.9,447.5L79.3,447.5L79.8,447.5L80.3,447.6L80.7,447.5L81.2,447.6L81.6,447.5L82.1,447.5L82.5,447.5L83.0,447.6L83.5,447.5L83.9,447.6L84.4,447.6L84.8,447.5L85.3,447.6L85.7,447.5L86.2,447.5L86.7,447.7L87.1,447.6L87.6,447.6L88.0,447.6L88.5,447.7L88.9,447.7L89.4,447.7L89.9,447.6L90.3,447.7L90.8,447.6L91.2,447.6L91.7,447.7L92.1,447.7L92.6,446.9L92.8,448.1L93.1,447.7L93.5,447.7L94.0,447.6L94.4,447.7L94.9,447.7L95.3,447.7L95.8,447.7" fill="none" stroke="#1c3f72" stroke-width="1.85" stroke-linejoin="round"/>
<path d="M27.2,448.9L27.7,448.9L28.1,448.8L28.6,448.8L29.0,448.9L29.5,449.0L29.9,448.8L30.4,448.8L30.9,448.9L31.3,448.9L31.8,448.9L32.2,449.0L32.7,448.9L33.1,448.9L33.6,449.0L34.1,448.9L34.5,449.0L35.0,448.9L35.4,449.0L35.9,449.0L36.3,448.9L36.8,448.9L37.3,448.9L37.7,448.9L38.2,448.9L38.6,448.8L39.1,448.9L39.5,448.9L40.0,448.8L40.5,448.9L40.9,448.9L41.4,449.0L41.8,448.9L42.3,449.0L42.7,448.9L43.2,449.1L43.7,449.0L44.1,449.1L44.6,449.1L45.0,449.1L45.5,449.2L46.0,449.2L46.4,449.1L46.9,449.2L47.3,449.2L47.8,449.2L48.2,449.3L48.7,449.3L49.2,449.3L49.6,449.4L50.1,449.4L50.5,449.4L51.0,449.4L51.4,449.5L51.9,449.5L52.4,449.5L52.8,449.6L53.3,449.7L53.7,449.6L54.2,449.7L54.6,449.7L55.1,449.7L55.6,449.7L56.0,449.8L56.5,449.8L56.9,449.8L57.4,449.8L57.8,449.2L58.0,450.2L58.3,449.9L58.8,449.9L59.2,450.0L59.7,450.0L60.1,450.0L60.6,450.0L61.0,450.0L61.5,449.4L61.7,450.5L62.0,450.1L62.4,450.0L62.9,450.0L63.3,450.2L63.8,450.2L64.2,450.2L64.7,450.2L65.2,450.3L65.6,450.3L66.1,450.3L66.5,450.3L67.0,450.3L67.4,450.3L67.9,450.4L68.4,450.4L68.8,450.3L69.3,450.4L69.7,450.4L70.2,450.4L70.6,450.5L71.1,450.5L71.6,450.6L72.0,450.5L72.5,450.6L72.9,450.5L73.4,450.6L73.8,450.6L74.3,450.6L74.8,450.6L75.2,450.6L75.7,450.7L76.1,450.6L76.6,450.6L77.0,450.7L77.5,450.7L78.0,450.7L78.4,449.7L78.6,451.1L78.9,450.8L79.3,450.8L79.8,450.7L80.3,450.8L80.7,450.8L81.2,450.7L81.6,450.8L82.1,450.9L82.5,450.8L83.0,450.8L83.5,450.9L83.9,450.8L84.4,450.8L84.8,450.9L85.3,450.9L85.7,450.9L86.2,451.0L86.7,450.9L87.1,450.9L87.6,451.0L88.0,451.0L88.5,451.0L88.9,451.0L89.4,451.0L89.9,451.0L90.3,451.0L90.8,451.1L91.2,451.0L91.7,451.1L92.1,451.0L92.6,451.1L93.1,451.0L93.5,451.2L94.0,451.0L94.4,451.0L94.9,451.0L95.3,451.0L95.8,451.0" fill="none" stroke="#1c3f72" stroke-width="1.85" stroke-linejoin="round"/>
<path d="M27.2,451.5L27.7,451.5L28.1,451.5L28.6,451.5L29.0,451.5L29.5,451.5L29.9,451.6L30.4,451.5L30.9,451.5L31.3,451.5L31.8,451.5L32.2,451.6L32.7,451.4L33.1,451.5L33.6,451.6L34.1,451.5L34.5,451.6L35.0,451.8L35.4,451.9L35.9,452.0L36.3,452.2L36.8,452.4L37.3,452.5L37.7,452.8L38.2,452.9L38.6,453.2L39.1,453.4L39.5,453.6L40.0,453.9L40.5,454.0L40.9,454.3L41.4,454.5L41.8,454.7L42.3,455.0L42.7,455.1L43.2,454.5L43.4,455.8L43.7,455.5L44.1,455.6L44.6,456.0L45.0,456.0L45.5,456.3L46.0,456.5L46.4,456.6L46.9,456.6L47.3,456.8L47.8,457.0L48.2,457.1L48.7,457.2L49.2,457.3L49.6,457.5L50.1,457.6L50.5,457.7L51.0,457.8L51.4,458.0L51.9,458.0L52.4,458.2L52.8,458.2L53.3,458.2L53.7,458.3L54.2,458.4L54.6,458.3L55.1,458.5L55.6,458.7L56.0,458.6L56.5,458.6L56.9,458.8L57.4,458.7L57.8,458.9L58.3,458.5L58.5,459.2L58.8,459.0L59.2,459.0L59.7,459.0L60.1,459.1L60.6,459.1L61.0,459.2L61.5,459.2L62.0,459.3L62.4,459.4L62.9,459.3L63.3,459.4L63.8,459.3L64.2,459.4L64.7,459.5L65.2,459.5L65.6,459.6L66.1,459.6L66.5,459.5L67.0,459.7L67.4,459.7L67.9,459.6L68.4,459.7L68.8,459.8L69.3,459.7L69.7,459.8L70.2,459.8L70.6,459.7L71.1,459.4L71.3,459.9L71.6,459.8L72.0,459.9L72.5,459.8L72.9,459.9L73.4,459.9L73.8,459.9L74.3,459.9L74.8,459.9L75.2,459.9L75.7,460.0L76.1,459.9L76.6,459.9L77.0,460.0L77.5,460.0L78.0,460.0L78.4,460.1L78.9,459.9L79.3,460.0L79.8,460.1L80.3,460.1L80.7,460.0L81.2,460.1L81.6,460.1L82.1,460.1L82.5,460.1L83.0,460.1L83.5,460.1L83.9,460.2L84.4,460.1L84.8,460.1L85.3,460.1L85.7,460.1L86.2,460.1L86.7,460.2L87.1,460.2L87.6,460.1L88.0,460.2L88.5,460.2L88.9,460.2L89.4,460.2L89.9,460.3L90.3,460.2L90.8,460.2L91.2,460.3L91.7,460.2L92.1,460.2L92.6,460.3L93.1,460.3L93.5,460.2L94.0,460.2L94.4,460.3L94.9,460.4L95.3,460.3L95.8,460.3" fill="none" stroke="#1c3f72" stroke-width="1.85" stroke-linejoin="round"/>
<path d="M27.2,454.6L27.7,454.6L28.1,454.6L28.6,454.6L29.0,454.6L29.5,454.6L29.9,454.6L30.4,454.6L30.9,454.7L31.3,454.6L31.8,454.7L32.2,454.6L32.7,454.6L33.1,454.7L33.6,454.3L33.8,454.8L34.1,454.6L34.5,454.6L35.0,454.6L35.4,454.7L35.9,454.7L36.3,454.7L36.8,454.8L37.3,454.9L37.7,455.0L38.2,455.3L38.6,455.6L39.1,455.8L39.5,456.1L40.0,456.4L40.5,456.7L40.9,456.5L41.1,457.5L41.4,457.6L41.8,458.1L42.3,458.6L42.7,459.0L43.2,459.6L43.7,460.0L44.1,460.4L44.6,461.0L45.0,461.6L45.5,462.1L46.0,462.6L46.4,463.1L46.9,463.6L47.3,464.1L47.8,464.6L48.2,465.0L48.7,465.5L49.2,465.9L49.6,466.4L50.1,466.8L50.5,467.1L51.0,467.5L51.4,467.1L51.6,468.4L51.9,468.4L52.4,468.7L52.8,468.3L53.0,469.3L53.3,469.3L53.7,469.6L54.2,470.0L54.6,470.2L55.1,470.5L55.6,470.7L56.0,471.0L56.5,471.3L56.9,471.4L57.4,471.8L57.8,472.0L58.3,472.2L58.8,472.5L59.2,472.5L59.7,472.7L60.1,472.9L60.6,473.1L61.0,473.3L61.5,473.4L62.0,473.5L62.4,473.7L62.9,473.9L63.3,473.9L63.8,474.1L64.2,474.2L64.7,474.4L65.2,474.5L65.6,474.6L66.1,474.7L66.5,474.8L67.0,474.9L67.4,475.0L67.9,475.0L68.4,475.1L68.8,474.8L69.0,475.5L69.3,475.4L69.7,475.4L70.2,475.4L70.6,475.5L71.1,475.6L71.6,475.8L72.0,475.8L72.5,475.7L72.9,475.8L73.4,475.9L73.8,476.0L74.3,476.1L74.8,476.1L75.2,476.1L75.7,476.2L76.1,476.3L76.6,476.2L77.0,475.7L77.2,476.8L77.5,476.4L78.0,476.4L78.4,476.5L78.9,476.6L79.3,476.5L79.8,476.7L80.3,476.6L80.7,476.6L81.2,476.7L81.6,476.6L82.1,476.8L82.5,476.8L83.0,476.8L83.5,476.9L83.9,476.9L84.4,476.8L84.8,477.0L85.3,476.9L85.7,477.0L86.2,477.0L86.7,477.1L87.1,477.1L87.6,477.1L88.0,477.1L88.5,477.0L88.9,477.1L89.4,477.2L89.9,477.2L90.3,477.2L90.8,477.2L91.2,477.2L91.7,477.2L92.1,477.2L92.6,477.2L93.1,477.3L93.5,477.2L94.0,477.3L94.4,477.4L94.9,477.4L95.3,477.4L95.8,477.4" fill="none" stroke="#1c3f72" stroke-width="1.85" stroke-linejoin="round"/>
<path d="M27.2,458.5L27.2,462.3L27.7,462.3L28.1,462.4L28.6,462.4L29.0,462.3L29.5,462.3L29.9,462.4L30.4,462.3L30.9,462.3L31.3,462.4L31.8,462.3L32.2,462.3L32.7,462.3L33.1,462.2L33.6,462.3L34.1,461.9L34.3,462.5L34.5,462.4L35.0,462.5L35.4,462.5L35.9,462.7L36.3,462.8L36.8,463.0L37.3,463.1L37.7,463.6L38.2,463.7L38.6,464.0L39.1,464.4L39.5,464.7L40.0,465.2L40.5,465.7L40.9,465.1L41.1,466.5L41.4,466.4L41.8,466.8L42.3,467.3L42.7,467.7L43.2,467.4L43.4,468.7L43.7,468.7L44.1,469.2L44.6,469.6L45.0,470.1L45.5,470.5L46.0,471.0L46.4,471.6L46.9,471.9L47.3,472.3L47.8,472.8L48.2,473.2L48.7,473.6L49.2,474.1L49.6,474.4L50.1,474.8L50.5,475.1L51.0,475.4L51.4,475.8L51.9,476.1L52.4,476.4L52.8,476.8L53.3,477.1L53.7,477.4L54.2,477.7L54.6,477.9L55.1,478.1L55.6,478.3L56.0,478.7L56.5,478.5L56.7,479.2L56.9,479.2L57.4,479.4L57.8,479.5L58.3,479.8L58.8,479.9L59.2,480.1L59.7,480.3L60.1,480.4L60.6,480.7L61.0,480.9L61.5,480.9L62.0,481.1L62.4,481.4L62.9,481.4L63.3,481.5L63.8,481.7L64.2,481.9L64.7,481.9L65.2,482.0L65.6,482.2L66.1,482.4L66.5,482.5L67.0,482.5L67.4,482.7L67.9,482.7L68.4,482.4L68.6,482.9L68.8,482.9L69.3,482.1L69.5,483.3L69.7,483.0L70.2,483.1L70.6,483.2L71.1,483.3L71.6,483.4L72.0,483.4L72.5,483.5L72.9,483.5L73.4,483.6L73.8,483.8L74.3,483.7L74.8,483.8L75.2,483.8L75.7,483.8L76.1,484.0L76.6,484.1L77.0,484.1L77.5,484.2L78.0,484.2L78.4,484.4L78.9,484.3L79.3,484.2L79.8,484.4L80.3,484.4L80.7,484.4L81.2,484.5L81.6,484.6L82.1,484.6L82.5,484.7L83.0,484.7L83.5,484.7L83.9,484.8L84.4,484.8L84.8,484.8L85.3,484.9L85.7,484.9L86.2,484.8L86.7,484.9L87.1,484.9L87.6,485.0L88.0,485.0L88.5,485.1L88.9,485.1L89.4,485.2L89.9,485.2L90.3,485.0L90.8,485.2L91.2,485.2L91.7,485.2L92.1,485.2L92.6,485.3L93.1,485.3L93.5,485.3L94.0,485.3L94.4,485.3L94.9,485.3L95.3,485.4L95.8,485.5" fill="none" stroke="#3aa53a" stroke-width="1.85" stroke-linejoin="round"/>
<text x="98.50" y="409.70" font-size="8" text-anchor="start" fill="#231f20" font-weight="normal"  stroke="#231f20" stroke-width="0.3">2</text>
<text x="98.50" y="416.40" font-size="8" text-anchor="start" fill="#231f20" font-weight="normal"  stroke="#231f20" stroke-width="0.3">0.5</text>
<text x="98.50" y="432.90" font-size="8" text-anchor="start" fill="#231f20" font-weight="normal"  stroke="#231f20" stroke-width="0.3">0.2</text>
<text x="98.50" y="443.20" font-size="8" text-anchor="start" fill="#231f20" font-weight="normal"  stroke="#231f20" stroke-width="0.3">0.05</text>
<text x="98.50" y="449.20" font-size="8" text-anchor="start" fill="#231f20" font-weight="normal"  stroke="#231f20" stroke-width="0.3">2</text>
<text x="98.50" y="456.20" font-size="8" text-anchor="start" fill="#231f20" font-weight="normal"  stroke="#231f20" stroke-width="0.3">0.5</text>
<text x="98.50" y="462.90" font-size="8" text-anchor="start" fill="#231f20" font-weight="normal"  stroke="#231f20" stroke-width="0.3">0.2</text>
<text x="98.50" y="480.40" font-size="8" text-anchor="start" fill="#231f20" font-weight="normal"  stroke="#231f20" stroke-width="0.3">0.05</text>
<text x="98.50" y="489.60" font-size="8" text-anchor="start" fill="#231f20" font-weight="normal"  stroke="#231f20" stroke-width="0.3">Veh</text>
<path d="M20.30,471.10L20.30,493.50L36.80,493.50" fill="none" stroke="#222" stroke-width="1.1"/>
<text x="0" y="0" font-size="8.6" text-anchor="middle" fill="#231f20" transform="translate(14.60,482.30) rotate(-90)" textLength="26.4" lengthAdjust="spacingAndGlyphs" stroke="#231f20" stroke-width="0.3">50 % OD</text>
<text x="28.85" y="504.70" font-size="8.4" text-anchor="middle" fill="#231f20" textLength="16.2" lengthAdjust="spacingAndGlyphs" stroke="#231f20" stroke-width="0.3">1 min</text>
<text x="143.50" y="349.60" font-size="10.6" text-anchor="start" fill="#000" font-weight="bold" >F</text>
<text x="143.50" y="368.70" font-size="11.2" text-anchor="start" fill="#000" font-weight="bold" letter-spacing="0.3">i</text>
<text x="157.00" y="381.00" font-size="7.7" text-anchor="middle" fill="#262626" font-weight="normal"  stroke="#262626" stroke-width="0.3">CRP</text>
<text x="157.00" y="391.30" font-size="7.7" text-anchor="middle" fill="#262626" font-weight="normal"  stroke="#262626" stroke-width="0.3">3 μg/ml</text>
<path d="M154.20,395.50L159.80,395.50L157.00,400.90Z" fill="#111"/>
<text x="234.80" y="398.30" font-size="7.6" text-anchor="middle" fill="#231f20" font-weight="normal"  stroke="#231f20" stroke-width="0.3">[μM]</text>
<line x1="156.3" y1="403.5" x2="156.3" y2="418" stroke="#b81131" stroke-width="1.3"/>
<path d="M156.3,404.5L156.8,404.6L157.2,404.5L157.7,404.6L158.1,404.5L158.6,404.6L159.0,404.5L159.5,404.5L159.9,403.9L160.1,404.9L160.4,404.5L160.8,404.5L161.3,404.6L161.7,404.7L162.2,404.8L162.6,405.0L163.1,405.1L163.6,405.3L164.0,405.4L164.5,405.6L164.9,405.8L165.4,405.9L165.8,406.2L166.3,406.4L166.7,406.7L167.2,406.8L167.6,407.2L168.1,407.4L168.5,407.5L169.0,407.8L169.4,408.1L169.9,408.2L170.4,408.6L170.8,408.7L171.3,408.3L171.5,409.4L171.7,409.4L172.2,409.5L172.6,409.8L173.1,409.9L173.5,410.2L174.0,410.5L174.4,410.8L174.9,410.9L175.3,411.2L175.8,411.4L176.2,411.6L176.7,411.8L177.2,412.0L177.6,412.2L178.1,412.4L178.5,412.6L179.0,412.8L179.4,413.0L179.9,413.1L180.3,412.5L180.5,413.7L180.8,413.5L181.2,413.6L181.7,413.9L182.1,414.0L182.6,414.2L183.0,414.1L183.5,414.5L184.0,414.5L184.4,414.6L184.9,414.8L185.3,415.0L185.8,415.0L186.2,415.2L186.7,415.2L187.1,415.5L187.6,415.6L188.0,415.7L188.5,415.8L188.9,415.8L189.4,416.0L189.8,416.1L190.3,416.2L190.8,416.3L191.2,416.3L191.7,416.5L192.1,416.7L192.6,416.7L193.0,416.7L193.5,416.7L193.9,416.9L194.4,417.0L194.8,417.0L195.3,417.1L195.7,417.1L196.2,417.2L196.6,417.3L197.1,417.3L197.6,417.4L198.0,417.5L198.5,417.5L198.9,417.5L199.4,417.7L199.8,417.8L200.3,417.8L200.7,417.8L201.2,417.8L201.6,417.9L202.1,418.0L202.5,418.1L203.0,418.1L203.4,418.1L203.9,418.1L204.4,418.2L204.8,418.2L205.3,418.4L205.7,418.4L206.2,418.4L206.6,418.5L207.1,418.6L207.5,418.5L208.0,418.5L208.4,418.7L208.9,418.6L209.3,418.3L209.5,418.9L209.8,418.6L210.2,418.7L210.7,418.7L211.2,418.7L211.6,418.8L212.1,418.9L212.5,418.9L213.0,419.0L213.4,419.0L213.9,419.0L214.3,419.0L214.8,419.0L215.2,419.0L215.7,419.1L216.1,419.1L216.6,419.1L217.0,419.2L217.5,419.2L218.0,419.3L218.4,419.2L218.9,419.4L219.3,419.3L219.8,419.4L220.2,419.3L220.7,419.3L221.1,419.3L221.6,419.4L222.0,419.5L222.5,419.4L222.9,419.5L223.4,419.5L223.8,419.5L224.3,419.6" fill="none" stroke="#b81131" stroke-width="1.85" stroke-linejoin="round"/>
<path d="M156.3,407.2L156.8,407.2L157.2,407.2L157.7,407.1L158.1,407.2L158.6,407.2L159.0,407.2L159.5,407.2L159.9,407.3L160.4,407.2L160.8,407.2L161.3,407.3L161.7,407.3L162.2,407.4L162.6,407.6L163.1,407.8L163.6,408.0L164.0,408.2L164.5,408.5L164.9,408.8L165.4,409.1L165.8,409.3L166.3,409.8L166.7,410.0L167.2,410.6L167.6,410.8L168.1,410.3L168.3,411.7L168.5,411.7L169.0,412.2L169.4,412.5L169.9,413.0L170.4,413.4L170.8,413.8L171.3,414.2L171.7,414.7L172.2,415.1L172.6,415.5L173.1,415.8L173.5,416.3L174.0,416.6L174.4,417.1L174.9,417.5L175.3,417.8L175.8,418.1L176.2,418.5L176.7,418.9L177.2,419.2L177.6,419.6L178.1,419.9L178.5,420.2L179.0,420.5L179.4,420.8L179.9,421.0L180.3,421.4L180.8,421.6L181.2,421.8L181.7,422.2L182.1,422.5L182.6,422.6L183.0,422.7L183.5,422.9L184.0,423.3L184.4,423.5L184.9,423.6L185.3,423.8L185.8,424.0L186.2,424.2L186.7,424.3L187.1,424.5L187.6,424.7L188.0,425.0L188.5,425.1L188.9,425.3L189.4,425.4L189.8,425.6L190.3,425.2L190.5,425.8L190.8,425.8L191.2,425.9L191.7,426.0L192.1,426.2L192.6,425.9L192.8,426.5L193.0,426.3L193.5,426.4L193.9,426.6L194.4,426.8L194.8,426.9L195.3,427.0L195.7,427.1L196.2,427.1L196.6,427.2L197.1,427.3L197.6,427.2L198.0,427.5L198.5,427.6L198.9,427.6L199.4,427.8L199.8,427.9L200.3,427.9L200.7,427.9L201.2,428.1L201.6,428.1L202.1,428.1L202.5,428.2L203.0,428.3L203.4,428.3L203.9,428.5L204.4,428.4L204.8,428.5L205.3,428.5L205.7,428.6L206.2,428.7L206.6,428.8L207.1,428.7L207.5,428.8L208.0,428.9L208.4,428.2L208.6,429.2L208.9,429.0L209.3,428.9L209.8,429.0L210.2,429.1L210.7,429.0L211.2,429.1L211.6,429.2L212.1,429.2L212.5,429.2L213.0,429.3L213.4,429.4L213.9,429.4L214.3,429.3L214.8,429.5L215.2,429.5L215.7,429.5L216.1,429.6L216.6,429.5L217.0,429.7L217.5,429.7L218.0,429.7L218.4,429.7L218.9,429.7L219.3,429.0L219.5,430.0L219.8,429.8L220.2,429.8L220.7,429.8L221.1,429.9L221.6,429.8L222.0,429.8L222.5,430.0L222.9,430.0L223.4,430.0L223.8,429.9L224.3,430.0" fill="none" stroke="#b81131" stroke-width="1.85" stroke-linejoin="round"/>
<path d="M156.3,410.5L156.8,410.5L157.2,410.5L157.7,410.6L158.1,410.7L158.6,410.6L159.0,410.6L159.5,410.5L159.9,410.6L160.4,410.6L160.8,410.7L161.3,410.7L161.7,410.6L162.2,410.6L162.6,410.8L163.1,410.8L163.6,411.0L164.0,411.3L164.5,411.5L164.9,411.8L165.4,412.0L165.8,412.4L166.3,412.8L166.7,413.3L167.2,413.7L167.6,414.1L168.1,414.6L168.5,415.1L169.0,415.6L169.4,416.1L169.9,416.6L170.4,417.2L170.8,417.7L171.3,418.2L171.7,418.7L172.2,419.3L172.6,419.0L172.8,420.2L173.1,420.3L173.5,420.8L174.0,421.3L174.4,421.7L174.9,422.2L175.3,422.6L175.8,423.0L176.2,423.5L176.7,423.9L177.2,424.3L177.6,424.7L178.1,425.0L178.5,425.4L179.0,425.8L179.4,426.1L179.9,426.4L180.3,426.7L180.8,426.9L181.2,427.2L181.7,427.5L182.1,427.8L182.6,428.1L183.0,427.4L183.2,428.7L183.5,428.5L184.0,428.8L184.4,428.9L184.9,429.1L185.3,429.3L185.8,428.9L186.0,429.9L186.2,429.8L186.7,429.9L187.1,430.1L187.6,430.3L188.0,430.4L188.5,430.6L188.9,430.7L189.4,430.9L189.8,430.9L190.3,431.0L190.8,431.2L191.2,431.4L191.7,431.4L192.1,431.5L192.6,431.7L193.0,431.9L193.5,431.8L193.9,432.0L194.4,431.2L194.6,432.6L194.8,432.2L195.3,432.2L195.7,432.4L196.2,432.4L196.6,432.4L197.1,432.5L197.6,432.6L198.0,432.7L198.5,432.7L198.9,432.7L199.4,432.8L199.8,433.0L200.3,433.0L200.7,433.0L201.2,433.1L201.6,433.2L202.1,433.1L202.5,433.3L203.0,433.3L203.4,433.3L203.9,433.4L204.4,433.5L204.8,433.4L205.3,433.5L205.7,433.6L206.2,433.5L206.6,433.7L207.1,433.7L207.5,433.7L208.0,433.8L208.4,433.9L208.9,433.9L209.3,433.9L209.8,433.9L210.2,433.9L210.7,433.9L211.2,434.0L211.6,434.0L212.1,434.1L212.5,434.0L213.0,434.2L213.4,434.2L213.9,433.6L214.1,434.5L214.3,434.2L214.8,433.8L215.0,434.4L215.2,434.1L215.7,434.2L216.1,434.2L216.6,434.2L217.0,434.3L217.5,434.3L218.0,434.3L218.4,434.4L218.9,434.4L219.3,434.3L219.8,434.5L220.2,434.5L220.7,434.5L221.1,434.5L221.6,434.5L222.0,434.5L222.5,434.5L222.9,434.5L223.4,434.5L223.8,434.6L224.3,434.6" fill="none" stroke="#b81131" stroke-width="1.85" stroke-linejoin="round"/>
<path d="M156.3,416.8L156.8,416.8L157.2,416.7L157.7,416.8L158.1,416.8L158.6,416.8L159.0,416.7L159.5,416.8L159.9,416.7L160.4,416.9L160.8,416.9L161.3,416.7L161.7,416.9L162.2,416.9L162.6,416.7L163.1,416.2L163.3,417.1L163.6,416.7L164.0,416.8L164.5,416.9L164.9,416.9L165.4,417.2L165.8,417.4L166.3,417.5L166.7,417.9L167.2,418.1L167.6,417.9L167.8,418.9L168.1,419.0L168.5,419.5L169.0,420.0L169.4,420.5L169.9,421.2L170.4,421.7L170.8,422.3L171.3,422.9L171.7,423.6L172.2,424.3L172.6,424.8L173.1,425.4L173.5,426.0L174.0,426.7L174.4,427.4L174.9,428.0L175.3,428.6L175.8,429.1L176.2,429.7L176.7,430.2L177.2,430.7L177.6,431.2L178.1,431.7L178.5,432.1L179.0,432.7L179.4,433.0L179.9,433.5L180.3,433.8L180.8,434.2L181.2,434.6L181.7,434.9L182.1,435.2L182.6,435.6L183.0,435.3L183.2,436.1L183.5,436.1L184.0,436.4L184.4,436.7L184.9,437.0L185.3,436.1L185.5,437.5L185.8,437.3L186.2,437.5L186.7,437.8L187.1,437.9L187.6,438.0L188.0,438.3L188.5,438.3L188.9,438.6L189.4,438.7L189.8,438.9L190.3,439.1L190.8,439.2L191.2,439.4L191.7,439.5L192.1,439.5L192.6,439.7L193.0,439.8L193.5,439.9L193.9,440.1L194.4,440.1L194.8,440.1L195.3,440.3L195.7,440.3L196.2,440.5L196.6,439.9L196.8,441.0L197.1,440.6L197.6,440.6L198.0,440.9L198.5,440.8L198.9,440.9L199.4,440.9L199.8,441.1L200.3,441.1L200.7,441.2L201.2,441.2L201.6,441.3L202.1,441.4L202.5,441.3L203.0,441.4L203.4,441.5L203.9,441.6L204.4,441.5L204.8,441.6L205.3,441.6L205.7,441.6L206.2,441.8L206.6,441.8L207.1,441.8L207.5,441.8L208.0,441.8L208.4,441.9L208.9,442.0L209.3,441.9L209.8,442.0L210.2,442.0L210.7,442.0L211.2,442.1L211.6,442.0L212.1,442.1L212.5,442.2L213.0,442.2L213.4,442.1L213.9,442.2L214.3,442.3L214.8,442.3L215.2,442.3L215.7,442.3L216.1,442.3L216.6,442.4L217.0,442.4L217.5,442.4L218.0,442.5L218.4,442.5L218.9,442.3L219.3,442.5L219.8,442.5L220.2,442.5L220.7,442.5L221.1,442.6L221.6,442.5L222.0,442.3L222.5,442.6L222.9,442.0L223.1,442.8L223.4,442.6L223.8,442.6L224.3,442.6" fill="none" stroke="#b81131" stroke-width="1.85" stroke-linejoin="round"/>
<line x1="156.3" y1="440" x2="156.3" y2="450" stroke="#1c3f72" stroke-width="1.3"/>
<path d="M156.3,440.9L156.8,440.9L157.2,440.8L157.7,440.9L158.1,440.9L158.6,440.8L159.0,440.9L159.5,441.0L159.9,441.0L160.4,440.9L160.8,441.1L161.3,441.2L161.7,441.2L162.2,441.4L162.6,441.4L163.1,441.5L163.6,441.5L164.0,441.6L164.5,441.7L164.9,441.8L165.4,441.9L165.8,442.0L166.3,441.3L166.5,442.3L166.7,442.1L167.2,442.2L167.6,442.3L168.1,442.3L168.5,442.4L169.0,442.5L169.4,442.7L169.9,442.6L170.4,442.8L170.8,442.8L171.3,442.9L171.7,443.0L172.2,443.0L172.6,443.1L173.1,443.2L173.5,443.1L174.0,443.3L174.4,443.4L174.9,443.5L175.3,443.5L175.8,443.6L176.2,443.7L176.7,443.8L177.2,443.7L177.6,443.9L178.1,443.9L178.5,444.0L179.0,444.1L179.4,444.0L179.9,444.1L180.3,444.3L180.8,444.3L181.2,444.3L181.7,444.4L182.1,444.5L182.6,444.5L183.0,444.6L183.5,444.6L184.0,444.7L184.4,444.7L184.9,444.8L185.3,444.8L185.8,444.9L186.2,444.9L186.7,445.0L187.1,445.0L187.6,445.2L188.0,445.1L188.5,445.1L188.9,445.2L189.4,445.3L189.8,445.0L190.0,445.5L190.3,445.3L190.8,445.4L191.2,445.4L191.7,445.5L192.1,445.5L192.6,445.5L193.0,445.7L193.5,445.7L193.9,445.7L194.4,445.7L194.8,445.8L195.3,445.9L195.7,445.8L196.2,445.8L196.6,445.9L197.1,446.0L197.6,446.0L198.0,446.0L198.5,446.1L198.9,446.2L199.4,446.1L199.8,446.2L200.3,446.2L200.7,446.2L201.2,446.3L201.6,446.3L202.1,446.4L202.5,446.4L203.0,446.5L203.4,446.5L203.9,446.5L204.4,446.5L204.8,445.6L205.0,447.0L205.3,446.6L205.7,446.6L206.2,446.7L206.6,446.7L207.1,446.7L207.5,446.7L208.0,446.7L208.4,446.8L208.9,446.8L209.3,446.9L209.8,446.9L210.2,446.9L210.7,447.0L211.2,447.0L211.6,447.0L212.1,447.0L212.5,447.0L213.0,447.0L213.4,447.0L213.9,447.0L214.3,447.1L214.8,447.2L215.2,447.1L215.7,447.3L216.1,447.3L216.6,447.2L217.0,447.2L217.5,447.3L218.0,447.3L218.4,447.3L218.9,447.4L219.3,447.4L219.8,447.4L220.2,447.4L220.7,447.3L221.1,447.5L221.6,446.8L221.8,447.8L222.0,447.5L222.5,447.6L222.9,447.6L223.4,447.5L223.8,447.6L224.3,447.4" fill="none" stroke="#1c3f72" stroke-width="1.85" stroke-linejoin="round"/>
<path d="M156.3,443.3L156.8,443.2L157.2,443.1L157.7,443.2L158.1,443.2L158.6,443.1L159.0,443.3L159.5,443.4L159.9,443.4L160.4,443.5L160.8,443.5L161.3,443.6L161.7,443.8L162.2,443.9L162.6,444.0L163.1,444.1L163.6,444.1L164.0,443.6L164.2,444.5L164.5,444.3L164.9,444.4L165.4,444.5L165.8,444.6L166.3,444.6L166.7,444.7L167.2,444.8L167.6,445.0L168.1,445.1L168.5,445.2L169.0,445.2L169.4,445.3L169.9,445.4L170.4,445.4L170.8,445.6L171.3,445.7L171.7,445.7L172.2,445.8L172.6,445.9L173.1,445.9L173.5,446.1L174.0,446.2L174.4,445.8L174.6,446.6L174.9,446.3L175.3,446.4L175.8,446.4L176.2,446.5L176.7,446.7L177.2,446.7L177.6,446.8L178.1,446.8L178.5,446.9L179.0,447.0L179.4,447.1L179.9,447.2L180.3,447.2L180.8,447.3L181.2,447.4L181.7,447.4L182.1,447.5L182.6,447.6L183.0,447.6L183.5,447.1L183.7,448.1L184.0,447.7L184.4,447.8L184.9,447.9L185.3,448.0L185.8,448.0L186.2,448.0L186.7,448.1L187.1,448.2L187.6,448.2L188.0,448.3L188.5,448.4L188.9,448.4L189.4,448.4L189.8,448.5L190.3,448.6L190.8,448.6L191.2,448.6L191.7,448.7L192.1,448.8L192.6,448.8L193.0,448.8L193.5,448.9L193.9,448.9L194.4,449.1L194.8,449.1L195.3,449.1L195.7,449.2L196.2,449.2L196.6,449.3L197.1,449.3L197.6,449.3L198.0,449.3L198.5,449.4L198.9,449.4L199.4,449.5L199.8,449.6L200.3,449.7L200.7,449.7L201.2,449.6L201.6,449.7L202.1,449.8L202.5,449.8L203.0,449.8L203.4,449.9L203.9,450.0L204.4,449.8L204.8,449.9L205.3,449.9L205.7,450.1L206.2,449.7L206.4,450.3L206.6,450.1L207.1,450.1L207.5,450.3L208.0,450.3L208.4,450.3L208.9,450.2L209.3,450.2L209.8,450.3L210.2,450.4L210.7,450.5L211.2,450.4L211.6,450.4L212.1,450.6L212.5,450.6L213.0,450.6L213.4,450.5L213.9,450.6L214.3,450.6L214.8,450.7L215.2,450.7L215.7,450.7L216.1,450.7L216.6,450.8L217.0,450.8L217.5,450.8L218.0,450.9L218.4,450.8L218.9,451.0L219.3,451.0L219.8,450.9L220.2,451.0L220.7,451.0L221.1,451.1L221.6,451.0L222.0,451.1L222.5,451.2L222.9,451.1L223.4,451.2L223.8,451.2L224.3,451.2" fill="none" stroke="#1c3f72" stroke-width="1.85" stroke-linejoin="round"/>
<path d="M156.3,446.4L156.8,446.3L157.2,446.4L157.7,446.3L158.1,446.3L158.6,446.3L159.0,446.4L159.5,446.3L159.9,446.3L160.4,446.3L160.8,446.3L161.3,446.3L161.7,446.4L162.2,446.5L162.6,446.8L163.1,446.8L163.6,447.0L164.0,447.1L164.5,447.2L164.9,447.5L165.4,447.7L165.8,447.9L166.3,448.2L166.7,448.5L167.2,448.7L167.6,449.0L168.1,449.1L168.5,449.5L169.0,449.6L169.4,449.9L169.9,450.2L170.4,450.5L170.8,450.9L171.3,451.0L171.7,451.3L172.2,451.6L172.6,451.8L173.1,451.7L173.3,452.4L173.5,452.3L174.0,452.7L174.4,453.0L174.9,453.2L175.3,453.5L175.8,453.7L176.2,453.9L176.7,454.2L177.2,454.4L177.6,454.8L178.1,454.9L178.5,455.2L179.0,455.3L179.4,455.6L179.9,455.8L180.3,456.0L180.8,456.3L181.2,456.5L181.7,456.6L182.1,456.8L182.6,457.0L183.0,457.2L183.5,457.4L184.0,457.6L184.4,457.7L184.9,457.7L185.3,458.1L185.8,458.2L186.2,458.3L186.7,458.4L187.1,458.7L187.6,458.9L188.0,459.0L188.5,459.1L188.9,459.2L189.4,459.3L189.8,459.4L190.3,459.5L190.8,459.8L191.2,459.8L191.7,459.9L192.1,460.1L192.6,460.1L193.0,459.4L193.2,460.7L193.5,460.3L193.9,460.5L194.4,460.5L194.8,460.7L195.3,460.8L195.7,460.9L196.2,461.0L196.6,461.0L197.1,461.2L197.6,461.3L198.0,461.3L198.5,461.2L198.9,461.4L199.4,461.5L199.8,461.5L200.3,461.6L200.7,461.7L201.2,461.9L201.6,461.8L202.1,462.0L202.5,461.9L203.0,462.1L203.4,462.1L203.9,462.2L204.4,462.2L204.8,462.3L205.3,462.3L205.7,462.4L206.2,462.6L206.6,462.5L207.1,462.5L207.5,462.6L208.0,462.7L208.4,462.7L208.9,462.8L209.3,462.8L209.8,462.8L210.2,462.4L210.4,463.2L210.7,462.9L211.2,462.9L211.6,463.0L212.1,463.0L212.5,463.1L213.0,463.1L213.4,463.2L213.9,463.2L214.3,463.3L214.8,463.2L215.2,463.4L215.7,463.3L216.1,463.4L216.6,463.4L217.0,463.4L217.5,463.5L218.0,463.5L218.4,463.5L218.9,463.5L219.3,463.5L219.8,463.7L220.2,463.6L220.7,463.7L221.1,462.8L221.3,464.2L221.6,463.7L222.0,463.8L222.5,462.9L222.7,464.3L222.9,463.8L223.4,463.9L223.8,463.9L224.3,463.9" fill="none" stroke="#1c3f72" stroke-width="1.85" stroke-linejoin="round"/>
<path d="M156.3,446.5L156.8,446.5L157.2,446.4L157.7,446.4L158.1,446.6L158.6,446.5L159.0,446.5L159.5,445.2L159.7,447.2L159.9,446.6L160.4,446.4L160.8,446.5L161.3,446.5L161.7,446.6L162.2,446.7L162.6,446.8L163.1,447.0L163.6,447.3L164.0,447.6L164.5,447.8L164.9,448.3L165.4,448.7L165.8,449.2L166.3,449.6L166.7,450.2L167.2,450.8L167.6,451.3L168.1,450.1L168.3,452.8L168.5,452.5L169.0,452.4L169.2,453.7L169.4,453.8L169.9,454.6L170.4,455.3L170.8,456.0L171.3,456.6L171.7,457.2L172.2,457.9L172.6,458.5L173.1,459.2L173.5,459.6L174.0,460.3L174.4,460.8L174.9,461.4L175.3,461.9L175.8,462.4L176.2,461.9L176.4,463.4L176.7,463.4L177.2,463.9L177.6,463.4L177.8,464.9L178.1,464.7L178.5,465.1L179.0,465.4L179.4,465.8L179.9,466.2L180.3,466.5L180.8,466.8L181.2,467.2L181.7,467.3L182.1,467.7L182.6,468.1L183.0,468.3L183.5,468.5L184.0,468.7L184.4,468.9L184.9,469.1L185.3,469.4L185.8,469.5L186.2,469.8L186.7,469.9L187.1,470.0L187.6,470.2L188.0,470.3L188.5,470.5L188.9,470.6L189.4,470.8L189.8,470.9L190.3,471.0L190.8,471.3L191.2,471.3L191.7,471.5L192.1,471.5L192.6,471.6L193.0,471.7L193.5,471.8L193.9,472.0L194.4,471.9L194.8,472.1L195.3,471.2L195.5,472.6L195.7,472.1L196.2,472.3L196.6,472.5L197.1,472.3L197.6,471.6L197.8,472.8L198.0,472.6L198.5,472.6L198.9,472.7L199.4,472.7L199.8,472.7L200.3,471.0L200.5,473.8L200.7,472.8L201.2,472.9L201.6,473.0L202.1,473.0L202.5,473.0L203.0,473.1L203.4,473.1L203.9,473.1L204.4,473.3L204.8,473.2L205.3,473.3L205.7,472.1L205.9,474.0L206.2,473.4L206.6,473.3L207.1,473.5L207.5,473.5L208.0,473.5L208.4,473.5L208.9,473.6L209.3,473.7L209.8,473.6L210.2,473.6L210.7,473.7L211.2,473.7L211.6,473.7L212.1,473.8L212.5,473.8L213.0,473.7L213.4,473.9L213.9,473.9L214.3,473.8L214.8,473.9L215.2,473.9L215.7,473.9L216.1,473.9L216.6,474.0L217.0,474.0L217.5,474.0L218.0,474.0L218.4,474.0L218.9,473.9L219.3,474.1L219.8,474.1L220.2,474.1L220.7,474.1L221.1,474.2L221.6,474.2L222.0,474.2L222.5,474.1L222.9,474.3L223.4,474.1L223.8,474.1L224.3,474.2" fill="none" stroke="#1c3f72" stroke-width="1.85" stroke-linejoin="round"/>
<path d="M156.3,453.0L156.3,455.0L156.8,455.1L157.2,455.0L157.7,455.0L158.1,455.0L158.6,454.9L159.0,455.0L159.5,455.0L159.9,455.0L160.4,454.4L160.6,455.2L160.8,455.0L161.3,454.9L161.7,455.0L162.2,454.9L162.6,455.0L163.1,455.1L163.6,455.2L164.0,455.2L164.5,455.4L164.9,455.7L165.4,456.1L165.8,456.6L166.3,457.3L166.7,458.0L167.2,458.7L167.6,459.4L168.1,460.4L168.5,461.2L169.0,462.2L169.4,463.1L169.9,464.0L170.4,464.8L170.8,465.7L171.3,466.1L171.5,466.8L171.7,467.4L172.2,468.1L172.6,468.8L173.1,469.5L173.5,470.1L174.0,470.8L174.4,471.2L174.9,471.9L175.3,472.4L175.8,472.9L176.2,473.3L176.7,473.6L177.2,474.2L177.6,474.5L178.1,474.7L178.5,475.1L179.0,475.3L179.4,475.7L179.9,475.9L180.3,476.1L180.8,476.4L181.2,476.6L181.7,476.8L182.1,477.0L182.6,477.1L183.0,476.4L183.2,477.8L183.5,477.4L184.0,477.6L184.4,477.3L184.6,477.8L184.9,477.9L185.3,478.0L185.8,478.0L186.2,478.3L186.7,478.3L187.1,478.4L187.6,478.5L188.0,478.6L188.5,478.7L188.9,478.7L189.4,478.8L189.8,478.9L190.3,478.9L190.8,479.0L191.2,479.1L191.7,478.2L191.9,479.6L192.1,479.1L192.6,479.2L193.0,479.3L193.5,479.3L193.9,479.3L194.4,479.5L194.8,479.5L195.3,479.5L195.7,479.4L196.2,479.6L196.6,479.7L197.1,479.6L197.6,479.7L198.0,479.7L198.5,479.6L198.9,478.8L199.1,480.2L199.4,479.8L199.8,479.8L200.3,479.8L200.7,479.9L201.2,479.9L201.6,479.9L202.1,479.9L202.5,479.9L203.0,479.9L203.4,480.0L203.9,480.0L204.4,479.9L204.8,480.0L205.3,480.0L205.7,480.0L206.2,480.1L206.6,480.1L207.1,480.1L207.5,480.2L208.0,480.1L208.4,480.2L208.9,480.2L209.3,480.2L209.8,480.2L210.2,480.2L210.7,480.1L211.2,480.2L211.6,480.2L212.1,480.3L212.5,480.2L213.0,480.3L213.4,480.2L213.9,480.2L214.3,480.2L214.8,480.3L215.2,479.8L215.4,480.5L215.7,480.2L216.1,480.4L216.6,480.3L217.0,480.3L217.5,480.3L218.0,480.2L218.4,480.4L218.9,480.4L219.3,480.4L219.8,480.4L220.2,480.3L220.7,480.5L221.1,480.3L221.6,480.4L222.0,480.3L222.5,480.3L222.9,480.4L223.4,480.4L223.8,480.4L224.3,480.4" fill="none" stroke="#3aa53a" stroke-width="1.85" stroke-linejoin="round"/>
<text x="227.50" y="420.90" font-size="8" text-anchor="start" fill="#231f20" font-weight="normal"  stroke="#231f20" stroke-width="0.3">2</text>
<text x="227.50" y="431.70" font-size="8" text-anchor="start" fill="#231f20" font-weight="normal"  stroke="#231f20" stroke-width="0.3">0.5</text>
<text x="227.50" y="437.40" font-size="8" text-anchor="start" fill="#231f20" font-weight="normal"  stroke="#231f20" stroke-width="0.3">0.2</text>
<text x="227.50" y="444.70" font-size="8" text-anchor="start" fill="#231f20" font-weight="normal"  stroke="#231f20" stroke-width="0.3">0.05</text>
<text x="227.50" y="449.70" font-size="8" text-anchor="start" fill="#231f20" font-weight="normal"  stroke="#231f20" stroke-width="0.3">2</text>
<text x="227.50" y="455.40" font-size="8" text-anchor="start" fill="#231f20" font-weight="normal"  stroke="#231f20" stroke-width="0.3">0.5</text>
<text x="227.50" y="467.20" font-size="8" text-anchor="start" fill="#231f20" font-weight="normal"  stroke="#231f20" stroke-width="0.3">0.2</text>
<text x="227.50" y="477.40" font-size="8" text-anchor="start" fill="#231f20" font-weight="normal"  stroke="#231f20" stroke-width="0.3">0.05</text>
<text x="227.50" y="485.90" font-size="8" text-anchor="start" fill="#231f20" font-weight="normal"  stroke="#231f20" stroke-width="0.3">Veh</text>
<text x="269.30" y="349.60" font-size="10.6" text-anchor="start" fill="#000" font-weight="bold" >G</text>
<text x="269.30" y="368.70" font-size="11.2" text-anchor="start" fill="#000" font-weight="bold" letter-spacing="0.3">i</text>
<text x="286.00" y="381.00" font-size="7.7" text-anchor="middle" fill="#262626" font-weight="normal"  stroke="#262626" stroke-width="0.3">Thrombin</text>
<text x="286.00" y="391.30" font-size="7.7" text-anchor="middle" fill="#262626" font-weight="normal"  stroke="#262626" stroke-width="0.3">0.04 U/ml</text>
<path d="M283.20,395.50L288.80,395.50L286.00,400.90Z" fill="#111"/>
<text x="365.70" y="441.80" font-size="7.6" text-anchor="middle" fill="#231f20" font-weight="normal"  stroke="#231f20" stroke-width="0.3">[μM]</text>
<path d="M285.8,404.8L286.3,404.7L286.7,405.3L287.2,404.9L287.6,405.0L288.1,405.4L288.5,404.9L289.0,405.1L289.5,405.6L289.9,405.6L290.4,407.0L290.8,407.3L291.3,406.8L291.7,407.6L292.2,408.2L292.7,409.2L293.1,410.0L293.6,410.7L294.0,410.7L294.5,412.4L294.9,413.3L295.4,414.6L295.8,415.1L296.3,416.1L296.8,416.5L297.0,417.5L297.2,418.1L297.7,418.6L298.1,419.8L298.6,421.0L299.0,422.3L299.5,422.9L300.0,423.2L300.4,424.6L300.9,425.8L301.3,426.1L301.8,427.9L302.2,428.2L302.7,429.1L302.9,430.1L303.2,429.8L303.6,430.8L304.1,431.7L304.5,432.4L305.0,432.7L305.4,433.6L305.9,434.2L306.4,435.1L306.8,435.0L307.0,435.9L307.3,436.4L307.7,436.8L308.2,437.0L308.6,437.5L309.1,438.5L309.5,439.2L310.0,439.9L310.5,440.0L310.9,439.9L311.4,439.8L311.6,441.3L311.8,441.2L312.3,440.9L312.7,441.6L313.2,442.2L313.7,443.1L314.1,441.9L314.3,442.9L314.6,443.2L315.0,443.9L315.5,443.8L315.9,444.1L316.4,444.7L316.9,444.4L317.3,445.4L317.8,445.0L318.0,445.8L318.2,445.7L318.7,445.6L319.1,446.4L319.6,446.1L320.1,446.0L320.5,446.7L321.0,447.2L321.4,447.1L321.9,446.9L322.3,447.1L322.8,447.4L323.2,447.8L323.7,447.5L324.2,447.5L324.6,448.0L325.1,448.1L325.5,448.0L326.0,448.5L326.4,448.5L326.9,448.6L327.4,448.9L327.8,449.2L328.3,448.8L328.7,449.1L329.2,449.1L329.6,449.1L330.1,449.9L330.6,449.6L331.0,449.5L331.5,449.8L331.9,449.7L332.4,449.8L332.8,448.3L333.0,449.8L333.3,450.4L333.8,450.1L334.2,450.2L334.7,449.3L334.9,450.7L335.1,450.3L335.6,449.9L336.0,450.4L336.5,450.9L336.9,450.2L337.4,450.6L337.9,450.1L338.1,451.2L338.3,450.9L338.8,451.1L339.2,450.6L339.7,451.4L340.1,451.9L340.6,451.3L341.1,450.8L341.5,451.1L342.0,450.9L342.4,451.2L342.9,451.9L343.3,450.8L343.8,452.0L344.3,451.5L344.7,451.7L345.2,451.5L345.6,451.4L346.1,451.9L346.5,451.6L347.0,451.5L347.2,452.0L347.4,451.7L347.9,451.5L348.4,451.4L348.8,451.8L349.3,452.1L349.7,452.2L350.2,451.8L350.6,451.5L351.1,452.4L351.6,452.0L352.0,451.6L352.5,451.8L352.9,452.4L353.4,452.4L353.8,452.3L354.3,452.3" fill="none" stroke="#b81131" stroke-width="1.85" stroke-linejoin="round"/>
<path d="M285.8,415.8L286.3,415.7L286.7,415.7L287.2,415.9L287.6,416.7L288.1,415.0L288.5,415.6L289.0,414.9L289.5,416.0L289.9,416.1L290.4,416.7L290.8,416.6L291.3,415.9L291.5,418.7L291.7,419.6L292.2,419.9L292.7,421.9L293.1,420.5L293.3,422.6L293.6,424.7L294.0,424.4L294.5,426.2L294.9,427.9L295.4,427.6L295.8,429.4L296.3,430.5L296.8,431.6L297.0,433.6L297.2,432.9L297.7,434.7L298.1,435.0L298.6,436.9L299.0,437.6L299.5,438.4L300.0,439.6L300.4,440.3L300.9,442.0L301.3,444.5L301.8,443.2L302.2,443.3L302.7,443.9L303.2,445.4L303.6,445.3L304.1,447.2L304.5,448.2L305.0,448.9L305.4,448.4L305.9,448.0L306.4,448.5L306.6,449.8L306.8,449.4L307.3,451.1L307.7,449.2L307.9,451.5L308.2,449.9L308.6,450.1L308.8,451.7L309.1,451.8L309.5,452.0L310.0,452.2L310.5,452.7L310.9,452.3L311.4,453.1L311.8,454.3L312.3,453.9L312.7,453.0L313.2,454.5L313.7,454.0L314.1,455.8L314.6,453.8L314.8,455.8L315.0,454.8L315.5,455.2L315.9,455.1L316.4,455.3L316.9,455.0L317.3,455.2L317.8,456.2L318.2,455.8L318.4,458.4L318.7,457.0L319.1,456.6L319.6,456.5L320.1,457.0L320.5,457.3L321.0,457.1L321.4,457.6L321.9,457.0L322.3,457.7L322.8,457.9L323.2,458.8L323.7,457.3L324.2,458.2L324.6,458.2L325.1,458.5L325.5,458.8L326.0,459.4L326.4,459.3L326.9,458.6L327.4,458.7L327.8,459.6L328.3,459.2L328.7,459.5L329.2,459.2L329.6,456.9L329.8,458.2L330.1,459.1L330.6,459.7L331.0,460.9L331.5,458.3L331.9,460.3L332.4,458.7L332.8,459.7L333.3,459.9L333.8,458.8L333.9,461.4L334.2,457.7L334.4,458.8L334.7,458.3L334.9,461.1L335.1,460.5L335.6,459.5L336.0,460.9L336.5,459.9L336.9,460.8L337.4,459.9L337.9,459.4L338.3,460.2L338.8,460.8L339.0,462.8L339.2,460.5L339.7,460.9L340.1,460.1L340.6,461.0L341.1,459.6L341.5,460.7L342.0,459.2L342.2,461.8L342.4,460.2L342.9,461.0L343.3,460.7L343.8,460.5L344.3,461.5L344.7,460.9L345.2,461.3L345.6,461.9L346.1,460.3L346.5,459.6L346.7,461.7L347.0,462.1L347.4,460.5L347.9,459.8L348.4,461.3L348.8,460.5L349.3,461.7L349.7,460.5L350.2,460.5L350.6,459.9L350.8,462.8L351.1,460.1L351.6,461.2L352.0,461.5L352.5,461.0L352.7,462.2L352.9,460.8L353.4,461.3L353.8,461.1L354.3,461.7" fill="none" stroke="#1c3f72" stroke-width="1.85" stroke-linejoin="round"/>
<path d="M285.8,424.0L285.8,426.4L286.3,426.0L286.7,426.7L287.2,426.3L287.6,426.4L288.1,425.5L288.5,427.0L289.0,425.7L289.5,427.0L289.9,426.6L290.4,426.9L290.8,428.9L291.3,429.4L291.7,430.1L292.2,431.2L292.7,432.8L293.1,433.6L293.6,434.2L294.0,435.0L294.2,435.6L294.5,437.8L294.9,439.1L295.4,440.3L295.8,440.7L296.0,441.7L296.3,442.1L296.8,444.2L297.2,444.1L297.4,445.5L297.7,446.4L298.1,447.4L298.6,448.9L299.0,450.1L299.5,450.9L300.0,451.3L300.4,452.4L300.9,454.1L301.3,454.6L301.8,455.7L302.2,456.9L302.7,456.8L303.2,457.2L303.6,459.2L304.1,458.9L304.5,459.5L305.0,461.1L305.4,459.7L305.9,461.5L306.4,461.7L306.6,463.1L306.8,462.5L307.3,462.5L307.7,464.3L308.2,464.4L308.6,464.5L309.1,464.6L309.5,463.9L309.7,465.1L310.0,466.0L310.5,466.0L310.9,465.9L311.4,466.8L311.8,466.2L312.0,467.1L312.3,466.2L312.5,467.3L312.7,467.6L313.2,467.8L313.7,468.8L314.1,469.0L314.6,468.0L314.8,469.0L315.0,469.2L315.5,469.7L315.9,470.4L316.4,469.9L316.9,469.2L317.3,470.6L317.8,470.5L318.2,469.9L318.4,470.5L318.7,470.3L319.1,471.3L319.6,470.5L320.1,470.9L320.5,471.6L321.0,472.0L321.4,471.3L321.9,471.7L322.3,472.6L322.8,472.8L323.2,472.3L323.7,473.1L324.2,472.3L324.6,473.2L325.1,472.6L325.5,473.1L326.0,472.9L326.4,473.5L326.9,472.6L327.4,473.7L327.8,473.4L328.3,473.3L328.7,474.2L329.2,473.8L329.6,472.6L330.1,473.6L330.6,473.5L330.8,474.7L331.0,474.2L331.2,475.0L331.5,473.9L331.9,474.6L332.4,474.2L332.8,474.3L333.3,475.2L333.8,474.9L334.2,474.9L334.7,474.9L335.1,474.3L335.6,473.7L336.0,474.6L336.5,475.4L336.9,475.6L337.4,475.9L337.9,475.5L338.3,474.9L338.8,475.3L339.2,475.2L339.7,475.1L340.1,475.7L340.6,475.5L341.1,475.4L341.5,476.0L342.0,474.8L342.4,475.6L342.9,475.2L343.1,476.4L343.3,475.7L343.8,475.8L344.3,475.4L344.7,476.1L345.2,476.3L345.6,476.3L346.1,476.0L346.5,476.5L347.0,476.5L347.4,476.4L347.9,476.1L348.4,476.2L348.8,476.1L349.3,476.7L349.7,475.7L350.2,475.3L350.6,476.0L351.1,475.6L351.3,476.9L351.6,475.8L352.0,476.2L352.5,476.6L352.9,476.4L353.4,476.4L353.8,476.1L354.3,476.9" fill="none" stroke="#3aa53a" stroke-width="1.85" stroke-linejoin="round"/>
<text x="357.00" y="454.90" font-size="8" text-anchor="start" fill="#231f20" font-weight="normal"  stroke="#231f20" stroke-width="0.3">2</text>
<text x="357.00" y="463.40" font-size="8" text-anchor="start" fill="#231f20" font-weight="normal"  stroke="#231f20" stroke-width="0.3">2</text>
<text x="357.00" y="477.90" font-size="8" text-anchor="start" fill="#231f20" font-weight="normal"  stroke="#231f20" stroke-width="0.3">Veh</text>
<text x="398.50" y="368.70" font-size="11.2" text-anchor="start" fill="#000" font-weight="bold" letter-spacing="0.3">ii</text>
<text x="412.50" y="381.00" font-size="7.7" text-anchor="middle" fill="#262626" font-weight="normal"  stroke="#262626" stroke-width="0.3">U46619</text>
<text x="412.50" y="391.30" font-size="7.7" text-anchor="middle" fill="#262626" font-weight="normal"  stroke="#262626" stroke-width="0.3">3 μM</text>
<path d="M409.70,395.50L415.30,395.50L412.50,400.90Z" fill="#111"/>
<text x="491.30" y="439.30" font-size="7.6" text-anchor="middle" fill="#231f20" font-weight="normal"  stroke="#231f20" stroke-width="0.3">[μM]</text>
<path d="M411.5,406.3L412.0,406.1L412.4,404.9L412.9,406.0L413.3,405.8L413.8,405.9L414.3,406.2L414.7,405.9L415.2,406.8L415.6,407.3L416.1,408.0L416.6,407.9L416.8,408.6L417.0,409.2L417.5,410.0L417.9,411.4L418.4,411.8L418.8,413.2L419.3,414.4L419.8,415.4L420.2,416.6L420.7,417.3L421.1,418.3L421.6,419.7L422.1,421.0L422.5,421.6L423.0,423.0L423.4,423.3L423.9,424.0L424.4,425.6L424.8,426.4L425.3,427.2L425.7,428.4L426.2,428.5L426.7,429.7L427.1,430.9L427.6,430.9L427.8,432.1L428.0,432.3L428.5,432.4L429.0,433.2L429.4,433.3L429.6,434.1L429.9,434.4L430.3,435.1L430.8,434.4L431.0,435.6L431.3,435.8L431.7,436.6L432.2,437.2L432.6,437.1L433.1,437.7L433.5,438.2L434.0,438.7L434.5,439.4L434.9,439.2L435.4,439.4L435.8,439.8L436.0,441.1L436.3,440.5L436.8,441.1L437.2,441.9L437.7,441.6L438.1,441.6L438.6,442.0L439.1,441.6L439.5,442.0L440.0,442.7L440.4,442.8L440.9,442.9L441.4,443.6L441.8,443.4L442.3,443.5L442.7,442.8L442.9,444.3L443.2,443.9L443.4,444.5L443.7,444.0L444.1,443.9L444.6,443.7L445.0,444.6L445.5,445.0L445.9,445.1L446.4,444.6L446.9,444.8L447.3,445.8L447.8,445.5L448.2,445.5L448.7,445.3L449.2,445.4L449.6,445.9L450.1,446.1L450.5,445.6L451.0,445.7L451.5,446.6L451.9,446.0L452.4,446.7L452.8,446.7L453.3,446.2L453.8,447.0L454.2,446.6L454.7,446.5L455.1,447.2L455.6,446.8L456.1,447.0L456.5,447.0L457.0,446.2L457.2,447.4L457.4,446.7L457.9,447.2L458.4,447.2L458.8,447.8L459.3,447.6L459.7,447.4L460.2,447.7L460.6,448.1L461.1,447.3L461.6,448.1L462.0,447.9L462.5,447.6L462.9,447.5L463.4,447.8L463.9,447.5L464.3,448.2L464.8,448.7L465.2,448.1L465.7,448.0L466.2,448.6L466.6,448.0L467.1,448.8L467.5,447.7L468.0,448.7L468.5,448.4L468.9,448.7L469.4,448.3L469.8,448.5L470.3,447.9L470.8,447.3L471.0,448.7L471.2,448.4L471.7,449.3L472.1,448.6L472.6,448.8L473.1,448.2L473.5,448.6L474.0,448.6L474.4,448.9L474.9,448.5L475.3,448.6L475.8,449.0L476.3,448.7L476.7,448.5L477.2,448.9L477.6,449.2L478.1,448.5L478.6,448.1L478.8,449.5L479.0,449.0L479.5,449.1L479.9,449.4L480.4,448.9" fill="none" stroke="#b81131" stroke-width="1.85" stroke-linejoin="round"/>
<path d="M411.5,412.5L411.5,417.4L412.0,417.2L412.4,417.1L412.9,416.8L413.3,416.9L413.8,417.6L414.3,418.6L414.7,418.7L415.2,419.3L415.6,420.2L416.1,421.2L416.6,422.1L417.0,423.0L417.5,423.5L417.9,425.0L418.4,425.9L418.6,426.8L418.8,426.6L419.3,428.5L419.8,428.9L420.2,429.9L420.7,430.7L421.1,432.0L421.6,432.9L422.1,433.3L422.3,433.8L422.5,434.6L423.0,435.2L423.4,436.5L423.9,437.0L424.1,437.7L424.4,438.3L424.8,439.3L425.3,439.9L425.7,440.4L426.2,441.3L426.7,442.7L427.1,442.9L427.6,443.9L428.0,444.5L428.5,444.3L429.0,445.9L429.4,446.4L429.9,446.1L430.3,447.0L430.8,448.2L431.3,447.1L431.5,448.2L431.7,448.7L432.2,449.5L432.6,449.9L433.1,449.8L433.5,450.9L434.0,451.2L434.5,451.1L434.9,451.9L435.4,451.9L435.8,452.7L436.3,452.6L436.8,453.3L437.2,453.4L437.7,453.9L438.1,454.2L438.6,454.0L439.1,454.9L439.5,455.1L440.0,455.2L440.4,455.7L440.9,456.0L441.4,456.3L441.8,456.4L442.3,456.3L442.7,456.7L443.2,456.5L443.7,456.7L444.1,457.2L444.6,455.7L444.8,457.0L445.0,458.1L445.5,458.3L445.9,457.9L446.4,457.3L446.6,458.3L446.9,458.0L447.3,459.1L447.8,459.1L448.2,458.9L448.7,459.3L449.2,459.5L449.6,459.2L450.1,459.2L450.5,459.5L451.0,459.3L451.5,459.3L451.9,460.0L452.4,460.1L452.8,459.8L453.3,459.8L453.8,459.4L454.0,460.7L454.2,461.3L454.7,461.0L455.1,461.0L455.6,460.2L456.1,460.7L456.5,460.8L457.0,460.7L457.4,460.8L457.9,461.3L458.4,461.9L458.8,461.2L459.3,460.6L459.5,461.5L459.7,461.9L460.2,461.8L460.6,461.6L461.1,461.7L461.6,461.7L462.0,461.5L462.5,462.5L462.9,461.9L463.1,462.9L463.4,462.1L463.9,461.9L464.3,462.2L464.8,461.9L465.2,462.3L465.7,462.3L466.2,461.9L466.6,463.2L467.1,462.4L467.5,462.5L468.0,463.0L468.5,462.7L468.9,462.2L469.1,463.1L469.4,462.2L469.8,462.7L470.3,463.0L470.8,462.5L471.2,463.2L471.7,463.0L472.1,463.8L472.6,463.0L473.1,463.5L473.5,463.4L474.0,463.3L474.4,463.4L474.9,463.7L475.3,463.2L475.8,463.8L476.3,463.3L476.7,463.5L477.2,463.6L477.6,463.2L478.1,463.8L478.6,463.4L479.0,463.6L479.5,463.9L479.9,463.8L480.4,464.0" fill="none" stroke="#1c3f72" stroke-width="1.85" stroke-linejoin="round"/>
<path d="M411.5,427.9L411.8,426.1L412.1,426.1L412.4,427.2L412.8,428.4L413.1,427.9L413.4,429.7L413.7,427.4L413.9,429.4L414.0,427.6L414.3,430.0L414.6,429.3L414.9,430.0L415.1,433.1L415.3,430.3L415.6,433.8L415.9,432.6L416.2,434.6L416.5,433.9L416.8,437.1L417.1,437.4L417.5,435.8L417.7,440.0L417.8,438.0L418.1,438.5L418.4,438.8L418.7,441.9L419.0,441.3L419.3,436.7L419.5,440.9L419.6,442.1L420.0,439.3L420.2,444.3L420.3,443.6L420.6,445.3L420.9,442.2L421.2,445.3L421.5,446.0L421.8,445.4L422.1,447.6L422.5,445.5L422.8,446.7L423.1,444.8L423.3,449.3L423.4,449.2L423.7,450.2L424.0,447.6L424.3,447.8L424.7,448.6L425.0,449.7L425.3,450.7L425.6,451.8L425.9,448.5L426.2,451.9L426.5,453.7L426.8,453.6L427.2,451.3L427.4,453.4L427.5,452.2L427.7,456.2L427.8,456.0L428.1,454.4L428.4,454.6L428.7,454.6L429.0,455.7L429.4,451.8L429.6,456.3L429.7,454.3L430.0,456.1L430.3,454.4L430.5,459.8L430.6,457.8L430.9,457.3L431.2,455.4L431.4,461.0L431.5,455.4L431.7,460.4L431.9,456.8L432.2,454.1L432.4,458.9L432.5,458.8L432.8,457.5L433.1,461.1L433.4,461.6L433.7,458.9L434.0,458.6L434.4,457.6L434.6,460.0L434.7,461.7L435.0,459.4L435.3,459.2L435.6,461.0L435.9,458.8L436.1,463.9L436.2,461.6L436.6,461.8L436.9,460.1L437.2,462.9L437.5,460.7L437.8,464.7L438.1,459.5L438.3,464.9L438.4,462.1L438.7,462.5L439.1,464.5L439.4,465.6L439.7,463.1L440.0,461.1L440.2,465.9L440.3,463.9L440.6,465.2L440.9,464.7L441.3,460.1L441.5,464.6L441.6,467.3L441.9,464.2L442.2,466.1L442.5,461.3L442.7,466.6L442.8,465.1L443.1,465.6L443.4,464.2L443.8,465.8L444.1,464.8L444.4,460.7L444.6,465.5L444.7,466.4L445.0,468.2L445.3,465.9L445.6,464.4L445.8,468.2L445.9,465.2L446.3,464.3L446.5,466.9L446.6,466.8L446.9,467.6L447.2,469.2L447.5,466.7L447.8,463.7L448.0,468.0L448.1,464.7L448.3,469.0L448.5,466.7L448.8,467.5L449.1,472.2L449.4,468.2L449.7,465.6L450.0,469.4L450.3,467.5L450.6,468.5L451.0,466.9L451.3,467.8L451.6,466.8L451.9,468.5L452.2,468.1L452.5,466.0L452.7,470.5L452.8,470.0L453.2,467.3L453.4,469.4L453.5,471.0L453.8,466.0L454.1,469.0L454.4,469.9L454.7,469.3L455.0,471.0L455.3,471.8L455.7,470.8L456.0,469.0L456.3,471.1L456.6,469.1L456.9,468.2L457.2,467.6L457.4,472.6L457.5,472.0L457.9,465.4L458.1,470.5L458.2,469.5L458.5,470.2L458.8,468.2L459.0,470.4L459.1,467.4L459.3,471.4L459.4,469.5L459.7,470.3L460.0,470.5L460.4,471.8L460.7,468.6L461.0,472.5L461.3,471.6L461.6,471.6L461.9,472.4L462.2,472.5L462.5,469.7L462.9,470.5L463.2,471.6L463.5,470.9L463.8,469.3L464.1,470.8L464.4,470.0L464.7,468.9L464.9,472.2L465.1,471.0L465.4,471.1L465.7,471.1L466.0,471.2L466.3,470.5L466.6,473.1L466.9,468.8L467.1,472.3L467.2,471.3L467.6,470.4L467.8,473.3L467.9,470.6L468.1,474.9L468.2,470.5L468.4,472.6L468.5,470.6L468.8,470.0L469.1,470.5L469.4,474.1L469.8,473.6L470.1,471.5L470.4,472.9L470.7,472.9L471.0,470.2L471.3,471.0L471.6,471.5L471.9,472.5L472.3,470.7L472.6,472.2L472.9,470.0L473.1,474.7L473.2,470.2L473.5,473.3L473.8,473.3L474.1,470.2L474.3,474.2L474.4,474.2L474.8,473.4L475.1,472.1L475.3,475.5L475.4,475.1L475.7,474.2L476.0,468.9L476.2,473.6L476.3,471.9L476.6,468.5L477.0,472.7L477.3,470.9L477.5,473.3L477.6,470.3L477.8,474.7L477.9,474.8L478.2,473.2L478.5,474.0L478.8,473.9L479.1,468.7L479.3,474.4L479.5,474.5L479.8,470.6L480.0,473.2L480.1,473.9L480.4,473.8" fill="none" stroke="#1c3f72" stroke-width="1.9" stroke-linejoin="round"/>
<text x="483.00" y="450.90" font-size="8" text-anchor="start" fill="#231f20" font-weight="normal"  stroke="#231f20" stroke-width="0.3">2</text>
<text x="483.00" y="465.40" font-size="8" text-anchor="start" fill="#231f20" font-weight="normal"  stroke="#231f20" stroke-width="0.3">2</text>
<text x="483.00" y="474.90" font-size="8" text-anchor="start" fill="#231f20" font-weight="normal"  stroke="#231f20" stroke-width="0.3">Veh</text>
<text x="6.80" y="521.30" font-size="11.2" text-anchor="start" fill="#000" font-weight="bold" letter-spacing="0.3">ii</text>
<text x="143.50" y="521.30" font-size="11.2" text-anchor="start" fill="#000" font-weight="bold" letter-spacing="0.3">ii</text>
<line x1="39.90" y1="533.40" x2="39.90" y2="619.90" stroke="#2a2a2a" stroke-width="1.4"/>
<line x1="37.30" y1="619.20" x2="39.90" y2="619.20" stroke="#2a2a2a" stroke-width="1"/>
<text x="33.70" y="621.90" font-size="7.7" text-anchor="end" fill="#3a3a3a" font-weight="normal"  stroke="#3a3a3a" stroke-width="0.3">0</text>
<line x1="37.30" y1="591.53" x2="39.90" y2="591.53" stroke="#2a2a2a" stroke-width="1"/>
<text x="33.70" y="594.23" font-size="7.7" text-anchor="end" fill="#3a3a3a" font-weight="normal"  stroke="#3a3a3a" stroke-width="0.3">100</text>
<line x1="37.30" y1="563.87" x2="39.90" y2="563.87" stroke="#2a2a2a" stroke-width="1"/>
<text x="33.70" y="566.57" font-size="7.7" text-anchor="end" fill="#3a3a3a" font-weight="normal"  stroke="#3a3a3a" stroke-width="0.3">200</text>
<line x1="37.30" y1="536.20" x2="39.90" y2="536.20" stroke="#2a2a2a" stroke-width="1"/>
<text x="33.70" y="538.90" font-size="7.7" text-anchor="end" fill="#3a3a3a" font-weight="normal"  stroke="#3a3a3a" stroke-width="0.3">300</text>
<line x1="39.90" y1="619.20" x2="48.90" y2="619.20" stroke="#2a2a2a" stroke-width="1.4"/>
<line x1="48.90" y1="617.50" x2="48.90" y2="621.40" stroke="#2a2a2a" stroke-width="1"/>
<line x1="57.00" y1="619.20" x2="127.30" y2="619.20" stroke="#2a2a2a" stroke-width="1.4"/>
<line x1="57.00" y1="617.50" x2="57.00" y2="621.40" stroke="#2a2a2a" stroke-width="1"/>
<line x1="64.95" y1="619.20" x2="64.95" y2="620.60" stroke="#2a2a2a" stroke-width="0.9"/>
<line x1="73.40" y1="619.20" x2="73.40" y2="621.40" stroke="#2a2a2a" stroke-width="0.9"/>
<line x1="81.85" y1="619.20" x2="81.85" y2="620.60" stroke="#2a2a2a" stroke-width="0.9"/>
<line x1="90.30" y1="619.20" x2="90.30" y2="621.40" stroke="#2a2a2a" stroke-width="0.9"/>
<line x1="98.75" y1="619.20" x2="98.75" y2="620.60" stroke="#2a2a2a" stroke-width="0.9"/>
<line x1="107.20" y1="619.20" x2="107.20" y2="621.40" stroke="#2a2a2a" stroke-width="0.9"/>
<line x1="115.65" y1="619.20" x2="115.65" y2="620.60" stroke="#2a2a2a" stroke-width="0.9"/>
<line x1="124.10" y1="619.20" x2="124.10" y2="621.40" stroke="#2a2a2a" stroke-width="0.9"/>
<text x="0" y="0" font-size="8.3" text-anchor="end" fill="#333" transform="translate(51.65,628.80) rotate(-45)" textLength="11.4" lengthAdjust="spacingAndGlyphs" stroke="#333" stroke-width="0.3">Veh</text>
<text x="0" y="0" font-size="8.8" text-anchor="end" fill="#333" transform="translate(76.60,629.80) rotate(-45)" textLength="10.4" lengthAdjust="spacingAndGlyphs" stroke="#333" stroke-width="0.3">0.5</text>
<text x="0" y="0" font-size="8.8" text-anchor="end" fill="#333" transform="translate(93.50,629.80) rotate(-45)" textLength="10.4" lengthAdjust="spacingAndGlyphs" stroke="#333" stroke-width="0.3">1.0</text>
<text x="0" y="0" font-size="8.8" text-anchor="end" fill="#333" transform="translate(110.40,629.80) rotate(-45)" textLength="10.4" lengthAdjust="spacingAndGlyphs" stroke="#333" stroke-width="0.3">1.5</text>
<text x="0" y="0" font-size="8.8" text-anchor="end" fill="#333" transform="translate(127.30,629.80) rotate(-45)" textLength="10.4" lengthAdjust="spacingAndGlyphs" stroke="#333" stroke-width="0.3">2.0</text>
<text x="0" y="0" font-size="8" text-anchor="middle" fill="#333" class="hv" transform="translate(14.60,576.20) rotate(-90)" textLength="13.4" lengthAdjust="spacingAndGlyphs" stroke="#333" stroke-width="0.45">AUC</text>
<text x="54.50" y="649.20" font-size="8.4" fill="#333" class="hv" textLength="57.60" lengthAdjust="spacingAndGlyphs" stroke="#333" stroke-width="0.45">Concentration (μM)</text>
<line x1="58.19" y1="557.50" x2="58.19" y2="593.47" stroke="#254a78" stroke-width="0.9"/>
<line x1="56.79" y1="557.50" x2="59.59" y2="557.50" stroke="#254a78" stroke-width="0.9"/>
<line x1="56.79" y1="593.47" x2="59.59" y2="593.47" stroke="#254a78" stroke-width="0.9"/>
<line x1="63.26" y1="600.11" x2="63.26" y2="612.28" stroke="#254a78" stroke-width="0.9"/>
<line x1="61.86" y1="600.11" x2="64.66" y2="600.11" stroke="#254a78" stroke-width="0.9"/>
<line x1="61.86" y1="612.28" x2="64.66" y2="612.28" stroke="#254a78" stroke-width="0.9"/>
<line x1="73.40" y1="612.12" x2="73.40" y2="617.65" stroke="#254a78" stroke-width="0.9"/>
<line x1="72.00" y1="612.12" x2="74.80" y2="612.12" stroke="#254a78" stroke-width="0.9"/>
<line x1="72.00" y1="617.65" x2="74.80" y2="617.65" stroke="#254a78" stroke-width="0.9"/>
<line x1="124.10" y1="614.39" x2="124.10" y2="618.81" stroke="#254a78" stroke-width="0.9"/>
<line x1="122.70" y1="614.39" x2="125.50" y2="614.39" stroke="#254a78" stroke-width="0.9"/>
<line x1="122.70" y1="618.81" x2="125.50" y2="618.81" stroke="#254a78" stroke-width="0.9"/>
<path d="M58.19,575.49L63.26,606.20L73.40,614.88L124.10,616.60" fill="none" stroke="#254a78" stroke-width="1.3"/>
<path d="M56.39,576.79L59.99,576.79L58.19,573.89Z" fill="#254a78"/>
<path d="M61.46,607.50L65.06,607.50L63.26,604.60Z" fill="#254a78"/>
<path d="M71.60,616.18L75.20,616.18L73.40,613.28Z" fill="#254a78"/>
<path d="M122.30,617.90L125.90,617.90L124.10,615.00Z" fill="#254a78"/>
<line x1="58.19" y1="548.65" x2="58.19" y2="592.36" stroke="#c4122f" stroke-width="0.9"/>
<line x1="56.79" y1="548.65" x2="59.59" y2="548.65" stroke="#c4122f" stroke-width="0.9"/>
<line x1="56.79" y1="592.36" x2="59.59" y2="592.36" stroke="#c4122f" stroke-width="0.9"/>
<line x1="63.26" y1="583.79" x2="63.26" y2="607.03" stroke="#c4122f" stroke-width="0.9"/>
<line x1="61.86" y1="583.79" x2="64.66" y2="583.79" stroke="#c4122f" stroke-width="0.9"/>
<line x1="61.86" y1="607.03" x2="64.66" y2="607.03" stroke="#c4122f" stroke-width="0.9"/>
<line x1="73.40" y1="601.11" x2="73.40" y2="615.49" stroke="#c4122f" stroke-width="0.9"/>
<line x1="72.00" y1="601.11" x2="74.80" y2="601.11" stroke="#c4122f" stroke-width="0.9"/>
<line x1="72.00" y1="615.49" x2="74.80" y2="615.49" stroke="#c4122f" stroke-width="0.9"/>
<line x1="124.10" y1="611.56" x2="124.10" y2="618.20" stroke="#c4122f" stroke-width="0.9"/>
<line x1="122.70" y1="611.56" x2="125.50" y2="611.56" stroke="#c4122f" stroke-width="0.9"/>
<line x1="122.70" y1="618.20" x2="125.50" y2="618.20" stroke="#c4122f" stroke-width="0.9"/>
<path d="M58.19,570.51L63.26,595.41L73.40,608.30L124.10,614.88" fill="none" stroke="#c4122f" stroke-width="1.3"/>
<rect x="56.49" y="568.81" width="3.4" height="3.4" fill="#c4122f"/>
<rect x="61.56" y="593.71" width="3.4" height="3.4" fill="#c4122f"/>
<rect x="71.70" y="606.60" width="3.4" height="3.4" fill="#c4122f"/>
<rect x="122.40" y="613.18" width="3.4" height="3.4" fill="#c4122f"/>
<line x1="46.00" y1="546.88" x2="46.00" y2="572.89" stroke="#3f9a3f" stroke-width="0.9"/>
<line x1="44.50" y1="546.88" x2="47.50" y2="546.88" stroke="#3f9a3f" stroke-width="0.9"/>
<line x1="44.50" y1="572.89" x2="47.50" y2="572.89" stroke="#3f9a3f" stroke-width="0.9"/>
<circle cx="46.00" cy="559.88" r="1.4" fill="#3f9a3f"/>
<line x1="76.40" y1="537.40" x2="87.20" y2="537.40" stroke="#3f9a3f" stroke-width="1.2"/>
<circle cx="81.80" cy="537.40" r="1.2" fill="#3f9a3f"/>
<text x="89.20" y="540.20" font-size="7.6" text-anchor="start" fill="#5cb85a" font-weight="normal" textLength="22.3" lengthAdjust="spacingAndGlyphs" stroke="#5cb85a" stroke-width="0.3">Vehicle</text>
<line x1="76.40" y1="549.50" x2="87.20" y2="549.50" stroke="#c4122f" stroke-width="1.2"/>
<rect x="80.20" y="547.90" width="3.2" height="3.2" fill="#c4122f"/>
<text x="89.20" y="552.30" font-size="7.6" text-anchor="start" fill="#c8102e" font-weight="normal" textLength="32.2" lengthAdjust="spacingAndGlyphs" stroke="#c8102e" stroke-width="0.3">PRN1008</text>
<line x1="76.40" y1="561.10" x2="87.20" y2="561.10" stroke="#254a78" stroke-width="1.2"/>
<path d="M80.10,562.30L83.50,562.30L81.80,559.60Z" fill="#254a78"/>
<text x="89.20" y="563.90" font-size="7.6" text-anchor="start" fill="#284a7a" font-weight="normal" textLength="27.2" lengthAdjust="spacingAndGlyphs" stroke="#284a7a" stroke-width="0.3">PRN473</text>
<line x1="163.50" y1="533.40" x2="163.50" y2="620.10" stroke="#2a2a2a" stroke-width="1.4"/>
<line x1="160.90" y1="619.40" x2="163.50" y2="619.40" stroke="#2a2a2a" stroke-width="1"/>
<text x="157.30" y="622.10" font-size="7.7" text-anchor="end" fill="#3a3a3a" font-weight="normal"  stroke="#3a3a3a" stroke-width="0.3">0</text>
<line x1="160.90" y1="591.67" x2="163.50" y2="591.67" stroke="#2a2a2a" stroke-width="1"/>
<text x="157.30" y="594.37" font-size="7.7" text-anchor="end" fill="#3a3a3a" font-weight="normal"  stroke="#3a3a3a" stroke-width="0.3">100</text>
<line x1="160.90" y1="563.93" x2="163.50" y2="563.93" stroke="#2a2a2a" stroke-width="1"/>
<text x="157.30" y="566.63" font-size="7.7" text-anchor="end" fill="#3a3a3a" font-weight="normal"  stroke="#3a3a3a" stroke-width="0.3">200</text>
<line x1="160.90" y1="536.20" x2="163.50" y2="536.20" stroke="#2a2a2a" stroke-width="1"/>
<text x="157.30" y="538.90" font-size="7.7" text-anchor="end" fill="#3a3a3a" font-weight="normal"  stroke="#3a3a3a" stroke-width="0.3">300</text>
<line x1="163.50" y1="619.40" x2="172.30" y2="619.40" stroke="#2a2a2a" stroke-width="1.4"/>
<line x1="172.30" y1="617.70" x2="172.30" y2="621.60" stroke="#2a2a2a" stroke-width="1"/>
<line x1="180.40" y1="619.40" x2="251.10" y2="619.40" stroke="#2a2a2a" stroke-width="1.4"/>
<line x1="180.40" y1="617.70" x2="180.40" y2="621.60" stroke="#2a2a2a" stroke-width="1"/>
<line x1="188.40" y1="619.40" x2="188.40" y2="620.80" stroke="#2a2a2a" stroke-width="0.9"/>
<line x1="196.90" y1="619.40" x2="196.90" y2="621.60" stroke="#2a2a2a" stroke-width="0.9"/>
<line x1="205.40" y1="619.40" x2="205.40" y2="620.80" stroke="#2a2a2a" stroke-width="0.9"/>
<line x1="213.90" y1="619.40" x2="213.90" y2="621.60" stroke="#2a2a2a" stroke-width="0.9"/>
<line x1="222.40" y1="619.40" x2="222.40" y2="620.80" stroke="#2a2a2a" stroke-width="0.9"/>
<line x1="230.90" y1="619.40" x2="230.90" y2="621.60" stroke="#2a2a2a" stroke-width="0.9"/>
<line x1="239.40" y1="619.40" x2="239.40" y2="620.80" stroke="#2a2a2a" stroke-width="0.9"/>
<line x1="247.90" y1="619.40" x2="247.90" y2="621.60" stroke="#2a2a2a" stroke-width="0.9"/>
<text x="0" y="0" font-size="8.3" text-anchor="end" fill="#333" transform="translate(175.65,629.00) rotate(-45)" textLength="11.4" lengthAdjust="spacingAndGlyphs" stroke="#333" stroke-width="0.3">Veh</text>
<text x="0" y="0" font-size="8.8" text-anchor="end" fill="#333" transform="translate(200.10,630.00) rotate(-45)" textLength="10.4" lengthAdjust="spacingAndGlyphs" stroke="#333" stroke-width="0.3">0.5</text>
<text x="0" y="0" font-size="8.8" text-anchor="end" fill="#333" transform="translate(217.10,630.00) rotate(-45)" textLength="10.4" lengthAdjust="spacingAndGlyphs" stroke="#333" stroke-width="0.3">1.0</text>
<text x="0" y="0" font-size="8.8" text-anchor="end" fill="#333" transform="translate(234.10,630.00) rotate(-45)" textLength="10.4" lengthAdjust="spacingAndGlyphs" stroke="#333" stroke-width="0.3">1.5</text>
<text x="0" y="0" font-size="8.8" text-anchor="end" fill="#333" transform="translate(251.10,630.00) rotate(-45)" textLength="10.4" lengthAdjust="spacingAndGlyphs" stroke="#333" stroke-width="0.3">2.0</text>
<text x="178.00" y="649.20" font-size="8.4" fill="#333" class="hv" textLength="59.00" lengthAdjust="spacingAndGlyphs" stroke="#333" stroke-width="0.45">Concentration (μM)</text>
<line x1="181.60" y1="540.36" x2="181.60" y2="545.91" stroke="#254a78" stroke-width="0.9"/>
<line x1="180.20" y1="540.36" x2="183.00" y2="540.36" stroke="#254a78" stroke-width="0.9"/>
<line x1="180.20" y1="545.91" x2="183.00" y2="545.91" stroke="#254a78" stroke-width="0.9"/>
<line x1="186.70" y1="570.87" x2="186.70" y2="584.73" stroke="#254a78" stroke-width="0.9"/>
<line x1="185.30" y1="570.87" x2="188.10" y2="570.87" stroke="#254a78" stroke-width="0.9"/>
<line x1="185.30" y1="584.73" x2="188.10" y2="584.73" stroke="#254a78" stroke-width="0.9"/>
<line x1="196.90" y1="588.34" x2="196.90" y2="607.20" stroke="#254a78" stroke-width="0.9"/>
<line x1="195.50" y1="588.34" x2="198.30" y2="588.34" stroke="#254a78" stroke-width="0.9"/>
<line x1="195.50" y1="607.20" x2="198.30" y2="607.20" stroke="#254a78" stroke-width="0.9"/>
<line x1="247.90" y1="596.10" x2="247.90" y2="611.63" stroke="#254a78" stroke-width="0.9"/>
<line x1="246.50" y1="596.10" x2="249.30" y2="596.10" stroke="#254a78" stroke-width="0.9"/>
<line x1="246.50" y1="611.63" x2="249.30" y2="611.63" stroke="#254a78" stroke-width="0.9"/>
<path d="M181.60,543.13L186.70,577.80L196.90,597.77L247.90,603.87" fill="none" stroke="#254a78" stroke-width="1.3"/>
<path d="M179.80,544.43L183.40,544.43L181.60,541.53Z" fill="#254a78"/>
<path d="M184.90,579.10L188.50,579.10L186.70,576.20Z" fill="#254a78"/>
<path d="M195.10,599.07L198.70,599.07L196.90,596.17Z" fill="#254a78"/>
<path d="M246.10,605.17L249.70,605.17L247.90,602.27Z" fill="#254a78"/>
<line x1="181.60" y1="536.20" x2="181.60" y2="547.02" stroke="#c4122f" stroke-width="0.9"/>
<line x1="180.20" y1="547.02" x2="183.00" y2="547.02" stroke="#c4122f" stroke-width="0.9"/>
<line x1="186.70" y1="547.02" x2="186.70" y2="568.65" stroke="#c4122f" stroke-width="0.9"/>
<line x1="185.30" y1="547.02" x2="188.10" y2="547.02" stroke="#c4122f" stroke-width="0.9"/>
<line x1="185.30" y1="568.65" x2="188.10" y2="568.65" stroke="#c4122f" stroke-width="0.9"/>
<line x1="196.90" y1="564.77" x2="196.90" y2="592.50" stroke="#c4122f" stroke-width="0.9"/>
<line x1="195.50" y1="564.77" x2="198.30" y2="564.77" stroke="#c4122f" stroke-width="0.9"/>
<line x1="195.50" y1="592.50" x2="198.30" y2="592.50" stroke="#c4122f" stroke-width="0.9"/>
<line x1="247.90" y1="585.15" x2="247.90" y2="607.89" stroke="#c4122f" stroke-width="0.9"/>
<line x1="246.50" y1="585.15" x2="249.30" y2="585.15" stroke="#c4122f" stroke-width="0.9"/>
<line x1="246.50" y1="607.89" x2="249.30" y2="607.89" stroke="#c4122f" stroke-width="0.9"/>
<path d="M181.60,541.47L186.70,557.83L196.90,578.63L247.90,596.52" fill="none" stroke="#c4122f" stroke-width="1.3"/>
<rect x="179.90" y="539.77" width="3.4" height="3.4" fill="#c4122f"/>
<rect x="185.00" y="556.13" width="3.4" height="3.4" fill="#c4122f"/>
<rect x="195.20" y="576.93" width="3.4" height="3.4" fill="#c4122f"/>
<rect x="246.20" y="594.82" width="3.4" height="3.4" fill="#c4122f"/>
<line x1="169.90" y1="536.20" x2="169.90" y2="539.53" stroke="#3f9a3f" stroke-width="0.9"/>
<line x1="168.40" y1="536.20" x2="171.40" y2="536.20" stroke="#3f9a3f" stroke-width="0.9"/>
<line x1="168.40" y1="539.53" x2="171.40" y2="539.53" stroke="#3f9a3f" stroke-width="0.9"/>
<circle cx="169.90" cy="537.86" r="1.4" fill="#3f9a3f"/>
<line x1="202.90" y1="537.80" x2="213.30" y2="537.80" stroke="#3f9a3f" stroke-width="1.2"/>
<circle cx="208.10" cy="537.80" r="1.2" fill="#3f9a3f"/>
<text x="215.70" y="540.60" font-size="7.6" text-anchor="start" fill="#5cb85a" font-weight="normal" textLength="22.3" lengthAdjust="spacingAndGlyphs" stroke="#5cb85a" stroke-width="0.3">Vehicle</text>
<line x1="202.90" y1="549.50" x2="213.30" y2="549.50" stroke="#c4122f" stroke-width="1.2"/>
<rect x="206.50" y="547.90" width="3.2" height="3.2" fill="#c4122f"/>
<text x="215.70" y="552.30" font-size="7.6" text-anchor="start" fill="#c8102e" font-weight="normal" textLength="32.2" lengthAdjust="spacingAndGlyphs" stroke="#c8102e" stroke-width="0.3">PRN1008</text>
<line x1="202.90" y1="561.50" x2="213.30" y2="561.50" stroke="#254a78" stroke-width="1.2"/>
<path d="M206.40,562.70L209.80,562.70L208.10,560.00Z" fill="#254a78"/>
<text x="215.70" y="564.30" font-size="7.6" text-anchor="start" fill="#284a7a" font-weight="normal" textLength="27.2" lengthAdjust="spacingAndGlyphs" stroke="#284a7a" stroke-width="0.3">PRN473</text>
<text x="269.30" y="521.30" font-size="11.2" text-anchor="start" fill="#000" font-weight="bold" letter-spacing="0.3">iii</text>
<line x1="302.00" y1="527.00" x2="302.00" y2="620.00" stroke="#2a2a2a" stroke-width="1.4"/>
<line x1="302.00" y1="619.30" x2="395.50" y2="619.30" stroke="#2a2a2a" stroke-width="1.4"/>
<line x1="299.20" y1="619.30" x2="302.00" y2="619.30" stroke="#2a2a2a" stroke-width="1"/>
<text x="296.40" y="622.00" font-size="7.7" text-anchor="end" fill="#3a3a3a" font-weight="normal"  stroke="#3a3a3a" stroke-width="0.3">0</text>
<line x1="299.20" y1="593.13" x2="302.00" y2="593.13" stroke="#2a2a2a" stroke-width="1"/>
<text x="296.40" y="595.83" font-size="7.7" text-anchor="end" fill="#3a3a3a" font-weight="normal"  stroke="#3a3a3a" stroke-width="0.3">100</text>
<line x1="299.20" y1="566.97" x2="302.00" y2="566.97" stroke="#2a2a2a" stroke-width="1"/>
<text x="296.40" y="569.67" font-size="7.7" text-anchor="end" fill="#3a3a3a" font-weight="normal"  stroke="#3a3a3a" stroke-width="0.3">200</text>
<line x1="299.20" y1="540.80" x2="302.00" y2="540.80" stroke="#2a2a2a" stroke-width="1"/>
<text x="296.40" y="543.50" font-size="7.7" text-anchor="end" fill="#3a3a3a" font-weight="normal"  stroke="#3a3a3a" stroke-width="0.3">300</text>
<text x="0" y="0" font-size="8.8" text-anchor="middle" fill="#333" class="hv" transform="translate(277.4,572) rotate(-90)" textLength="16.5" lengthAdjust="spacingAndGlyphs" stroke="#333" stroke-width="0.45">AUC</text>
<rect x="306.05" y="536.34" width="10.70" height="82.96" fill="#3dad3a" stroke="#2f8a2c" stroke-width="0.5"/>
<line x1="311.40" y1="536.09" x2="311.40" y2="532.43" stroke="#222" stroke-width="0.9"/>
<line x1="308.90" y1="532.43" x2="313.90" y2="532.43" stroke="#222" stroke-width="0.9"/>
<rect x="319.55" y="542.88" width="10.70" height="76.42" fill="#c5122f" stroke="#a00e26" stroke-width="0.5"/>
<line x1="324.90" y1="542.63" x2="324.90" y2="539.75" stroke="#222" stroke-width="0.9"/>
<line x1="322.40" y1="539.75" x2="327.40" y2="539.75" stroke="#222" stroke-width="0.9"/>
<rect x="333.25" y="542.62" width="10.80" height="76.68" fill="#1b4a85" stroke="#123a6a" stroke-width="0.5"/>
<line x1="338.65" y1="542.37" x2="338.65" y2="537.14" stroke="#222" stroke-width="0.9"/>
<line x1="336.15" y1="537.14" x2="341.15" y2="537.14" stroke="#222" stroke-width="0.9"/>
<rect x="353.25" y="554.66" width="10.30" height="64.64" fill="#3dad3a" stroke="#2f8a2c" stroke-width="0.5"/>
<line x1="358.40" y1="554.41" x2="358.40" y2="546.56" stroke="#222" stroke-width="0.9"/>
<line x1="355.90" y1="546.56" x2="360.90" y2="546.56" stroke="#222" stroke-width="0.9"/>
<rect x="367.05" y="550.47" width="10.20" height="68.83" fill="#c5122f" stroke="#a00e26" stroke-width="0.5"/>
<line x1="372.15" y1="550.22" x2="372.15" y2="542.37" stroke="#222" stroke-width="0.9"/>
<line x1="369.65" y1="542.37" x2="374.65" y2="542.37" stroke="#222" stroke-width="0.9"/>
<rect x="380.75" y="552.82" width="10.50" height="66.48" fill="#1b4a85" stroke="#123a6a" stroke-width="0.5"/>
<line x1="386.00" y1="552.57" x2="386.00" y2="542.11" stroke="#222" stroke-width="0.9"/>
<line x1="383.50" y1="542.11" x2="388.50" y2="542.11" stroke="#222" stroke-width="0.9"/>
<text x="325.00" y="632.30" font-size="8" text-anchor="middle" fill="#333" font-weight="normal"  stroke="#333" stroke-width="0.3">Thr</text>
<text x="325.00" y="642.50" font-size="8" text-anchor="middle" fill="#333" font-weight="normal"  stroke="#333" stroke-width="0.3">0.04 U/ml</text>
<text x="371.80" y="632.30" font-size="8" text-anchor="middle" fill="#333" font-weight="normal"  stroke="#333" stroke-width="0.3">U46619</text>
<text x="371.80" y="642.50" font-size="8" text-anchor="middle" fill="#333" font-weight="normal"  stroke="#333" stroke-width="0.3">3 μM</text>
<rect x="401.3" y="559.50" width="6.2" height="5.2" fill="#3dad3a"/>
<text x="410.40" y="563.90" font-size="7.6" text-anchor="start" fill="#5cb85a" font-weight="normal" textLength="22.3" lengthAdjust="spacingAndGlyphs" stroke="#5cb85a" stroke-width="0.3">Vehicle</text>
<rect x="401.3" y="570.80" width="6.2" height="5.2" fill="#c5122f"/>
<text x="410.40" y="575.20" font-size="7.6" text-anchor="start" fill="#c8102e" font-weight="normal" textLength="51.5" lengthAdjust="spacingAndGlyphs" stroke="#c8102e" stroke-width="0.3">PRN1008 2 μM</text>
<rect x="401.3" y="582.00" width="6.2" height="5.2" fill="#1b4a85"/>
<text x="410.40" y="586.40" font-size="7.6" text-anchor="start" fill="#284a7a" font-weight="normal" textLength="45.8" lengthAdjust="spacingAndGlyphs" stroke="#284a7a" stroke-width="0.3">PRN473 2 μM</text>
<rect x="0.5" y="0.5" width="519" height="658" fill="none" stroke="#5e5e5e" stroke-width="1"/>
</svg>
</body></html>
